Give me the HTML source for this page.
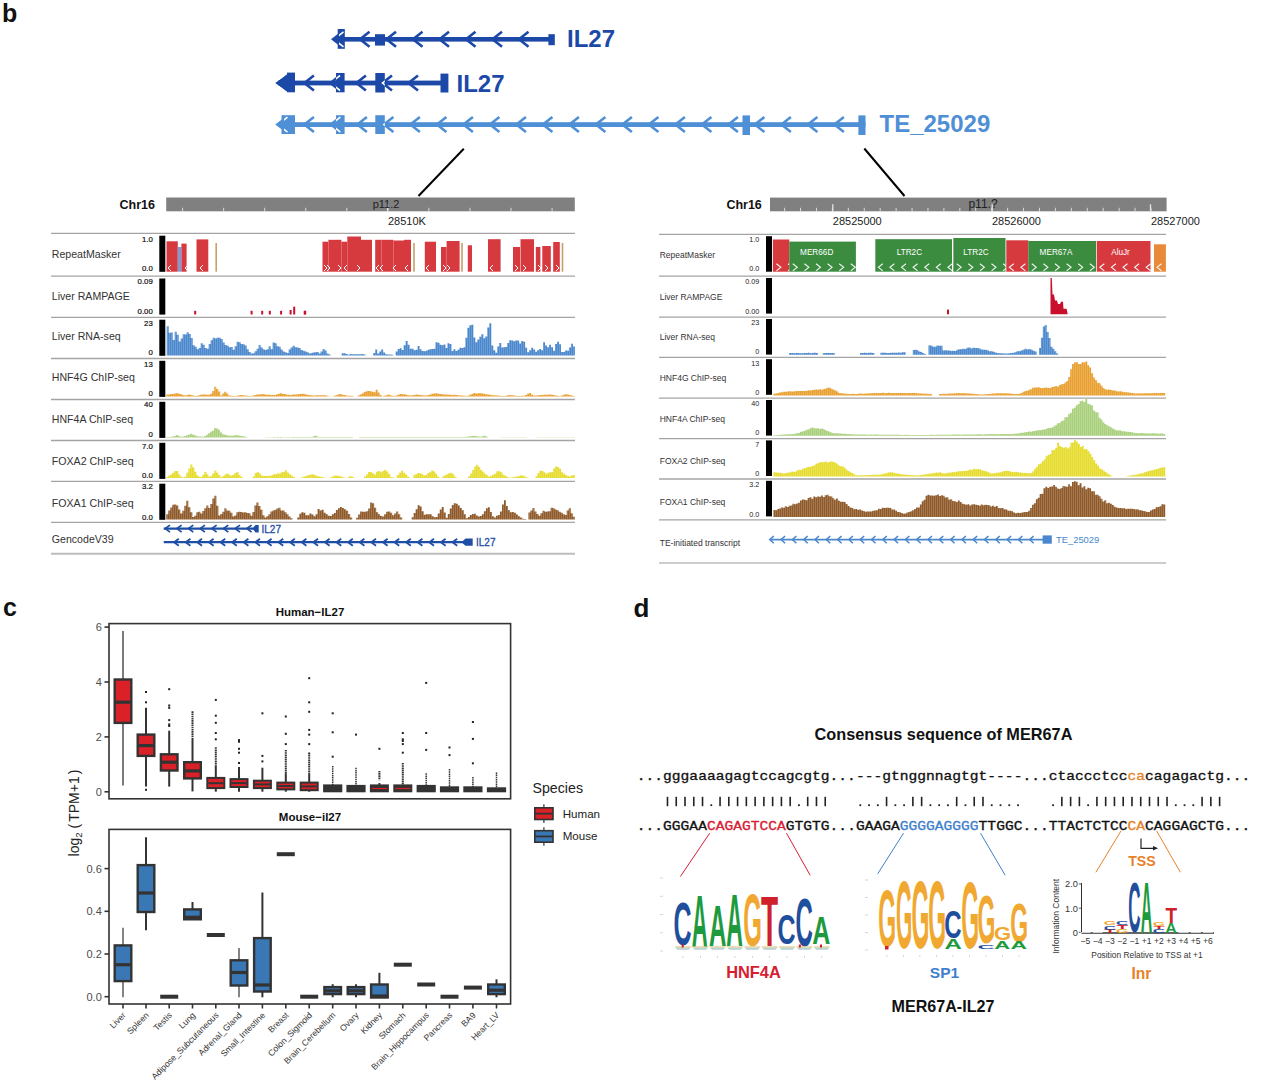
<!DOCTYPE html><html><head><meta charset="utf-8"><style>html,body{margin:0;padding:0;background:#fff;}svg{display:block;}</style></head><body>
<svg width="1269" height="1082" viewBox="0 0 1269 1082">
<defs><pattern id="stripe1" width="2" height="10" patternUnits="userSpaceOnUse"><rect x="1.5" y="0" width="0.5" height="10" fill="#ffffff" fill-opacity="0.35"/></pattern><pattern id="stripe2" width="3.8" height="10" patternUnits="userSpaceOnUse"><rect x="3" y="0" width="0.8" height="10" fill="#ffffff" fill-opacity="0.22"/></pattern></defs>
<rect x="0" y="0" width="1269" height="1082" fill="#ffffff" />
<text x="2" y="21.6" font-size="25" fill="#111" font-weight="bold" text-anchor="start" font-family='"Liberation Sans", sans-serif' >b</text>
<text x="3" y="616" font-size="25" fill="#111" font-weight="bold" text-anchor="start" font-family='"Liberation Sans", sans-serif' >c</text>
<text x="633.5" y="616.5" font-size="26" fill="#111" font-weight="bold" text-anchor="start" font-family='"Liberation Sans", sans-serif' >d</text>
<rect x="334" y="37" width="217" height="4.6" fill="#1c48a8" />
<polyline points="343.5,31.8 334,39.3 343.5,46.8" fill="none" stroke="#1c48a8" stroke-width="2.6" stroke-linecap="butt" stroke-linejoin="miter"/>
<polyline points="369.5,31.8 360,39.3 369.5,46.8" fill="none" stroke="#1c48a8" stroke-width="2.6" stroke-linecap="butt" stroke-linejoin="miter"/>
<polyline points="396,31.8 386.5,39.3 396,46.8" fill="none" stroke="#1c48a8" stroke-width="2.6" stroke-linecap="butt" stroke-linejoin="miter"/>
<polyline points="422.5,31.8 413,39.3 422.5,46.8" fill="none" stroke="#1c48a8" stroke-width="2.6" stroke-linecap="butt" stroke-linejoin="miter"/>
<polyline points="449,31.8 439.5,39.3 449,46.8" fill="none" stroke="#1c48a8" stroke-width="2.6" stroke-linecap="butt" stroke-linejoin="miter"/>
<polyline points="475.5,31.8 466,39.3 475.5,46.8" fill="none" stroke="#1c48a8" stroke-width="2.6" stroke-linecap="butt" stroke-linejoin="miter"/>
<polyline points="502,31.8 492.5,39.3 502,46.8" fill="none" stroke="#1c48a8" stroke-width="2.6" stroke-linecap="butt" stroke-linejoin="miter"/>
<polyline points="528.5,31.8 519,39.3 528.5,46.8" fill="none" stroke="#1c48a8" stroke-width="2.6" stroke-linecap="butt" stroke-linejoin="miter"/>
<rect x="337.7" y="29" width="7.1" height="19.8" fill="#1c48a8" />
<rect x="375" y="34.2" width="10" height="11.4" fill="#1c48a8" />
<rect x="548.4" y="34.2" width="6.4" height="11" fill="#1c48a8" />
<clipPath id="gc1"><rect x="337.7" y="29" width="7.1" height="19.8"/></clipPath>
<g clip-path="url(#gc1)">
<polyline points="343.5,31.8 334,39.3 343.5,46.8" fill="none" stroke="#ffffff" stroke-width="1.6" stroke-linecap="butt" stroke-linejoin="miter"/>
</g>
<clipPath id="gc2"><rect x="375" y="34.2" width="10" height="11.4"/></clipPath>
<g clip-path="url(#gc2)">
</g>
<clipPath id="gc3"><rect x="548.4" y="34.2" width="6.4" height="11"/></clipPath>
<g clip-path="url(#gc3)">
</g>
<polygon points="331,39.3 339,33 339,45.6" fill="#1c48a8" />
<text x="567" y="46.8" font-size="24" fill="#1c48a8" font-weight="bold" text-anchor="start" font-family='"Liberation Sans", sans-serif' >IL27</text>
<rect x="278" y="80.6" width="170" height="4.8" fill="#1c48a8" />
<polyline points="287.5,75.5 278,83 287.5,90.5" fill="none" stroke="#1c48a8" stroke-width="2.6" stroke-linecap="butt" stroke-linejoin="miter"/>
<polyline points="313.9,75.5 304.4,83 313.9,90.5" fill="none" stroke="#1c48a8" stroke-width="2.6" stroke-linecap="butt" stroke-linejoin="miter"/>
<polyline points="340,75.5 330.5,83 340,90.5" fill="none" stroke="#1c48a8" stroke-width="2.6" stroke-linecap="butt" stroke-linejoin="miter"/>
<polyline points="365.9,75.5 356.4,83 365.9,90.5" fill="none" stroke="#1c48a8" stroke-width="2.6" stroke-linecap="butt" stroke-linejoin="miter"/>
<polyline points="392,75.5 382.5,83 392,90.5" fill="none" stroke="#1c48a8" stroke-width="2.6" stroke-linecap="butt" stroke-linejoin="miter"/>
<polyline points="418,75.5 408.5,83 418,90.5" fill="none" stroke="#1c48a8" stroke-width="2.6" stroke-linecap="butt" stroke-linejoin="miter"/>
<rect x="287" y="72.6" width="8" height="19.7" fill="#1c48a8" />
<rect x="336" y="73" width="8.6" height="19.3" fill="#1c48a8" />
<rect x="375.3" y="73" width="9.5" height="19.5" fill="#1c48a8" />
<rect x="440.5" y="73.6" width="7.9" height="18.9" fill="#1c48a8" />
<clipPath id="gc4"><rect x="287" y="72.6" width="8" height="19.7"/></clipPath>
<g clip-path="url(#gc4)">
<polyline points="287.5,75.5 278,83 287.5,90.5" fill="none" stroke="#ffffff" stroke-width="1.6" stroke-linecap="butt" stroke-linejoin="miter"/>
</g>
<clipPath id="gc5"><rect x="336" y="73" width="8.6" height="19.3"/></clipPath>
<g clip-path="url(#gc5)">
<polyline points="340,75.5 330.5,83 340,90.5" fill="none" stroke="#ffffff" stroke-width="1.6" stroke-linecap="butt" stroke-linejoin="miter"/>
</g>
<clipPath id="gc6"><rect x="375.3" y="73" width="9.5" height="19.5"/></clipPath>
<g clip-path="url(#gc6)">
<polyline points="392,75.5 382.5,83 392,90.5" fill="none" stroke="#ffffff" stroke-width="1.6" stroke-linecap="butt" stroke-linejoin="miter"/>
</g>
<clipPath id="gc7"><rect x="440.5" y="73.6" width="7.9" height="18.9"/></clipPath>
<g clip-path="url(#gc7)">
</g>
<polygon points="275.2,83 289,74 289,92" fill="#1c48a8" />
<text x="456.5" y="91.7" font-size="24" fill="#1c48a8" font-weight="bold" text-anchor="start" font-family='"Liberation Sans", sans-serif' >IL27</text>
<rect x="278" y="122.2" width="587.5" height="4.8" fill="#4f8fd5" />
<polyline points="287.5,117.1 278,124.6 287.5,132.1" fill="none" stroke="#4f8fd5" stroke-width="2.6" stroke-linecap="butt" stroke-linejoin="miter"/>
<polyline points="313.9,117.1 304.4,124.6 313.9,132.1" fill="none" stroke="#4f8fd5" stroke-width="2.6" stroke-linecap="butt" stroke-linejoin="miter"/>
<polyline points="340.4,117.1 330.9,124.6 340.4,132.1" fill="none" stroke="#4f8fd5" stroke-width="2.6" stroke-linecap="butt" stroke-linejoin="miter"/>
<polyline points="366.9,117.1 357.4,124.6 366.9,132.1" fill="none" stroke="#4f8fd5" stroke-width="2.6" stroke-linecap="butt" stroke-linejoin="miter"/>
<polyline points="393.4,117.1 383.9,124.6 393.4,132.1" fill="none" stroke="#4f8fd5" stroke-width="2.6" stroke-linecap="butt" stroke-linejoin="miter"/>
<polyline points="419.9,117.1 410.4,124.6 419.9,132.1" fill="none" stroke="#4f8fd5" stroke-width="2.6" stroke-linecap="butt" stroke-linejoin="miter"/>
<polyline points="446.4,117.1 436.9,124.6 446.4,132.1" fill="none" stroke="#4f8fd5" stroke-width="2.6" stroke-linecap="butt" stroke-linejoin="miter"/>
<polyline points="472.9,117.1 463.4,124.6 472.9,132.1" fill="none" stroke="#4f8fd5" stroke-width="2.6" stroke-linecap="butt" stroke-linejoin="miter"/>
<polyline points="499.4,117.1 489.9,124.6 499.4,132.1" fill="none" stroke="#4f8fd5" stroke-width="2.6" stroke-linecap="butt" stroke-linejoin="miter"/>
<polyline points="525.9,117.1 516.4,124.6 525.9,132.1" fill="none" stroke="#4f8fd5" stroke-width="2.6" stroke-linecap="butt" stroke-linejoin="miter"/>
<polyline points="552.4,117.1 542.9,124.6 552.4,132.1" fill="none" stroke="#4f8fd5" stroke-width="2.6" stroke-linecap="butt" stroke-linejoin="miter"/>
<polyline points="578.9,117.1 569.4,124.6 578.9,132.1" fill="none" stroke="#4f8fd5" stroke-width="2.6" stroke-linecap="butt" stroke-linejoin="miter"/>
<polyline points="605.4,117.1 595.9,124.6 605.4,132.1" fill="none" stroke="#4f8fd5" stroke-width="2.6" stroke-linecap="butt" stroke-linejoin="miter"/>
<polyline points="631.9,117.1 622.4,124.6 631.9,132.1" fill="none" stroke="#4f8fd5" stroke-width="2.6" stroke-linecap="butt" stroke-linejoin="miter"/>
<polyline points="658.4,117.1 648.9,124.6 658.4,132.1" fill="none" stroke="#4f8fd5" stroke-width="2.6" stroke-linecap="butt" stroke-linejoin="miter"/>
<polyline points="684.9,117.1 675.4,124.6 684.9,132.1" fill="none" stroke="#4f8fd5" stroke-width="2.6" stroke-linecap="butt" stroke-linejoin="miter"/>
<polyline points="711.4,117.1 701.9,124.6 711.4,132.1" fill="none" stroke="#4f8fd5" stroke-width="2.6" stroke-linecap="butt" stroke-linejoin="miter"/>
<polyline points="737.9,117.1 728.4,124.6 737.9,132.1" fill="none" stroke="#4f8fd5" stroke-width="2.6" stroke-linecap="butt" stroke-linejoin="miter"/>
<polyline points="764.4,117.1 754.9,124.6 764.4,132.1" fill="none" stroke="#4f8fd5" stroke-width="2.6" stroke-linecap="butt" stroke-linejoin="miter"/>
<polyline points="790.9,117.1 781.4,124.6 790.9,132.1" fill="none" stroke="#4f8fd5" stroke-width="2.6" stroke-linecap="butt" stroke-linejoin="miter"/>
<polyline points="817.4,117.1 807.9,124.6 817.4,132.1" fill="none" stroke="#4f8fd5" stroke-width="2.6" stroke-linecap="butt" stroke-linejoin="miter"/>
<polyline points="843.9,117.1 834.4,124.6 843.9,132.1" fill="none" stroke="#4f8fd5" stroke-width="2.6" stroke-linecap="butt" stroke-linejoin="miter"/>
<rect x="281.5" y="115.2" width="13.5" height="18.8" fill="#4f8fd5" />
<rect x="336" y="115.2" width="8.6" height="18.8" fill="#4f8fd5" />
<rect x="375.3" y="115.2" width="9.5" height="18.8" fill="#4f8fd5" />
<rect x="742.5" y="115.4" width="7.5" height="19.6" fill="#4f8fd5" />
<rect x="858.4" y="115.4" width="7.1" height="19.6" fill="#4f8fd5" />
<clipPath id="gc8"><rect x="281.5" y="115.2" width="13.5" height="18.8"/></clipPath>
<g clip-path="url(#gc8)">
<polyline points="287.5,117.1 278,124.6 287.5,132.1" fill="none" stroke="#ffffff" stroke-width="1.6" stroke-linecap="butt" stroke-linejoin="miter"/>
</g>
<clipPath id="gc9"><rect x="336" y="115.2" width="8.6" height="18.8"/></clipPath>
<g clip-path="url(#gc9)">
<polyline points="340.4,117.1 330.9,124.6 340.4,132.1" fill="none" stroke="#ffffff" stroke-width="1.6" stroke-linecap="butt" stroke-linejoin="miter"/>
</g>
<clipPath id="gc10"><rect x="375.3" y="115.2" width="9.5" height="18.8"/></clipPath>
<g clip-path="url(#gc10)">
<polyline points="393.4,117.1 383.9,124.6 393.4,132.1" fill="none" stroke="#ffffff" stroke-width="1.6" stroke-linecap="butt" stroke-linejoin="miter"/>
</g>
<clipPath id="gc11"><rect x="742.5" y="115.4" width="7.5" height="19.6"/></clipPath>
<g clip-path="url(#gc11)">
</g>
<clipPath id="gc12"><rect x="858.4" y="115.4" width="7.1" height="19.6"/></clipPath>
<g clip-path="url(#gc12)">
</g>
<polygon points="275.2,124.6 284,118 284,131" fill="#4f8fd5" />
<text x="879.5" y="132.3" font-size="24" fill="#4f8fd5" font-weight="bold" text-anchor="start" font-family='"Liberation Sans", sans-serif' >TE_25029</text>
<line x1="463.8" y1="148.8" x2="418.5" y2="196" stroke="#000" stroke-width="2" />
<line x1="864.3" y1="148.5" x2="904.5" y2="196" stroke="#000" stroke-width="2" />
<text x="119.5" y="208.7" font-size="12.5" fill="#111" font-weight="bold" text-anchor="start" font-family='"Liberation Sans", sans-serif' >Chr16</text>
<rect x="166.2" y="197.5" width="408.6" height="13.8" fill="#808080" />
<line x1="182.6" y1="207.8" x2="182.6" y2="211.3" stroke="#d8d8d8" stroke-width="1" />
<line x1="223.65" y1="207.8" x2="223.65" y2="211.3" stroke="#d8d8d8" stroke-width="1" />
<line x1="264.7" y1="207.8" x2="264.7" y2="211.3" stroke="#d8d8d8" stroke-width="1" />
<line x1="305.75" y1="207.8" x2="305.75" y2="211.3" stroke="#d8d8d8" stroke-width="1" />
<line x1="346.8" y1="207.8" x2="346.8" y2="211.3" stroke="#d8d8d8" stroke-width="1" />
<line x1="387.85" y1="207.8" x2="387.85" y2="211.3" stroke="#d8d8d8" stroke-width="1" />
<line x1="428.9" y1="207.8" x2="428.9" y2="211.3" stroke="#d8d8d8" stroke-width="1" />
<line x1="469.95" y1="207.8" x2="469.95" y2="211.3" stroke="#d8d8d8" stroke-width="1" />
<line x1="511" y1="207.8" x2="511" y2="211.3" stroke="#d8d8d8" stroke-width="1" />
<line x1="552.05" y1="207.8" x2="552.05" y2="211.3" stroke="#d8d8d8" stroke-width="1" />
<line x1="387.6" y1="204.3" x2="387.6" y2="211.3" stroke="#e6e6e6" stroke-width="1.3" />
<text x="386" y="208.3" font-size="11" fill="#222" font-weight="normal" text-anchor="middle" font-family='"Liberation Sans", sans-serif' >p11.2</text>
<text x="388" y="225" font-size="11" fill="#222" font-weight="normal" text-anchor="start" font-family='"Liberation Sans", sans-serif' >28510K</text>
<line x1="51" y1="233.4" x2="575" y2="233.4" stroke="#a4a4a4" stroke-width="1.3" />
<line x1="51" y1="276.2" x2="575" y2="276.2" stroke="#a4a4a4" stroke-width="1.3" />
<line x1="51" y1="317.4" x2="575" y2="317.4" stroke="#a4a4a4" stroke-width="1.3" />
<line x1="51" y1="358.5" x2="575" y2="358.5" stroke="#a4a4a4" stroke-width="1.3" />
<line x1="51" y1="399.5" x2="575" y2="399.5" stroke="#a4a4a4" stroke-width="1.3" />
<line x1="51" y1="440.5" x2="575" y2="440.5" stroke="#a4a4a4" stroke-width="1.3" />
<line x1="51" y1="481.4" x2="575" y2="481.4" stroke="#a4a4a4" stroke-width="1.3" />
<line x1="51" y1="522.4" x2="575" y2="522.4" stroke="#a4a4a4" stroke-width="1.3" />
<line x1="51" y1="553.8" x2="575" y2="553.8" stroke="#bdbdbd" stroke-width="2" />
<text x="51.8" y="257.8" font-size="10.6" fill="#333" font-weight="normal" text-anchor="start" font-family='"Liberation Sans", sans-serif' >RepeatMasker</text>
<text x="51.8" y="300" font-size="10.6" fill="#333" font-weight="normal" text-anchor="start" font-family='"Liberation Sans", sans-serif' >Liver RAMPAGE</text>
<text x="51.8" y="339.8" font-size="10.6" fill="#333" font-weight="normal" text-anchor="start" font-family='"Liberation Sans", sans-serif' >Liver RNA-seq</text>
<text x="51.8" y="381.3" font-size="10.6" fill="#333" font-weight="normal" text-anchor="start" font-family='"Liberation Sans", sans-serif' >HNF4G ChIP-seq</text>
<text x="51.8" y="422.5" font-size="10.6" fill="#333" font-weight="normal" text-anchor="start" font-family='"Liberation Sans", sans-serif' >HNF4A ChIP-seq</text>
<text x="51.8" y="465.1" font-size="10.6" fill="#333" font-weight="normal" text-anchor="start" font-family='"Liberation Sans", sans-serif' >FOXA2 ChIP-seq</text>
<text x="51.8" y="506.8" font-size="10.6" fill="#333" font-weight="normal" text-anchor="start" font-family='"Liberation Sans", sans-serif' >FOXA1 ChIP-seq</text>
<text x="51.8" y="543.1" font-size="10.6" fill="#333" font-weight="normal" text-anchor="start" font-family='"Liberation Sans", sans-serif' >GencodeV39</text>
<text x="152.8" y="241.7" font-size="7.8" fill="#111" font-weight="normal" text-anchor="end" font-family='"Liberation Sans", sans-serif' stroke="#111" stroke-width="0.2">1.0</text>
<text x="152.8" y="271.1" font-size="7.8" fill="#111" font-weight="normal" text-anchor="end" font-family='"Liberation Sans", sans-serif' stroke="#111" stroke-width="0.2">0.0</text>
<text x="152.8" y="284.2" font-size="7.8" fill="#111" font-weight="normal" text-anchor="end" font-family='"Liberation Sans", sans-serif' stroke="#111" stroke-width="0.2">0.09</text>
<text x="152.8" y="314.2" font-size="7.8" fill="#111" font-weight="normal" text-anchor="end" font-family='"Liberation Sans", sans-serif' stroke="#111" stroke-width="0.2">0.00</text>
<text x="152.8" y="326.2" font-size="7.8" fill="#111" font-weight="normal" text-anchor="end" font-family='"Liberation Sans", sans-serif' stroke="#111" stroke-width="0.2">23</text>
<text x="152.8" y="355" font-size="7.8" fill="#111" font-weight="normal" text-anchor="end" font-family='"Liberation Sans", sans-serif' stroke="#111" stroke-width="0.2">0</text>
<text x="152.8" y="366.7" font-size="7.8" fill="#111" font-weight="normal" text-anchor="end" font-family='"Liberation Sans", sans-serif' stroke="#111" stroke-width="0.2">13</text>
<text x="152.8" y="395.5" font-size="7.8" fill="#111" font-weight="normal" text-anchor="end" font-family='"Liberation Sans", sans-serif' stroke="#111" stroke-width="0.2">0</text>
<text x="152.8" y="407.4" font-size="7.8" fill="#111" font-weight="normal" text-anchor="end" font-family='"Liberation Sans", sans-serif' stroke="#111" stroke-width="0.2">40</text>
<text x="152.8" y="437.3" font-size="7.8" fill="#111" font-weight="normal" text-anchor="end" font-family='"Liberation Sans", sans-serif' stroke="#111" stroke-width="0.2">0</text>
<text x="152.8" y="449.1" font-size="7.8" fill="#111" font-weight="normal" text-anchor="end" font-family='"Liberation Sans", sans-serif' stroke="#111" stroke-width="0.2">7.0</text>
<text x="152.8" y="477.8" font-size="7.8" fill="#111" font-weight="normal" text-anchor="end" font-family='"Liberation Sans", sans-serif' stroke="#111" stroke-width="0.2">0.0</text>
<text x="152.8" y="489.3" font-size="7.8" fill="#111" font-weight="normal" text-anchor="end" font-family='"Liberation Sans", sans-serif' stroke="#111" stroke-width="0.2">3.2</text>
<text x="152.8" y="519.6" font-size="7.8" fill="#111" font-weight="normal" text-anchor="end" font-family='"Liberation Sans", sans-serif' stroke="#111" stroke-width="0.2">0.0</text>
<rect x="159.3" y="235.7" width="6" height="36.1" fill="#000" />
<rect x="159.3" y="278.5" width="6" height="36.1" fill="#000" />
<rect x="159.3" y="319.7" width="6" height="36.1" fill="#000" />
<rect x="159.3" y="360.8" width="6" height="36.1" fill="#000" />
<rect x="159.3" y="401.8" width="6" height="36.1" fill="#000" />
<rect x="159.3" y="442.8" width="6" height="36.1" fill="#000" />
<rect x="159.3" y="483.7" width="6" height="36.1" fill="#000" />
<rect x="166.5" y="241.3" width="11.3" height="30.4" fill="#d63a3f" />
<rect x="177.8" y="247" width="3.6" height="24.7" fill="#7f9ad2" />
<rect x="181.4" y="243.6" width="5.2" height="28.1" fill="#d63a3f" />
<rect x="196.5" y="239.4" width="11.8" height="32.3" fill="#d63a3f" />
<rect x="322.5" y="241.7" width="5.9" height="30" fill="#d63a3f" />
<rect x="328.4" y="239.8" width="13" height="31.9" fill="#d63a3f" />
<rect x="341.4" y="241.7" width="5.9" height="30" fill="#d63a3f" />
<rect x="347.3" y="236.5" width="13.7" height="35.2" fill="#d63a3f" />
<rect x="361" y="239.8" width="11" height="31.9" fill="#d63a3f" />
<rect x="375.2" y="239.8" width="6.4" height="31.9" fill="#d63a3f" />
<rect x="381.6" y="239.8" width="11.8" height="31.9" fill="#d63a3f" />
<rect x="393.4" y="240.5" width="10.6" height="31.2" fill="#d63a3f" />
<rect x="404" y="239.8" width="7" height="31.9" fill="#d63a3f" />
<rect x="424.8" y="241.7" width="11.2" height="30" fill="#d63a3f" />
<rect x="441" y="247" width="5.6" height="24.7" fill="#d63a3f" />
<rect x="446.6" y="241" width="13" height="30.7" fill="#d63a3f" />
<rect x="467.8" y="245.3" width="4.2" height="26.4" fill="#d63a3f" />
<rect x="488" y="239.2" width="12.6" height="32.5" fill="#d63a3f" />
<rect x="513" y="247" width="7" height="24.7" fill="#d63a3f" />
<rect x="520.5" y="239.2" width="13.5" height="32.5" fill="#d63a3f" />
<rect x="535.8" y="247" width="4.6" height="24.7" fill="#d63a3f" />
<rect x="542.3" y="246" width="8.5" height="25.7" fill="#d63a3f" />
<rect x="553.2" y="242" width="6.6" height="29.7" fill="#d63a3f" />
<rect x="215.4" y="243" width="1.6" height="28.7" fill="#c9a06a" />
<rect x="413.2" y="243" width="1.6" height="28.7" fill="#c9a06a" />
<rect x="461.2" y="243" width="1.6" height="28.7" fill="#c9a06a" />
<rect x="561.7" y="243" width="1.6" height="28.7" fill="#c9a06a" />
<polyline points="171,265 168,268 171,271" fill="none" stroke="#ffffff" stroke-width="1" stroke-linecap="butt" stroke-linejoin="miter"/>
<polyline points="188,265 185,268 188,271" fill="none" stroke="#ffffff" stroke-width="1" stroke-linecap="butt" stroke-linejoin="miter"/>
<polyline points="203,265 200,268 203,271" fill="none" stroke="#ffffff" stroke-width="1" stroke-linecap="butt" stroke-linejoin="miter"/>
<polyline points="324,265 327,268 324,271" fill="none" stroke="#ffffff" stroke-width="1" stroke-linecap="butt" stroke-linejoin="miter"/>
<polyline points="327,265 330,268 327,271" fill="none" stroke="#ffffff" stroke-width="1" stroke-linecap="butt" stroke-linejoin="miter"/>
<polyline points="338,265 341,268 338,271" fill="none" stroke="#ffffff" stroke-width="1" stroke-linecap="butt" stroke-linejoin="miter"/>
<polyline points="347,265 344,268 347,271" fill="none" stroke="#ffffff" stroke-width="1" stroke-linecap="butt" stroke-linejoin="miter"/>
<polyline points="357,265 360,268 357,271" fill="none" stroke="#ffffff" stroke-width="1" stroke-linecap="butt" stroke-linejoin="miter"/>
<polyline points="379,265 376,268 379,271" fill="none" stroke="#ffffff" stroke-width="1" stroke-linecap="butt" stroke-linejoin="miter"/>
<polyline points="383,265 380,268 383,271" fill="none" stroke="#ffffff" stroke-width="1" stroke-linecap="butt" stroke-linejoin="miter"/>
<polyline points="396,265 393,268 396,271" fill="none" stroke="#ffffff" stroke-width="1" stroke-linecap="butt" stroke-linejoin="miter"/>
<polyline points="408,265 405,268 408,271" fill="none" stroke="#ffffff" stroke-width="1" stroke-linecap="butt" stroke-linejoin="miter"/>
<polyline points="429,265 426,268 429,271" fill="none" stroke="#ffffff" stroke-width="1" stroke-linecap="butt" stroke-linejoin="miter"/>
<polyline points="443,265 446,268 443,271" fill="none" stroke="#ffffff" stroke-width="1" stroke-linecap="butt" stroke-linejoin="miter"/>
<polyline points="447,265 450,268 447,271" fill="none" stroke="#ffffff" stroke-width="1" stroke-linecap="butt" stroke-linejoin="miter"/>
<polyline points="493,265 490,268 493,271" fill="none" stroke="#ffffff" stroke-width="1" stroke-linecap="butt" stroke-linejoin="miter"/>
<polyline points="515,265 518,268 515,271" fill="none" stroke="#ffffff" stroke-width="1" stroke-linecap="butt" stroke-linejoin="miter"/>
<polyline points="523,265 526,268 523,271" fill="none" stroke="#ffffff" stroke-width="1" stroke-linecap="butt" stroke-linejoin="miter"/>
<polyline points="538,265 541,268 538,271" fill="none" stroke="#ffffff" stroke-width="1" stroke-linecap="butt" stroke-linejoin="miter"/>
<polyline points="545,265 548,268 545,271" fill="none" stroke="#ffffff" stroke-width="1" stroke-linecap="butt" stroke-linejoin="miter"/>
<polyline points="556,265 559,268 556,271" fill="none" stroke="#ffffff" stroke-width="1" stroke-linecap="butt" stroke-linejoin="miter"/>
<rect x="194.2" y="310.8" width="2" height="3.7" fill="#c8102e" />
<rect x="250.6" y="310.8" width="2" height="3.7" fill="#c8102e" />
<rect x="261.2" y="310.8" width="2" height="3.7" fill="#c8102e" />
<rect x="268.8" y="310.8" width="2" height="3.7" fill="#c8102e" />
<rect x="280.1" y="310.8" width="2" height="3.7" fill="#c8102e" />
<rect x="304.2" y="310.8" width="2" height="3.7" fill="#c8102e" />
<rect x="303.7" y="310.8" width="2" height="3.7" fill="#c8102e" />
<rect x="289.6" y="310" width="2" height="4.5" fill="#c8102e" />
<rect x="293.2" y="306.7" width="2" height="7.8" fill="#c8102e" />
<polygon points="166.7,355.5 166.7,326.29 168.7,326.29 168.7,332.86 170.7,332.86 170.7,332.55 172.7,332.55 172.7,339.94 174.7,339.94 174.7,331.64 176.69,331.64 176.69,334.71 178.69,334.71 178.69,341.41 180.69,341.41 180.69,338.48 182.69,338.48 182.69,334.33 184.69,334.33 184.69,334.4 186.69,334.4 186.69,332.22 188.69,332.22 188.69,333.91 190.69,333.91 190.69,337.99 192.68,337.99 192.68,345.31 194.68,345.31 194.68,346.81 196.68,346.81 196.68,349.35 198.68,349.35 198.68,347.9 200.68,347.9 200.68,343.3 202.68,343.3 202.68,344.69 204.68,344.69 204.68,348.1 206.68,348.1 206.68,348.71 208.67,348.71 208.67,343.9 210.67,343.9 210.67,340.3 212.67,340.3 212.67,337.82 214.67,337.82 214.67,338.41 216.67,338.41 216.67,337.66 218.67,337.66 218.67,337.7 220.67,337.7 220.67,339.04 222.67,339.04 222.67,342.54 224.66,342.54 224.66,344.93 226.66,344.93 226.66,345.71 228.66,345.71 228.66,347.24 230.66,347.24 230.66,347.07 232.66,347.07 232.66,349.73 234.66,349.73 234.66,346.2 236.66,346.2 236.66,341.65 238.66,341.65 238.66,342.25 240.65,342.25 240.65,344.04 242.65,344.04 242.65,344.23 244.65,344.23 244.65,345.42 246.65,345.42 246.65,349.2 248.65,349.2 248.65,352 250.65,352 250.65,353.54 252.65,353.54 252.65,353.26 254.65,353.26 254.65,351.21 256.65,351.21 256.65,348.85 258.64,348.85 258.64,345.07 260.64,345.07 260.64,347.55 262.64,347.55 262.64,349.32 264.64,349.32 264.64,350 266.64,350 266.64,349.19 268.64,349.19 268.64,346.16 270.64,346.16 270.64,349.2 272.64,349.2 272.64,342.59 274.63,342.59 274.63,343.28 276.63,343.28 276.63,346.22 278.63,346.22 278.63,346.81 280.63,346.81 280.63,349.62 282.63,349.62 282.63,351.61 284.63,351.61 284.63,352.32 286.63,352.32 286.63,353.08 288.63,353.08 288.63,349.47 290.62,349.47 290.62,347.43 292.62,347.43 292.62,345.69 294.62,345.69 294.62,347.33 296.62,347.33 296.62,347.41 298.62,347.41 298.62,347.9 300.62,347.9 300.62,350.11 302.62,350.11 302.62,350.75 304.62,350.75 304.62,351.48 306.61,351.48 306.61,352.29 308.61,352.29 308.61,353.38 310.61,353.38 310.61,352.98 312.61,352.98 312.61,352.57 314.61,352.57 314.61,352.32 316.61,352.32 316.61,352.05 318.61,352.05 318.61,353.59 320.61,353.59 320.61,351.49 322.6,351.49 322.6,348.88 324.6,348.88 324.6,350.56 326.6,350.56 326.6,353.45 328.6,353.45 328.6,354.49 330.6,354.49 330.6,355.5" fill="#4a87cc" />
<polygon points="166.7,355.5 166.7,326.29 168.7,326.29 168.7,332.86 170.7,332.86 170.7,332.55 172.7,332.55 172.7,339.94 174.7,339.94 174.7,331.64 176.69,331.64 176.69,334.71 178.69,334.71 178.69,341.41 180.69,341.41 180.69,338.48 182.69,338.48 182.69,334.33 184.69,334.33 184.69,334.4 186.69,334.4 186.69,332.22 188.69,332.22 188.69,333.91 190.69,333.91 190.69,337.99 192.68,337.99 192.68,345.31 194.68,345.31 194.68,346.81 196.68,346.81 196.68,349.35 198.68,349.35 198.68,347.9 200.68,347.9 200.68,343.3 202.68,343.3 202.68,344.69 204.68,344.69 204.68,348.1 206.68,348.1 206.68,348.71 208.67,348.71 208.67,343.9 210.67,343.9 210.67,340.3 212.67,340.3 212.67,337.82 214.67,337.82 214.67,338.41 216.67,338.41 216.67,337.66 218.67,337.66 218.67,337.7 220.67,337.7 220.67,339.04 222.67,339.04 222.67,342.54 224.66,342.54 224.66,344.93 226.66,344.93 226.66,345.71 228.66,345.71 228.66,347.24 230.66,347.24 230.66,347.07 232.66,347.07 232.66,349.73 234.66,349.73 234.66,346.2 236.66,346.2 236.66,341.65 238.66,341.65 238.66,342.25 240.65,342.25 240.65,344.04 242.65,344.04 242.65,344.23 244.65,344.23 244.65,345.42 246.65,345.42 246.65,349.2 248.65,349.2 248.65,352 250.65,352 250.65,353.54 252.65,353.54 252.65,353.26 254.65,353.26 254.65,351.21 256.65,351.21 256.65,348.85 258.64,348.85 258.64,345.07 260.64,345.07 260.64,347.55 262.64,347.55 262.64,349.32 264.64,349.32 264.64,350 266.64,350 266.64,349.19 268.64,349.19 268.64,346.16 270.64,346.16 270.64,349.2 272.64,349.2 272.64,342.59 274.63,342.59 274.63,343.28 276.63,343.28 276.63,346.22 278.63,346.22 278.63,346.81 280.63,346.81 280.63,349.62 282.63,349.62 282.63,351.61 284.63,351.61 284.63,352.32 286.63,352.32 286.63,353.08 288.63,353.08 288.63,349.47 290.62,349.47 290.62,347.43 292.62,347.43 292.62,345.69 294.62,345.69 294.62,347.33 296.62,347.33 296.62,347.41 298.62,347.41 298.62,347.9 300.62,347.9 300.62,350.11 302.62,350.11 302.62,350.75 304.62,350.75 304.62,351.48 306.61,351.48 306.61,352.29 308.61,352.29 308.61,353.38 310.61,353.38 310.61,352.98 312.61,352.98 312.61,352.57 314.61,352.57 314.61,352.32 316.61,352.32 316.61,352.05 318.61,352.05 318.61,353.59 320.61,353.59 320.61,351.49 322.6,351.49 322.6,348.88 324.6,348.88 324.6,350.56 326.6,350.56 326.6,353.45 328.6,353.45 328.6,354.49 330.6,354.49 330.6,355.5" fill="url(#stripe1)" />
<polygon points="341.7,355.5 341.7,353.2 343.68,353.2 343.68,353.18 345.65,353.18 345.65,354.09 347.62,354.09 347.62,354.86 349.6,354.86 349.6,354.03 351.57,354.03 351.57,354.22 353.55,354.22 353.55,354.3 355.52,354.3 355.52,354.22 357.5,354.22 357.5,354.29 359.47,354.29 359.47,354.3 361.45,354.3 361.45,354.1 363.42,354.1 363.42,354.6 365.4,354.6 365.4,355.5" fill="#4a87cc" />
<polygon points="341.7,355.5 341.7,353.2 343.68,353.2 343.68,353.18 345.65,353.18 345.65,354.09 347.62,354.09 347.62,354.86 349.6,354.86 349.6,354.03 351.57,354.03 351.57,354.22 353.55,354.22 353.55,354.3 355.52,354.3 355.52,354.22 357.5,354.22 357.5,354.29 359.47,354.29 359.47,354.3 361.45,354.3 361.45,354.1 363.42,354.1 363.42,354.6 365.4,354.6 365.4,355.5" fill="url(#stripe1)" />
<polygon points="373.2,355.5 373.2,352.97 375.19,352.97 375.19,349.45 377.18,349.45 377.18,353.61 379.17,353.61 379.17,351.56 381.16,351.56 381.16,349.38 383.15,349.38 383.15,352.61 385.14,352.61 385.14,354.34 387.13,354.34 387.13,354.51 389.12,354.51 389.12,354.41 391.11,354.41 391.11,354.85 393.1,354.85 393.1,355.5" fill="#4a87cc" />
<polygon points="373.2,355.5 373.2,352.97 375.19,352.97 375.19,349.45 377.18,349.45 377.18,353.61 379.17,353.61 379.17,351.56 381.16,351.56 381.16,349.38 383.15,349.38 383.15,352.61 385.14,352.61 385.14,354.34 387.13,354.34 387.13,354.51 389.12,354.51 389.12,354.41 391.11,354.41 391.11,354.85 393.1,354.85 393.1,355.5" fill="url(#stripe1)" />
<polygon points="395.7,355.5 395.7,351.4 397.69,351.4 397.69,349.01 399.68,349.01 399.68,348.34 401.67,348.34 401.67,349.98 403.66,349.98 403.66,345.26 405.66,345.26 405.66,341.12 407.65,341.12 407.65,344.77 409.64,344.77 409.64,348.74 411.63,348.74 411.63,348.82 413.62,348.82 413.62,350.16 415.61,350.16 415.61,349.84 417.6,349.84 417.6,345.97 419.59,345.97 419.59,349.17 421.58,349.17 421.58,350.89 423.58,350.89 423.58,351.29 425.57,351.29 425.57,350.77 427.56,350.77 427.56,349.87 429.55,349.87 429.55,349.36 431.54,349.36 431.54,348.98 433.53,348.98 433.53,348.87 435.52,348.87 435.52,342.14 437.51,342.14 437.51,342.67 439.5,342.67 439.5,344.76 441.5,344.76 441.5,345.15 443.49,345.15 443.49,344.61 445.48,344.61 445.48,348.09 447.47,348.09 447.47,343.37 449.46,343.37 449.46,344.05 451.45,344.05 451.45,351.05 453.44,351.05 453.44,349.27 455.43,349.27 455.43,351.05 457.42,351.05 457.42,349.81 459.42,349.81 459.42,347.73 461.41,347.73 461.41,348.11 463.4,348.11 463.4,347.15 465.39,347.15 465.39,337.87 467.38,337.87 467.38,327.74 469.37,327.74 469.37,325.2 471.36,325.2 471.36,324.77 473.35,324.77 473.35,337.51 475.34,337.51 475.34,342.35 477.34,342.35 477.34,339.49 479.33,339.49 479.33,336.66 481.32,336.66 481.32,334.2 483.31,334.2 483.31,338.2 485.3,338.2 485.3,336.57 487.29,336.57 487.29,327.44 489.28,327.44 489.28,323.35 491.27,323.35 491.27,345.46 493.26,345.46 493.26,350.15 495.26,350.15 495.26,352.85 497.25,352.85 497.25,346.58 499.24,346.58 499.24,342.99 501.23,342.99 501.23,347.58 503.22,347.58 503.22,347.27 505.21,347.27 505.21,347.07 507.2,347.07 507.2,342.95 509.19,342.95 509.19,340.37 511.18,340.37 511.18,340.59 513.18,340.59 513.18,341.34 515.17,341.34 515.17,340.6 517.16,340.6 517.16,340.57 519.15,340.57 519.15,343.51 521.14,343.51 521.14,341.05 523.13,341.05 523.13,341.7 525.12,341.7 525.12,347.85 527.11,347.85 527.11,352.13 529.1,352.13 529.1,350.17 531.1,350.17 531.1,347.82 533.09,347.82 533.09,349.56 535.08,349.56 535.08,351.87 537.07,351.87 537.07,350.36 539.06,350.36 539.06,349.04 541.05,349.04 541.05,350.23 543.04,350.23 543.04,342.3 545.03,342.3 545.03,345.39 547.02,345.39 547.02,347.27 549.02,347.27 549.02,344.64 551.01,344.64 551.01,347.33 553,347.33 553,350.85 554.99,350.85 554.99,343.89 556.98,343.89 556.98,341.86 558.97,341.86 558.97,344.16 560.96,344.16 560.96,351.91 562.95,351.91 562.95,351.88 564.94,351.88 564.94,350.5 566.94,350.5 566.94,350.75 568.93,350.75 568.93,347.47 570.92,347.47 570.92,343.74 572.91,343.74 572.91,346.4 574.9,346.4 574.9,355.5" fill="#4a87cc" />
<polygon points="395.7,355.5 395.7,351.4 397.69,351.4 397.69,349.01 399.68,349.01 399.68,348.34 401.67,348.34 401.67,349.98 403.66,349.98 403.66,345.26 405.66,345.26 405.66,341.12 407.65,341.12 407.65,344.77 409.64,344.77 409.64,348.74 411.63,348.74 411.63,348.82 413.62,348.82 413.62,350.16 415.61,350.16 415.61,349.84 417.6,349.84 417.6,345.97 419.59,345.97 419.59,349.17 421.58,349.17 421.58,350.89 423.58,350.89 423.58,351.29 425.57,351.29 425.57,350.77 427.56,350.77 427.56,349.87 429.55,349.87 429.55,349.36 431.54,349.36 431.54,348.98 433.53,348.98 433.53,348.87 435.52,348.87 435.52,342.14 437.51,342.14 437.51,342.67 439.5,342.67 439.5,344.76 441.5,344.76 441.5,345.15 443.49,345.15 443.49,344.61 445.48,344.61 445.48,348.09 447.47,348.09 447.47,343.37 449.46,343.37 449.46,344.05 451.45,344.05 451.45,351.05 453.44,351.05 453.44,349.27 455.43,349.27 455.43,351.05 457.42,351.05 457.42,349.81 459.42,349.81 459.42,347.73 461.41,347.73 461.41,348.11 463.4,348.11 463.4,347.15 465.39,347.15 465.39,337.87 467.38,337.87 467.38,327.74 469.37,327.74 469.37,325.2 471.36,325.2 471.36,324.77 473.35,324.77 473.35,337.51 475.34,337.51 475.34,342.35 477.34,342.35 477.34,339.49 479.33,339.49 479.33,336.66 481.32,336.66 481.32,334.2 483.31,334.2 483.31,338.2 485.3,338.2 485.3,336.57 487.29,336.57 487.29,327.44 489.28,327.44 489.28,323.35 491.27,323.35 491.27,345.46 493.26,345.46 493.26,350.15 495.26,350.15 495.26,352.85 497.25,352.85 497.25,346.58 499.24,346.58 499.24,342.99 501.23,342.99 501.23,347.58 503.22,347.58 503.22,347.27 505.21,347.27 505.21,347.07 507.2,347.07 507.2,342.95 509.19,342.95 509.19,340.37 511.18,340.37 511.18,340.59 513.18,340.59 513.18,341.34 515.17,341.34 515.17,340.6 517.16,340.6 517.16,340.57 519.15,340.57 519.15,343.51 521.14,343.51 521.14,341.05 523.13,341.05 523.13,341.7 525.12,341.7 525.12,347.85 527.11,347.85 527.11,352.13 529.1,352.13 529.1,350.17 531.1,350.17 531.1,347.82 533.09,347.82 533.09,349.56 535.08,349.56 535.08,351.87 537.07,351.87 537.07,350.36 539.06,350.36 539.06,349.04 541.05,349.04 541.05,350.23 543.04,350.23 543.04,342.3 545.03,342.3 545.03,345.39 547.02,345.39 547.02,347.27 549.02,347.27 549.02,344.64 551.01,344.64 551.01,347.33 553,347.33 553,350.85 554.99,350.85 554.99,343.89 556.98,343.89 556.98,341.86 558.97,341.86 558.97,344.16 560.96,344.16 560.96,351.91 562.95,351.91 562.95,351.88 564.94,351.88 564.94,350.5 566.94,350.5 566.94,350.75 568.93,350.75 568.93,347.47 570.92,347.47 570.92,343.74 572.91,343.74 572.91,346.4 574.9,346.4 574.9,355.5" fill="url(#stripe1)" />
<polygon points="166.29,396.4 166.29,394.51 168.28,394.51 168.28,394.39 170.28,394.39 170.28,393.98 172.28,393.98 172.28,394.09 174.28,394.09 174.28,393.58 176.28,393.58 176.28,393.35 178.28,393.35 178.28,393.71 180.28,393.71 180.28,394.18 182.28,394.18 182.28,394.97 184.28,394.97 184.28,395.46 186.28,395.46 186.28,394.92 188.28,394.92 188.28,394.47 190.27,394.47 190.27,394.98 192.27,394.98 192.27,395.59 194.27,395.59 194.27,396 196.27,396 196.27,395.66 198.27,395.66 198.27,395.29 200.27,395.29 200.27,394.74 202.27,394.74 202.27,394.47 204.27,394.47 204.27,394.39 206.27,394.39 206.27,394.82 208.27,394.82 208.27,394.81 210.27,394.81 210.27,393.8 212.26,393.8 212.26,391.05 214.26,391.05 214.26,386.87 216.26,386.87 216.26,388.94 218.26,388.94 218.26,391.44 220.26,391.44 220.26,395.5 222.26,395.5 222.26,393.6 224.26,393.6 224.26,391.85 226.26,391.85 226.26,393.46 228.26,393.46 228.26,395.58 230.26,395.58 230.26,395.84 232.26,395.84 232.26,396.08 234.25,396.08 234.25,396.01 236.25,396.01 236.25,395.64 238.25,395.64 238.25,395.33 240.25,395.33 240.25,395.1 242.25,395.1 242.25,395.33 244.25,395.33 244.25,395.43 246.25,395.43 246.25,395.76 248.25,395.76 248.25,395.97 250.25,395.97 250.25,396.12 252.25,396.12 252.25,395.58 254.25,395.58 254.25,395.08 256.24,395.08 256.24,394.61 258.24,394.61 258.24,394.54 260.24,394.54 260.24,394.34 262.24,394.34 262.24,394.12 264.24,394.12 264.24,394.56 266.24,394.56 266.24,394.7 268.24,394.7 268.24,394.87 270.24,394.87 270.24,395 272.24,395 272.24,395.06 274.24,395.06 274.24,394.96 276.24,394.96 276.24,394.27 278.23,394.27 278.23,393.86 280.23,393.86 280.23,393.32 282.23,393.32 282.23,393.98 284.23,393.98 284.23,394.05 286.23,394.05 286.23,394.68 288.23,394.68 288.23,394.8 290.23,394.8 290.23,395.08 292.23,395.08 292.23,394.52 294.23,394.52 294.23,394.45 296.23,394.45 296.23,394.38 298.23,394.38 298.23,393.97 300.22,393.97 300.22,393.9 302.22,393.9 302.22,393.72 304.22,393.72 304.22,394.23 306.22,394.23 306.22,394.63 308.22,394.63 308.22,395.02 310.22,395.02 310.22,395.3 312.22,395.3 312.22,395.58 314.22,395.58 314.22,395.47 316.22,395.47 316.22,395.37 318.22,395.37 318.22,395.21 320.22,395.21 320.22,395.32 322.21,395.32 322.21,395.16 324.21,395.16 324.21,395.26 326.21,395.26 326.21,395.77 328.21,395.77 328.21,396.36 330.21,396.36 330.21,396.4" fill="#e9a030" />
<polygon points="166.29,396.4 166.29,394.51 168.28,394.51 168.28,394.39 170.28,394.39 170.28,393.98 172.28,393.98 172.28,394.09 174.28,394.09 174.28,393.58 176.28,393.58 176.28,393.35 178.28,393.35 178.28,393.71 180.28,393.71 180.28,394.18 182.28,394.18 182.28,394.97 184.28,394.97 184.28,395.46 186.28,395.46 186.28,394.92 188.28,394.92 188.28,394.47 190.27,394.47 190.27,394.98 192.27,394.98 192.27,395.59 194.27,395.59 194.27,396 196.27,396 196.27,395.66 198.27,395.66 198.27,395.29 200.27,395.29 200.27,394.74 202.27,394.74 202.27,394.47 204.27,394.47 204.27,394.39 206.27,394.39 206.27,394.82 208.27,394.82 208.27,394.81 210.27,394.81 210.27,393.8 212.26,393.8 212.26,391.05 214.26,391.05 214.26,386.87 216.26,386.87 216.26,388.94 218.26,388.94 218.26,391.44 220.26,391.44 220.26,395.5 222.26,395.5 222.26,393.6 224.26,393.6 224.26,391.85 226.26,391.85 226.26,393.46 228.26,393.46 228.26,395.58 230.26,395.58 230.26,395.84 232.26,395.84 232.26,396.08 234.25,396.08 234.25,396.01 236.25,396.01 236.25,395.64 238.25,395.64 238.25,395.33 240.25,395.33 240.25,395.1 242.25,395.1 242.25,395.33 244.25,395.33 244.25,395.43 246.25,395.43 246.25,395.76 248.25,395.76 248.25,395.97 250.25,395.97 250.25,396.12 252.25,396.12 252.25,395.58 254.25,395.58 254.25,395.08 256.24,395.08 256.24,394.61 258.24,394.61 258.24,394.54 260.24,394.54 260.24,394.34 262.24,394.34 262.24,394.12 264.24,394.12 264.24,394.56 266.24,394.56 266.24,394.7 268.24,394.7 268.24,394.87 270.24,394.87 270.24,395 272.24,395 272.24,395.06 274.24,395.06 274.24,394.96 276.24,394.96 276.24,394.27 278.23,394.27 278.23,393.86 280.23,393.86 280.23,393.32 282.23,393.32 282.23,393.98 284.23,393.98 284.23,394.05 286.23,394.05 286.23,394.68 288.23,394.68 288.23,394.8 290.23,394.8 290.23,395.08 292.23,395.08 292.23,394.52 294.23,394.52 294.23,394.45 296.23,394.45 296.23,394.38 298.23,394.38 298.23,393.97 300.22,393.97 300.22,393.9 302.22,393.9 302.22,393.72 304.22,393.72 304.22,394.23 306.22,394.23 306.22,394.63 308.22,394.63 308.22,395.02 310.22,395.02 310.22,395.3 312.22,395.3 312.22,395.58 314.22,395.58 314.22,395.47 316.22,395.47 316.22,395.37 318.22,395.37 318.22,395.21 320.22,395.21 320.22,395.32 322.21,395.32 322.21,395.16 324.21,395.16 324.21,395.26 326.21,395.26 326.21,395.77 328.21,395.77 328.21,396.36 330.21,396.36 330.21,396.4" fill="url(#stripe1)" />
<polygon points="333.35,396.4 333.35,395.83 335.4,395.83 335.4,395.2 337.44,395.2 337.44,394.57 339.48,394.57 339.48,393.95 341.52,393.95 341.52,394.69 343.57,394.69 343.57,395.07 345.61,395.07 345.61,395.52 347.65,395.52 347.65,395.72 349.7,395.72 349.7,395.86 351.74,395.86 351.74,396.09 353.78,396.09 353.78,396.4" fill="#e9a030" />
<polygon points="333.35,396.4 333.35,395.83 335.4,395.83 335.4,395.2 337.44,395.2 337.44,394.57 339.48,394.57 339.48,393.95 341.52,393.95 341.52,394.69 343.57,394.69 343.57,395.07 345.61,395.07 345.61,395.52 347.65,395.52 347.65,395.72 349.7,395.72 349.7,395.86 351.74,395.86 351.74,396.09 353.78,396.09 353.78,396.4" fill="url(#stripe1)" />
<polygon points="357.71,396.4 357.71,395.53 359.7,395.53 359.7,394.6 361.69,394.6 361.69,393.48 363.68,393.48 363.68,392 365.67,392 365.67,391.33 367.67,391.33 367.67,390.93 369.66,390.93 369.66,391.16 371.65,391.16 371.65,391.75 373.64,391.75 373.64,392.22 375.63,392.22 375.63,389.81 377.62,389.81 377.62,392.48 379.62,392.48 379.62,395.08 381.61,395.08 381.61,396.15 383.6,396.15 383.6,395.67 385.59,395.67 385.59,395.27 387.58,395.27 387.58,394.56 389.57,394.56 389.57,395.25 391.56,395.25 391.56,395.8 393.56,395.8 393.56,395.94 395.55,395.94 395.55,395.39 397.54,395.39 397.54,394.82 399.53,394.82 399.53,394.08 401.52,394.08 401.52,394.36 403.51,394.36 403.51,394.37 405.5,394.37 405.5,394.68 407.5,394.68 407.5,395.13 409.49,395.13 409.49,395.5 411.48,395.5 411.48,395.22 413.47,395.22 413.47,394.92 415.46,394.92 415.46,394.53 417.45,394.53 417.45,394.79 419.44,394.79 419.44,394.97 421.44,394.97 421.44,395.2 423.43,395.2 423.43,395.42 425.42,395.42 425.42,395.51 427.41,395.51 427.41,395.02 429.4,395.02 429.4,394.49 431.39,394.49 431.39,393.81 433.39,393.81 433.39,393.48 435.38,393.48 435.38,393.29 437.37,393.29 437.37,393.64 439.36,393.64 439.36,393.88 441.35,393.88 441.35,394.37 443.34,394.37 443.34,394.49 445.33,394.49 445.33,394.42 447.33,394.42 447.33,394.68 449.32,394.68 449.32,394.74 451.31,394.74 451.31,394.88 453.3,394.88 453.3,394.86 455.29,394.86 455.29,395.01 457.28,395.01 457.28,395.17 459.27,395.17 459.27,395.4 461.27,395.4 461.27,395.55 463.26,395.55 463.26,395.86 465.25,395.86 465.25,396.01 467.24,396.01 467.24,395.72 469.23,395.72 469.23,394.83 471.22,394.83 471.22,394.03 473.21,394.03 473.21,392.88 475.21,392.88 475.21,393.44 477.2,393.44 477.2,393.2 479.19,393.2 479.19,393.16 481.18,393.16 481.18,393.61 483.17,393.61 483.17,393.79 485.16,393.79 485.16,394.16 487.16,394.16 487.16,394.58 489.15,394.58 489.15,394.8 491.14,394.8 491.14,395.17 493.13,395.17 493.13,395.26 495.12,395.26 495.12,395.38 497.11,395.38 497.11,395.62 499.1,395.62 499.1,395.84 501.1,395.84 501.1,396.05 503.09,396.05 503.09,396.03 505.08,396.03 505.08,395.7 507.07,395.7 507.07,395.33 509.06,395.33 509.06,395.01 511.05,395.01 511.05,395.29 513.04,395.29 513.04,395.61 515.04,395.61 515.04,395.77 517.03,395.77 517.03,396.05 519.02,396.05 519.02,396.06 521.01,396.06 521.01,395.86 523,395.86 523,395.66 524.99,395.66 524.99,395.09 526.98,395.09 526.98,393.63 528.98,393.63 528.98,392.99 530.97,392.99 530.97,394.71 532.96,394.71 532.96,395.44 534.95,395.44 534.95,395.41 536.94,395.41 536.94,395.33 538.93,395.33 538.93,395.08 540.92,395.08 540.92,395.08 542.92,395.08 542.92,394.79 544.91,394.79 544.91,394.75 546.9,394.75 546.9,394.67 548.89,394.67 548.89,394.54 550.88,394.54 550.88,394.7 552.87,394.7 552.87,394.9 554.87,394.9 554.87,395.38 556.86,395.38 556.86,395.78 558.85,395.78 558.85,396.18 560.84,396.18 560.84,395.52 562.83,395.52 562.83,394.72 564.82,394.72 564.82,394.16 566.81,394.16 566.81,394.57 568.81,394.57 568.81,394.98 570.8,394.98 570.8,395.46 572.79,395.46 572.79,395.91 574.78,395.91 574.78,396.4" fill="#e9a030" />
<polygon points="357.71,396.4 357.71,395.53 359.7,395.53 359.7,394.6 361.69,394.6 361.69,393.48 363.68,393.48 363.68,392 365.67,392 365.67,391.33 367.67,391.33 367.67,390.93 369.66,390.93 369.66,391.16 371.65,391.16 371.65,391.75 373.64,391.75 373.64,392.22 375.63,392.22 375.63,389.81 377.62,389.81 377.62,392.48 379.62,392.48 379.62,395.08 381.61,395.08 381.61,396.15 383.6,396.15 383.6,395.67 385.59,395.67 385.59,395.27 387.58,395.27 387.58,394.56 389.57,394.56 389.57,395.25 391.56,395.25 391.56,395.8 393.56,395.8 393.56,395.94 395.55,395.94 395.55,395.39 397.54,395.39 397.54,394.82 399.53,394.82 399.53,394.08 401.52,394.08 401.52,394.36 403.51,394.36 403.51,394.37 405.5,394.37 405.5,394.68 407.5,394.68 407.5,395.13 409.49,395.13 409.49,395.5 411.48,395.5 411.48,395.22 413.47,395.22 413.47,394.92 415.46,394.92 415.46,394.53 417.45,394.53 417.45,394.79 419.44,394.79 419.44,394.97 421.44,394.97 421.44,395.2 423.43,395.2 423.43,395.42 425.42,395.42 425.42,395.51 427.41,395.51 427.41,395.02 429.4,395.02 429.4,394.49 431.39,394.49 431.39,393.81 433.39,393.81 433.39,393.48 435.38,393.48 435.38,393.29 437.37,393.29 437.37,393.64 439.36,393.64 439.36,393.88 441.35,393.88 441.35,394.37 443.34,394.37 443.34,394.49 445.33,394.49 445.33,394.42 447.33,394.42 447.33,394.68 449.32,394.68 449.32,394.74 451.31,394.74 451.31,394.88 453.3,394.88 453.3,394.86 455.29,394.86 455.29,395.01 457.28,395.01 457.28,395.17 459.27,395.17 459.27,395.4 461.27,395.4 461.27,395.55 463.26,395.55 463.26,395.86 465.25,395.86 465.25,396.01 467.24,396.01 467.24,395.72 469.23,395.72 469.23,394.83 471.22,394.83 471.22,394.03 473.21,394.03 473.21,392.88 475.21,392.88 475.21,393.44 477.2,393.44 477.2,393.2 479.19,393.2 479.19,393.16 481.18,393.16 481.18,393.61 483.17,393.61 483.17,393.79 485.16,393.79 485.16,394.16 487.16,394.16 487.16,394.58 489.15,394.58 489.15,394.8 491.14,394.8 491.14,395.17 493.13,395.17 493.13,395.26 495.12,395.26 495.12,395.38 497.11,395.38 497.11,395.62 499.1,395.62 499.1,395.84 501.1,395.84 501.1,396.05 503.09,396.05 503.09,396.03 505.08,396.03 505.08,395.7 507.07,395.7 507.07,395.33 509.06,395.33 509.06,395.01 511.05,395.01 511.05,395.29 513.04,395.29 513.04,395.61 515.04,395.61 515.04,395.77 517.03,395.77 517.03,396.05 519.02,396.05 519.02,396.06 521.01,396.06 521.01,395.86 523,395.86 523,395.66 524.99,395.66 524.99,395.09 526.98,395.09 526.98,393.63 528.98,393.63 528.98,392.99 530.97,392.99 530.97,394.71 532.96,394.71 532.96,395.44 534.95,395.44 534.95,395.41 536.94,395.41 536.94,395.33 538.93,395.33 538.93,395.08 540.92,395.08 540.92,395.08 542.92,395.08 542.92,394.79 544.91,394.79 544.91,394.75 546.9,394.75 546.9,394.67 548.89,394.67 548.89,394.54 550.88,394.54 550.88,394.7 552.87,394.7 552.87,394.9 554.87,394.9 554.87,395.38 556.86,395.38 556.86,395.78 558.85,395.78 558.85,396.18 560.84,396.18 560.84,395.52 562.83,395.52 562.83,394.72 564.82,394.72 564.82,394.16 566.81,394.16 566.81,394.57 568.81,394.57 568.81,394.98 570.8,394.98 570.8,395.46 572.79,395.46 572.79,395.91 574.78,395.91 574.78,396.4" fill="url(#stripe1)" />
<polygon points="166.29,437.6 166.29,436.93 168.28,436.93 168.28,436.88 170.27,436.88 170.27,436.77 172.26,436.77 172.26,436.42 174.26,436.42 174.26,435.69 176.25,435.69 176.25,434.94 178.24,434.94 178.24,435.9 180.24,435.9 180.24,436.63 182.23,436.63 182.23,436.57 184.22,436.57 184.22,435.93 186.21,435.93 186.21,435.24 188.21,435.24 188.21,434.65 190.2,434.65 190.2,433.67 192.19,433.67 192.19,434.83 194.19,434.83 194.19,435.28 196.18,435.28 196.18,436.3 198.17,436.3 198.17,436.52 200.16,436.52 200.16,436.6 202.16,436.6 202.16,436.64 204.15,436.64 204.15,436.03 206.14,436.03 206.14,434.8 208.14,434.8 208.14,433.32 210.13,433.32 210.13,431.71 212.12,431.71 212.12,430.72 214.12,430.72 214.12,427.95 216.11,427.95 216.11,428.4 218.1,428.4 218.1,429.82 220.09,429.82 220.09,432.58 222.09,432.58 222.09,434.25 224.08,434.25 224.08,434.72 226.07,434.72 226.07,435.25 228.07,435.25 228.07,435.82 230.06,435.82 230.06,435.68 232.05,435.68 232.05,435.71 234.04,435.71 234.04,435.22 236.04,435.22 236.04,435.28 238.03,435.28 238.03,435.4 240.02,435.4 240.02,435.92 242.02,435.92 242.02,436.25 244.01,436.25 244.01,436.39 246,436.39 246,437.17 247.99,437.17 247.99,437.6" fill="#a9d07c" />
<polygon points="166.29,437.6 166.29,436.93 168.28,436.93 168.28,436.88 170.27,436.88 170.27,436.77 172.26,436.77 172.26,436.42 174.26,436.42 174.26,435.69 176.25,435.69 176.25,434.94 178.24,434.94 178.24,435.9 180.24,435.9 180.24,436.63 182.23,436.63 182.23,436.57 184.22,436.57 184.22,435.93 186.21,435.93 186.21,435.24 188.21,435.24 188.21,434.65 190.2,434.65 190.2,433.67 192.19,433.67 192.19,434.83 194.19,434.83 194.19,435.28 196.18,435.28 196.18,436.3 198.17,436.3 198.17,436.52 200.16,436.52 200.16,436.6 202.16,436.6 202.16,436.64 204.15,436.64 204.15,436.03 206.14,436.03 206.14,434.8 208.14,434.8 208.14,433.32 210.13,433.32 210.13,431.71 212.12,431.71 212.12,430.72 214.12,430.72 214.12,427.95 216.11,427.95 216.11,428.4 218.1,428.4 218.1,429.82 220.09,429.82 220.09,432.58 222.09,432.58 222.09,434.25 224.08,434.25 224.08,434.72 226.07,434.72 226.07,435.25 228.07,435.25 228.07,435.82 230.06,435.82 230.06,435.68 232.05,435.68 232.05,435.71 234.04,435.71 234.04,435.22 236.04,435.22 236.04,435.28 238.03,435.28 238.03,435.4 240.02,435.4 240.02,435.92 242.02,435.92 242.02,436.25 244.01,436.25 244.01,436.39 246,436.39 246,437.17 247.99,437.17 247.99,437.6" fill="url(#stripe1)" />
<polygon points="265,437.6 265,437.17 267,437.17 267,437.13 269,437.13 269,437.2 271,437.2 271,437.19 273,437.19 273,437.12 275,437.12 275,437.18 277,437.18 277,437.09 279,437.09 279,437.09 281,437.09 281,437.09 283,437.09 283,437.14 285,437.14 285,437.16 287,437.16 287,437.11 289,437.11 289,437.15 291,437.15 291,437.06 293,437.06 293,437.03 295,437.03 295,437.11 297,437.11 297,437.05 299,437.05 299,437.09 301,437.09 301,437.04 303,437.04 303,437.01 305,437.01 305,437.03 307,437.03 307,437.01 309,437.01 309,437.08 311,437.08 311,436.98 313,436.98 313,436.03 315,436.03 315,435.79 317,435.79 317,436.86 319,436.86 319,437.02 321,437.02 321,437.04 323,437.04 323,437.02 325,437.02 325,437.05 327,437.05 327,437.05 329,437.05 329,437.06 331,437.06 331,437.04 333,437.04 333,437.02 335,437.02 335,437.04 337,437.04 337,437.08 339,437.08 339,437.01 341,437.01 341,437.01 343,437.01 343,437.08 345,437.08 345,437.04 347,437.04 347,436.98 349,436.98 349,437.08 351,437.08 351,437.05 352.99,437.05 352.99,437.6" fill="#a9d07c" />
<polygon points="265,437.6 265,437.17 267,437.17 267,437.13 269,437.13 269,437.2 271,437.2 271,437.19 273,437.19 273,437.12 275,437.12 275,437.18 277,437.18 277,437.09 279,437.09 279,437.09 281,437.09 281,437.09 283,437.09 283,437.14 285,437.14 285,437.16 287,437.16 287,437.11 289,437.11 289,437.15 291,437.15 291,437.06 293,437.06 293,437.03 295,437.03 295,437.11 297,437.11 297,437.05 299,437.05 299,437.09 301,437.09 301,437.04 303,437.04 303,437.01 305,437.01 305,437.03 307,437.03 307,437.01 309,437.01 309,437.08 311,437.08 311,436.98 313,436.98 313,436.03 315,436.03 315,435.79 317,435.79 317,436.86 319,436.86 319,437.02 321,437.02 321,437.04 323,437.04 323,437.02 325,437.02 325,437.05 327,437.05 327,437.05 329,437.05 329,437.06 331,437.06 331,437.04 333,437.04 333,437.02 335,437.02 335,437.04 337,437.04 337,437.08 339,437.08 339,437.01 341,437.01 341,437.01 343,437.01 343,437.08 345,437.08 345,437.04 347,437.04 347,436.98 349,436.98 349,437.08 351,437.08 351,437.05 352.99,437.05 352.99,437.6" fill="url(#stripe1)" />
<polygon points="359.28,437.6 359.28,437 361.28,437 361.28,436.97 363.29,436.97 363.29,437.05 365.29,437.05 365.29,437.06 367.3,437.06 367.3,436.97 369.3,436.97 369.3,437.08 371.31,437.08 371.31,437.02 373.31,437.02 373.31,436.98 375.32,436.98 375.32,437 377.32,437 377.32,436.97 379.33,436.97 379.33,437.02 381.33,437.02 381.33,437 383.33,437 383.33,437.08 385.34,437.08 385.34,437.07 387.34,437.07 387.34,437.02 389.35,437.02 389.35,436.99 391.35,436.99 391.35,437.03 393.36,437.03 393.36,437.04 395.36,437.04 395.36,437.02 397.37,437.02 397.37,436.97 399.37,436.97 399.37,437.06 401.38,437.06 401.38,437.04 403.38,437.04 403.38,437.06 405.38,437.06 405.38,436.98 407.39,436.98 407.39,437.06 409.39,437.06 409.39,437.03 411.4,437.03 411.4,437.07 413.4,437.07 413.4,437.02 415.41,437.02 415.41,437.03 417.41,437.03 417.41,436.99 419.42,436.99 419.42,437.05 421.42,437.05 421.42,436.99 423.43,436.99 423.43,437.03 425.43,437.03 425.43,437.04 427.43,437.04 427.43,436.98 429.44,436.98 429.44,437.05 431.44,437.05 431.44,437.05 433.45,437.05 433.45,437.07 435.45,437.07 435.45,436.98 437.46,436.98 437.46,436.98 439.46,436.98 439.46,436.99 441.47,436.99 441.47,437.07 443.47,437.07 443.47,437.03 445.48,437.03 445.48,437 447.48,437 447.48,437.01 449.48,437.01 449.48,436.98 451.49,436.98 451.49,437.07 453.49,437.07 453.49,437.07 455.5,437.07 455.5,436.97 457.5,436.97 457.5,437.01 459.51,437.01 459.51,437.05 461.51,437.05 461.51,436.97 463.52,436.97 463.52,437 465.52,437 465.52,436.75 467.53,436.75 467.53,436.47 469.53,436.47 469.53,436.32 471.53,436.32 471.53,436.01 473.54,436.01 473.54,435.81 475.54,435.81 475.54,436.17 477.55,436.17 477.55,436.56 479.55,436.56 479.55,436.65 481.56,436.65 481.56,436.21 483.56,436.21 483.56,435.85 485.57,435.85 485.57,436.55 487.57,436.55 487.57,437.6" fill="#a9d07c" />
<polygon points="359.28,437.6 359.28,437 361.28,437 361.28,436.97 363.29,436.97 363.29,437.05 365.29,437.05 365.29,437.06 367.3,437.06 367.3,436.97 369.3,436.97 369.3,437.08 371.31,437.08 371.31,437.02 373.31,437.02 373.31,436.98 375.32,436.98 375.32,437 377.32,437 377.32,436.97 379.33,436.97 379.33,437.02 381.33,437.02 381.33,437 383.33,437 383.33,437.08 385.34,437.08 385.34,437.07 387.34,437.07 387.34,437.02 389.35,437.02 389.35,436.99 391.35,436.99 391.35,437.03 393.36,437.03 393.36,437.04 395.36,437.04 395.36,437.02 397.37,437.02 397.37,436.97 399.37,436.97 399.37,437.06 401.38,437.06 401.38,437.04 403.38,437.04 403.38,437.06 405.38,437.06 405.38,436.98 407.39,436.98 407.39,437.06 409.39,437.06 409.39,437.03 411.4,437.03 411.4,437.07 413.4,437.07 413.4,437.02 415.41,437.02 415.41,437.03 417.41,437.03 417.41,436.99 419.42,436.99 419.42,437.05 421.42,437.05 421.42,436.99 423.43,436.99 423.43,437.03 425.43,437.03 425.43,437.04 427.43,437.04 427.43,436.98 429.44,436.98 429.44,437.05 431.44,437.05 431.44,437.05 433.45,437.05 433.45,437.07 435.45,437.07 435.45,436.98 437.46,436.98 437.46,436.98 439.46,436.98 439.46,436.99 441.47,436.99 441.47,437.07 443.47,437.07 443.47,437.03 445.48,437.03 445.48,437 447.48,437 447.48,437.01 449.48,437.01 449.48,436.98 451.49,436.98 451.49,437.07 453.49,437.07 453.49,437.07 455.5,437.07 455.5,436.97 457.5,436.97 457.5,437.01 459.51,437.01 459.51,437.05 461.51,437.05 461.51,436.97 463.52,436.97 463.52,437 465.52,437 465.52,436.75 467.53,436.75 467.53,436.47 469.53,436.47 469.53,436.32 471.53,436.32 471.53,436.01 473.54,436.01 473.54,435.81 475.54,435.81 475.54,436.17 477.55,436.17 477.55,436.56 479.55,436.56 479.55,436.65 481.56,436.65 481.56,436.21 483.56,436.21 483.56,435.85 485.57,435.85 485.57,436.55 487.57,436.55 487.57,437.6" fill="url(#stripe1)" />
<polygon points="500.14,437.6 500.14,437.19 502.2,437.19 502.2,437.14 504.25,437.14 504.25,437.15 506.31,437.15 506.31,437.19 508.36,437.19 508.36,437.22 510.42,437.22 510.42,437.17 512.47,437.17 512.47,437.18 514.53,437.18 514.53,437.2 516.58,437.2 516.58,437.22 518.63,437.22 518.63,437.17 520.69,437.17 520.69,437.19 522.74,437.19 522.74,437.21 524.8,437.21 524.8,437.18 526.85,437.18 526.85,437.6" fill="#a9d07c" />
<polygon points="500.14,437.6 500.14,437.19 502.2,437.19 502.2,437.14 504.25,437.14 504.25,437.15 506.31,437.15 506.31,437.19 508.36,437.19 508.36,437.22 510.42,437.22 510.42,437.17 512.47,437.17 512.47,437.18 514.53,437.18 514.53,437.2 516.58,437.2 516.58,437.22 518.63,437.22 518.63,437.17 520.69,437.17 520.69,437.19 522.74,437.19 522.74,437.21 524.8,437.21 524.8,437.18 526.85,437.18 526.85,437.6" fill="url(#stripe1)" />
<polygon points="536.28,437.6 536.28,437.19 538.31,437.19 538.31,437.18 540.33,437.18 540.33,437.17 542.36,437.17 542.36,437.16 544.39,437.16 544.39,437.22 546.41,437.22 546.41,437.21 548.44,437.21 548.44,437.19 550.47,437.19 550.47,437.15 552.49,437.15 552.49,437.2 554.52,437.2 554.52,437.17 556.54,437.17 556.54,437.22 558.57,437.22 558.57,437.16 560.6,437.16 560.6,437.18 562.62,437.18 562.62,437.16 564.65,437.16 564.65,437.18 566.68,437.18 566.68,437.17 568.7,437.17 568.7,437.14 570.73,437.14 570.73,437.21 572.75,437.21 572.75,437.18 574.78,437.18 574.78,437.6" fill="#a9d07c" />
<polygon points="536.28,437.6 536.28,437.19 538.31,437.19 538.31,437.18 540.33,437.18 540.33,437.17 542.36,437.17 542.36,437.16 544.39,437.16 544.39,437.22 546.41,437.22 546.41,437.21 548.44,437.21 548.44,437.19 550.47,437.19 550.47,437.15 552.49,437.15 552.49,437.2 554.52,437.2 554.52,437.17 556.54,437.17 556.54,437.22 558.57,437.22 558.57,437.16 560.6,437.16 560.6,437.18 562.62,437.18 562.62,437.16 564.65,437.16 564.65,437.18 566.68,437.18 566.68,437.17 568.7,437.17 568.7,437.14 570.73,437.14 570.73,437.21 572.75,437.21 572.75,437.18 574.78,437.18 574.78,437.6" fill="url(#stripe1)" />
<polygon points="166.29,478.1 166.29,476.88 168.29,476.88 168.29,475.6 170.3,475.6 170.3,474.59 172.3,474.59 172.3,472.63 174.31,472.63 174.31,471.04 176.31,471.04 176.31,470.97 178.32,470.97 178.32,474.47 180.32,474.47 180.32,476.77 182.33,476.77 182.33,477.45 184.34,477.45 184.34,476.76 186.34,476.76 186.34,472.77 188.35,472.77 188.35,468.55 190.35,468.55 190.35,464.59 192.36,464.59 192.36,467.51 194.36,467.51 194.36,471.76 196.37,471.76 196.37,475.21 198.37,475.21 198.37,476.8 200.38,476.8 200.38,477.03 202.38,477.03 202.38,474.63 204.39,474.63 204.39,471.89 206.4,471.89 206.4,474.14 208.4,474.14 208.4,476.68 210.41,476.68 210.41,475.74 212.41,475.74 212.41,473.29 214.42,473.29 214.42,470.5 216.42,470.5 216.42,472.68 218.43,472.68 218.43,474.98 220.43,474.98 220.43,477.21 222.44,477.21 222.44,475.97 224.45,475.97 224.45,474.62 226.45,474.62 226.45,473.51 228.46,473.51 228.46,474.68 230.46,474.68 230.46,475.72 232.47,475.72 232.47,474.71 234.47,474.71 234.47,472.88 236.48,472.88 236.48,472.03 238.48,472.03 238.48,475.03 240.49,475.03 240.49,476.74 242.5,476.74 242.5,478.1" fill="#e6dc2e" />
<polygon points="166.29,478.1 166.29,476.88 168.29,476.88 168.29,475.6 170.3,475.6 170.3,474.59 172.3,474.59 172.3,472.63 174.31,472.63 174.31,471.04 176.31,471.04 176.31,470.97 178.32,470.97 178.32,474.47 180.32,474.47 180.32,476.77 182.33,476.77 182.33,477.45 184.34,477.45 184.34,476.76 186.34,476.76 186.34,472.77 188.35,472.77 188.35,468.55 190.35,468.55 190.35,464.59 192.36,464.59 192.36,467.51 194.36,467.51 194.36,471.76 196.37,471.76 196.37,475.21 198.37,475.21 198.37,476.8 200.38,476.8 200.38,477.03 202.38,477.03 202.38,474.63 204.39,474.63 204.39,471.89 206.4,471.89 206.4,474.14 208.4,474.14 208.4,476.68 210.41,476.68 210.41,475.74 212.41,475.74 212.41,473.29 214.42,473.29 214.42,470.5 216.42,470.5 216.42,472.68 218.43,472.68 218.43,474.98 220.43,474.98 220.43,477.21 222.44,477.21 222.44,475.97 224.45,475.97 224.45,474.62 226.45,474.62 226.45,473.51 228.46,473.51 228.46,474.68 230.46,474.68 230.46,475.72 232.47,475.72 232.47,474.71 234.47,474.71 234.47,472.88 236.48,472.88 236.48,472.03 238.48,472.03 238.48,475.03 240.49,475.03 240.49,476.74 242.5,476.74 242.5,478.1" fill="url(#stripe1)" />
<polygon points="252.71,478.1 252.71,476.38 254.72,476.38 254.72,473.1 256.72,473.1 256.72,471.97 258.73,471.97 258.73,473.62 260.74,473.62 260.74,475.46 262.74,475.46 262.74,475.88 264.75,475.88 264.75,476.03 266.76,476.03 266.76,475.95 268.76,475.95 268.76,475.82 270.77,475.82 270.77,475.42 272.78,475.42 272.78,474.34 274.79,474.34 274.79,474.31 276.79,474.31 276.79,473.41 278.8,473.41 278.8,473.53 280.81,473.53 280.81,472.35 282.81,472.35 282.81,472.06 284.82,472.06 284.82,470.31 286.83,470.31 286.83,472.6 288.83,472.6 288.83,474.37 290.84,474.37 290.84,475.69 292.85,475.69 292.85,477.05 294.86,477.05 294.86,478.1" fill="#e6dc2e" />
<polygon points="252.71,478.1 252.71,476.38 254.72,476.38 254.72,473.1 256.72,473.1 256.72,471.97 258.73,471.97 258.73,473.62 260.74,473.62 260.74,475.46 262.74,475.46 262.74,475.88 264.75,475.88 264.75,476.03 266.76,476.03 266.76,475.95 268.76,475.95 268.76,475.82 270.77,475.82 270.77,475.42 272.78,475.42 272.78,474.34 274.79,474.34 274.79,474.31 276.79,474.31 276.79,473.41 278.8,473.41 278.8,473.53 280.81,473.53 280.81,472.35 282.81,472.35 282.81,472.06 284.82,472.06 284.82,470.31 286.83,470.31 286.83,472.6 288.83,472.6 288.83,474.37 290.84,474.37 290.84,475.69 292.85,475.69 292.85,477.05 294.86,477.05 294.86,478.1" fill="url(#stripe1)" />
<polygon points="301.14,478.1 301.14,477.46 303.17,477.46 303.17,476.59 305.2,476.59 305.2,475.89 307.23,475.89 307.23,475.26 309.26,475.26 309.26,474.76 311.29,474.76 311.29,474.19 313.32,474.19 313.32,474.75 315.35,474.75 315.35,475.83 317.38,475.83 317.38,476.22 319.41,476.22 319.41,476.74 321.44,476.74 321.44,477.29 323.47,477.29 323.47,477.61 325.5,477.61 325.5,478.1" fill="#e6dc2e" />
<polygon points="301.14,478.1 301.14,477.46 303.17,477.46 303.17,476.59 305.2,476.59 305.2,475.89 307.23,475.89 307.23,475.26 309.26,475.26 309.26,474.76 311.29,474.76 311.29,474.19 313.32,474.19 313.32,474.75 315.35,474.75 315.35,475.83 317.38,475.83 317.38,476.22 319.41,476.22 319.41,476.74 321.44,476.74 321.44,477.29 323.47,477.29 323.47,477.61 325.5,477.61 325.5,478.1" fill="url(#stripe1)" />
<polygon points="330.21,478.1 330.21,477.33 332.34,477.33 332.34,476.28 334.48,476.28 334.48,475.46 336.61,475.46 336.61,475.87 338.74,475.87 338.74,476.25 340.87,476.25 340.87,476.81 343.01,476.81 343.01,477.44 345.14,477.44 345.14,478.1" fill="#e6dc2e" />
<polygon points="330.21,478.1 330.21,477.33 332.34,477.33 332.34,476.28 334.48,476.28 334.48,475.46 336.61,475.46 336.61,475.87 338.74,475.87 338.74,476.25 340.87,476.25 340.87,476.81 343.01,476.81 343.01,477.44 345.14,477.44 345.14,478.1" fill="url(#stripe1)" />
<polygon points="347.5,478.1 347.5,477.16 349.26,477.16 349.26,476.33 351.03,476.33 351.03,476.52 352.8,476.52 352.8,477.44 354.57,477.44 354.57,478.1" fill="#e6dc2e" />
<polygon points="347.5,478.1 347.5,477.16 349.26,477.16 349.26,476.33 351.03,476.33 351.03,476.52 352.8,476.52 352.8,477.44 354.57,477.44 354.57,478.1" fill="url(#stripe1)" />
<polygon points="363.99,478.1 363.99,476.59 366.02,476.59 366.02,474.45 368.04,474.45 368.04,471.92 370.07,471.92 370.07,472.09 372.09,472.09 372.09,473.28 374.11,473.28 374.11,474.51 376.14,474.51 376.14,471.79 378.16,471.79 378.16,470.99 380.19,470.99 380.19,472.15 382.21,472.15 382.21,470.94 384.24,470.94 384.24,469.83 386.26,469.83 386.26,471.51 388.28,471.51 388.28,473.93 390.31,473.93 390.31,476.88 392.33,476.88 392.33,477.48 394.36,477.48 394.36,478.1" fill="#e6dc2e" />
<polygon points="363.99,478.1 363.99,476.59 366.02,476.59 366.02,474.45 368.04,474.45 368.04,471.92 370.07,471.92 370.07,472.09 372.09,472.09 372.09,473.28 374.11,473.28 374.11,474.51 376.14,474.51 376.14,471.79 378.16,471.79 378.16,470.99 380.19,470.99 380.19,472.15 382.21,472.15 382.21,470.94 384.24,470.94 384.24,469.83 386.26,469.83 386.26,471.51 388.28,471.51 388.28,473.93 390.31,473.93 390.31,476.88 392.33,476.88 392.33,477.48 394.36,477.48 394.36,478.1" fill="url(#stripe1)" />
<polygon points="396.71,478.1 396.71,475.04 398.81,475.04 398.81,472.63 400.9,472.63 400.9,470.78 403,470.78 403,472.82 405.09,472.82 405.09,474.47 407.19,474.47 407.19,476.72 409.28,476.72 409.28,478.1" fill="#e6dc2e" />
<polygon points="396.71,478.1 396.71,475.04 398.81,475.04 398.81,472.63 400.9,472.63 400.9,470.78 403,470.78 403,472.82 405.09,472.82 405.09,474.47 407.19,474.47 407.19,476.72 409.28,476.72 409.28,478.1" fill="url(#stripe1)" />
<polygon points="413.21,478.1 413.21,475.34 415.21,475.34 415.21,474.31 417.2,474.31 417.2,473.05 419.19,473.05 419.19,473.17 421.19,473.17 421.19,474.05 423.18,474.05 423.18,475.53 425.18,475.53 425.18,475.07 427.17,475.07 427.17,473.11 429.17,473.11 429.17,472.19 431.16,472.19 431.16,470.43 433.16,470.43 433.16,471.38 435.15,471.38 435.15,473.69 437.14,473.69 437.14,476.52 439.14,476.52 439.14,478.1" fill="#e6dc2e" />
<polygon points="413.21,478.1 413.21,475.34 415.21,475.34 415.21,474.31 417.2,474.31 417.2,473.05 419.19,473.05 419.19,473.17 421.19,473.17 421.19,474.05 423.18,474.05 423.18,475.53 425.18,475.53 425.18,475.07 427.17,475.07 427.17,473.11 429.17,473.11 429.17,472.19 431.16,472.19 431.16,470.43 433.16,470.43 433.16,471.38 435.15,471.38 435.15,473.69 437.14,473.69 437.14,476.52 439.14,476.52 439.14,478.1" fill="url(#stripe1)" />
<polygon points="442.28,478.1 442.28,476.41 444.3,476.41 444.3,475.29 446.32,475.29 446.32,474.22 448.34,474.22 448.34,473.33 450.36,473.33 450.36,472.67 452.38,472.67 452.38,474.31 454.4,474.31 454.4,476.77 456.42,476.77 456.42,478.1" fill="#e6dc2e" />
<polygon points="442.28,478.1 442.28,476.41 444.3,476.41 444.3,475.29 446.32,475.29 446.32,474.22 448.34,474.22 448.34,473.33 450.36,473.33 450.36,472.67 452.38,472.67 452.38,474.31 454.4,474.31 454.4,476.77 456.42,476.77 456.42,478.1" fill="url(#stripe1)" />
<polygon points="468.21,478.1 468.21,476.3 470.22,476.3 470.22,473.53 472.22,473.53 472.22,470.08 474.23,470.08 474.23,466.38 476.24,466.38 476.24,464.69 478.24,464.69 478.24,466.98 480.25,466.98 480.25,470.08 482.26,470.08 482.26,471.71 484.27,471.71 484.27,473.72 486.27,473.72 486.27,475.25 488.28,475.25 488.28,476.83 490.29,476.83 490.29,475.67 492.3,475.67 492.3,474.63 494.3,474.63 494.3,473.85 496.31,473.85 496.31,471.27 498.32,471.27 498.32,471.17 500.32,471.17 500.32,472.29 502.33,472.29 502.33,474.68 504.34,474.68 504.34,475.78 506.35,475.78 506.35,476.77 508.35,476.77 508.35,477.76 510.36,477.76 510.36,477.57 512.37,477.57 512.37,477.28 514.37,477.28 514.37,476.84 516.38,476.84 516.38,476.53 518.39,476.53 518.39,476.02 520.4,476.02 520.4,475.37 522.4,475.37 522.4,475.87 524.41,475.87 524.41,476.65 526.42,476.65 526.42,477.51 528.43,477.51 528.43,478.1" fill="#e6dc2e" />
<polygon points="468.21,478.1 468.21,476.3 470.22,476.3 470.22,473.53 472.22,473.53 472.22,470.08 474.23,470.08 474.23,466.38 476.24,466.38 476.24,464.69 478.24,464.69 478.24,466.98 480.25,466.98 480.25,470.08 482.26,470.08 482.26,471.71 484.27,471.71 484.27,473.72 486.27,473.72 486.27,475.25 488.28,475.25 488.28,476.83 490.29,476.83 490.29,475.67 492.3,475.67 492.3,474.63 494.3,474.63 494.3,473.85 496.31,473.85 496.31,471.27 498.32,471.27 498.32,471.17 500.32,471.17 500.32,472.29 502.33,472.29 502.33,474.68 504.34,474.68 504.34,475.78 506.35,475.78 506.35,476.77 508.35,476.77 508.35,477.76 510.36,477.76 510.36,477.57 512.37,477.57 512.37,477.28 514.37,477.28 514.37,476.84 516.38,476.84 516.38,476.53 518.39,476.53 518.39,476.02 520.4,476.02 520.4,475.37 522.4,475.37 522.4,475.87 524.41,475.87 524.41,476.65 526.42,476.65 526.42,477.51 528.43,477.51 528.43,478.1" fill="url(#stripe1)" />
<polygon points="535.5,478.1 535.5,476.37 537.46,476.37 537.46,473.25 539.42,473.25 539.42,470.66 541.39,470.66 541.39,471.04 543.35,471.04 543.35,472.23 545.32,472.23 545.32,473.63 547.28,473.63 547.28,472.86 549.25,472.86 549.25,472.29 551.21,472.29 551.21,472.26 553.17,472.26 553.17,468.56 555.14,468.56 555.14,466.56 557.1,466.56 557.1,467.1 559.07,467.1 559.07,468.68 561.03,468.68 561.03,472.36 562.99,472.36 562.99,473.77 564.96,473.77 564.96,475.01 566.92,475.01 566.92,476.04 568.89,476.04 568.89,476.56 570.85,476.56 570.85,475.47 572.82,475.47 572.82,475 574.78,475 574.78,478.1" fill="#e6dc2e" />
<polygon points="535.5,478.1 535.5,476.37 537.46,476.37 537.46,473.25 539.42,473.25 539.42,470.66 541.39,470.66 541.39,471.04 543.35,471.04 543.35,472.23 545.32,472.23 545.32,473.63 547.28,473.63 547.28,472.86 549.25,472.86 549.25,472.29 551.21,472.29 551.21,472.26 553.17,472.26 553.17,468.56 555.14,468.56 555.14,466.56 557.1,466.56 557.1,467.1 559.07,467.1 559.07,468.68 561.03,468.68 561.03,472.36 562.99,472.36 562.99,473.77 564.96,473.77 564.96,475.01 566.92,475.01 566.92,476.04 568.89,476.04 568.89,476.56 570.85,476.56 570.85,475.47 572.82,475.47 572.82,475 574.78,475 574.78,478.1" fill="url(#stripe1)" />
<polygon points="166.29,519.4 166.29,514.33 168.29,514.33 168.29,510.52 170.29,510.52 170.29,507.44 172.3,507.44 172.3,504.77 174.3,504.77 174.3,504.46 176.3,504.46 176.3,505.48 178.31,505.48 178.31,509.39 180.31,509.39 180.31,513.47 182.31,513.47 182.31,510.79 184.32,510.79 184.32,505.74 186.32,505.74 186.32,500.86 188.32,500.86 188.32,507.37 190.33,507.37 190.33,512.29 192.33,512.29 192.33,517.11 194.33,517.11 194.33,515.74 196.34,515.74 196.34,512.18 198.34,512.18 198.34,511.63 200.34,511.63 200.34,513.54 202.35,513.54 202.35,510.98 204.35,510.98 204.35,508.37 206.35,508.37 206.35,505.57 208.36,505.57 208.36,507.89 210.36,507.89 210.36,503.91 212.36,503.91 212.36,498.56 214.37,498.56 214.37,495.79 216.37,495.79 216.37,505.87 218.37,505.87 218.37,515.39 220.38,515.39 220.38,514.03 222.38,514.03 222.38,511.82 224.38,511.82 224.38,508.35 226.39,508.35 226.39,510.44 228.39,510.44 228.39,510.69 230.39,510.69 230.39,512.63 232.4,512.63 232.4,516.46 234.4,516.46 234.4,515.44 236.4,515.44 236.4,512.14 238.41,512.14 238.41,511.86 240.41,511.86 240.41,511.88 242.41,511.88 242.41,512.42 244.42,512.42 244.42,512.24 246.42,512.24 246.42,512.94 248.42,512.94 248.42,513.15 250.43,513.15 250.43,515.74 252.43,515.74 252.43,512.1 254.43,512.1 254.43,505.6 256.44,505.6 256.44,502.58 258.44,502.58 258.44,506.12 260.44,506.12 260.44,509.76 262.45,509.76 262.45,515.36 264.45,515.36 264.45,517.57 266.45,517.57 266.45,516.17 268.46,516.17 268.46,514.2 270.46,514.2 270.46,511.55 272.46,511.55 272.46,510.43 274.47,510.43 274.47,509.83 276.47,509.83 276.47,508.41 278.47,508.41 278.47,507.83 280.48,507.83 280.48,510.44 282.48,510.44 282.48,510.58 284.48,510.58 284.48,512.29 286.49,512.29 286.49,514.35 288.49,514.35 288.49,516.44 290.5,516.44 290.5,518.22 292.5,518.22 292.5,519.4" fill="#8f5a2a" />
<polygon points="166.29,519.4 166.29,514.33 168.29,514.33 168.29,510.52 170.29,510.52 170.29,507.44 172.3,507.44 172.3,504.77 174.3,504.77 174.3,504.46 176.3,504.46 176.3,505.48 178.31,505.48 178.31,509.39 180.31,509.39 180.31,513.47 182.31,513.47 182.31,510.79 184.32,510.79 184.32,505.74 186.32,505.74 186.32,500.86 188.32,500.86 188.32,507.37 190.33,507.37 190.33,512.29 192.33,512.29 192.33,517.11 194.33,517.11 194.33,515.74 196.34,515.74 196.34,512.18 198.34,512.18 198.34,511.63 200.34,511.63 200.34,513.54 202.35,513.54 202.35,510.98 204.35,510.98 204.35,508.37 206.35,508.37 206.35,505.57 208.36,505.57 208.36,507.89 210.36,507.89 210.36,503.91 212.36,503.91 212.36,498.56 214.37,498.56 214.37,495.79 216.37,495.79 216.37,505.87 218.37,505.87 218.37,515.39 220.38,515.39 220.38,514.03 222.38,514.03 222.38,511.82 224.38,511.82 224.38,508.35 226.39,508.35 226.39,510.44 228.39,510.44 228.39,510.69 230.39,510.69 230.39,512.63 232.4,512.63 232.4,516.46 234.4,516.46 234.4,515.44 236.4,515.44 236.4,512.14 238.41,512.14 238.41,511.86 240.41,511.86 240.41,511.88 242.41,511.88 242.41,512.42 244.42,512.42 244.42,512.24 246.42,512.24 246.42,512.94 248.42,512.94 248.42,513.15 250.43,513.15 250.43,515.74 252.43,515.74 252.43,512.1 254.43,512.1 254.43,505.6 256.44,505.6 256.44,502.58 258.44,502.58 258.44,506.12 260.44,506.12 260.44,509.76 262.45,509.76 262.45,515.36 264.45,515.36 264.45,517.57 266.45,517.57 266.45,516.17 268.46,516.17 268.46,514.2 270.46,514.2 270.46,511.55 272.46,511.55 272.46,510.43 274.47,510.43 274.47,509.83 276.47,509.83 276.47,508.41 278.47,508.41 278.47,507.83 280.48,507.83 280.48,510.44 282.48,510.44 282.48,510.58 284.48,510.58 284.48,512.29 286.49,512.29 286.49,514.35 288.49,514.35 288.49,516.44 290.5,516.44 290.5,518.22 292.5,518.22 292.5,519.4" fill="url(#stripe1)" />
<polygon points="297.21,519.4 297.21,517.56 299.25,517.56 299.25,513.71 301.29,513.71 301.29,512.23 303.32,512.23 303.32,512.87 305.36,512.87 305.36,515.29 307.4,515.29 307.4,515.28 309.43,515.28 309.43,513.46 311.47,513.46 311.47,514.57 313.51,514.57 313.51,516.22 315.54,516.22 315.54,514.19 317.58,514.19 317.58,509.08 319.62,509.08 319.62,510.41 321.66,510.41 321.66,509.75 323.69,509.75 323.69,512.71 325.73,512.71 325.73,514.19 327.77,514.19 327.77,515.63 329.8,515.63 329.8,515.97 331.84,515.97 331.84,514.15 333.88,514.15 333.88,512.95 335.91,512.95 335.91,509.94 337.95,509.94 337.95,508.28 339.99,508.28 339.99,506.94 342.02,506.94 342.02,508.06 344.06,508.06 344.06,509.35 346.1,509.35 346.1,510.77 348.14,510.77 348.14,513.88 350.17,513.88 350.17,517.5 352.21,517.5 352.21,519.4" fill="#8f5a2a" />
<polygon points="297.21,519.4 297.21,517.56 299.25,517.56 299.25,513.71 301.29,513.71 301.29,512.23 303.32,512.23 303.32,512.87 305.36,512.87 305.36,515.29 307.4,515.29 307.4,515.28 309.43,515.28 309.43,513.46 311.47,513.46 311.47,514.57 313.51,514.57 313.51,516.22 315.54,516.22 315.54,514.19 317.58,514.19 317.58,509.08 319.62,509.08 319.62,510.41 321.66,510.41 321.66,509.75 323.69,509.75 323.69,512.71 325.73,512.71 325.73,514.19 327.77,514.19 327.77,515.63 329.8,515.63 329.8,515.97 331.84,515.97 331.84,514.15 333.88,514.15 333.88,512.95 335.91,512.95 335.91,509.94 337.95,509.94 337.95,508.28 339.99,508.28 339.99,506.94 342.02,506.94 342.02,508.06 344.06,508.06 344.06,509.35 346.1,509.35 346.1,510.77 348.14,510.77 348.14,513.88 350.17,513.88 350.17,517.5 352.21,517.5 352.21,519.4" fill="url(#stripe1)" />
<polygon points="356.14,519.4 356.14,517.77 358.14,517.77 358.14,514.5 360.14,514.5 360.14,511.46 362.15,511.46 362.15,511.63 364.15,511.63 364.15,511.68 366.15,511.68 366.15,511.17 368.16,511.17 368.16,508.4 370.16,508.4 370.16,502.55 372.16,502.55 372.16,503.16 374.17,503.16 374.17,507.69 376.17,507.69 376.17,512.13 378.17,512.13 378.17,514.25 380.18,514.25 380.18,515.96 382.18,515.96 382.18,516.39 384.18,516.39 384.18,514.15 386.19,514.15 386.19,511.68 388.19,511.68 388.19,511.5 390.19,511.5 390.19,512.74 392.2,512.74 392.2,515.15 394.2,515.15 394.2,513.39 396.2,513.39 396.2,511.57 398.21,511.57 398.21,514.33 400.21,514.33 400.21,517.47 402.21,517.47 402.21,519.4" fill="#8f5a2a" />
<polygon points="356.14,519.4 356.14,517.77 358.14,517.77 358.14,514.5 360.14,514.5 360.14,511.46 362.15,511.46 362.15,511.63 364.15,511.63 364.15,511.68 366.15,511.68 366.15,511.17 368.16,511.17 368.16,508.4 370.16,508.4 370.16,502.55 372.16,502.55 372.16,503.16 374.17,503.16 374.17,507.69 376.17,507.69 376.17,512.13 378.17,512.13 378.17,514.25 380.18,514.25 380.18,515.96 382.18,515.96 382.18,516.39 384.18,516.39 384.18,514.15 386.19,514.15 386.19,511.68 388.19,511.68 388.19,511.5 390.19,511.5 390.19,512.74 392.2,512.74 392.2,515.15 394.2,515.15 394.2,513.39 396.2,513.39 396.2,511.57 398.21,511.57 398.21,514.33 400.21,514.33 400.21,517.47 402.21,517.47 402.21,519.4" fill="url(#stripe1)" />
<polygon points="411.64,519.4 411.64,517.21 413.65,517.21 413.65,512.95 415.66,512.95 415.66,509.17 417.66,509.17 417.66,505.33 419.67,505.33 419.67,506.59 421.68,506.59 421.68,511.17 423.69,511.17 423.69,514.78 425.69,514.78 425.69,514.24 427.7,514.24 427.7,514.3 429.71,514.3 429.71,514.13 431.72,514.13 431.72,516.28 433.72,516.28 433.72,517.31 435.73,517.31 435.73,517.07 437.74,517.07 437.74,513.54 439.75,513.54 439.75,509.5 441.75,509.5 441.75,506.96 443.76,506.96 443.76,512.49 445.77,512.49 445.77,517.7 447.78,517.7 447.78,513.97 449.78,513.97 449.78,508.43 451.79,508.43 451.79,505.07 453.8,505.07 453.8,503.35 455.81,503.35 455.81,503.74 457.81,503.74 457.81,505.46 459.82,505.46 459.82,507.9 461.83,507.9 461.83,510.25 463.84,510.25 463.84,514.15 465.84,514.15 465.84,518.32 467.85,518.32 467.85,516.91 469.86,516.91 469.86,515.12 471.87,515.12 471.87,514.03 473.87,514.03 473.87,513.66 475.88,513.66 475.88,515.4 477.89,515.4 477.89,516.62 479.9,516.62 479.9,516.04 481.9,516.04 481.9,514.32 483.91,514.32 483.91,511.31 485.92,511.31 485.92,508.18 487.93,508.18 487.93,507.13 489.93,507.13 489.93,512.12 491.94,512.12 491.94,516.21 493.95,516.21 493.95,517.5 495.96,517.5 495.96,515.82 497.96,515.82 497.96,514.92 499.97,514.92 499.97,511.4 501.98,511.4 501.98,504.59 503.99,504.59 503.99,500.14 505.99,500.14 505.99,505.9 508,505.9 508,510.21 510.01,510.21 510.01,512.3 512.02,512.3 512.02,512.12 514.02,512.12 514.02,512.83 516.03,512.83 516.03,514.46 518.04,514.46 518.04,516.26 520.05,516.26 520.05,517.58 522.05,517.58 522.05,518.63 524.06,518.63 524.06,519.02 526.07,519.02 526.07,519.4" fill="#8f5a2a" />
<polygon points="411.64,519.4 411.64,517.21 413.65,517.21 413.65,512.95 415.66,512.95 415.66,509.17 417.66,509.17 417.66,505.33 419.67,505.33 419.67,506.59 421.68,506.59 421.68,511.17 423.69,511.17 423.69,514.78 425.69,514.78 425.69,514.24 427.7,514.24 427.7,514.3 429.71,514.3 429.71,514.13 431.72,514.13 431.72,516.28 433.72,516.28 433.72,517.31 435.73,517.31 435.73,517.07 437.74,517.07 437.74,513.54 439.75,513.54 439.75,509.5 441.75,509.5 441.75,506.96 443.76,506.96 443.76,512.49 445.77,512.49 445.77,517.7 447.78,517.7 447.78,513.97 449.78,513.97 449.78,508.43 451.79,508.43 451.79,505.07 453.8,505.07 453.8,503.35 455.81,503.35 455.81,503.74 457.81,503.74 457.81,505.46 459.82,505.46 459.82,507.9 461.83,507.9 461.83,510.25 463.84,510.25 463.84,514.15 465.84,514.15 465.84,518.32 467.85,518.32 467.85,516.91 469.86,516.91 469.86,515.12 471.87,515.12 471.87,514.03 473.87,514.03 473.87,513.66 475.88,513.66 475.88,515.4 477.89,515.4 477.89,516.62 479.9,516.62 479.9,516.04 481.9,516.04 481.9,514.32 483.91,514.32 483.91,511.31 485.92,511.31 485.92,508.18 487.93,508.18 487.93,507.13 489.93,507.13 489.93,512.12 491.94,512.12 491.94,516.21 493.95,516.21 493.95,517.5 495.96,517.5 495.96,515.82 497.96,515.82 497.96,514.92 499.97,514.92 499.97,511.4 501.98,511.4 501.98,504.59 503.99,504.59 503.99,500.14 505.99,500.14 505.99,505.9 508,505.9 508,510.21 510.01,510.21 510.01,512.3 512.02,512.3 512.02,512.12 514.02,512.12 514.02,512.83 516.03,512.83 516.03,514.46 518.04,514.46 518.04,516.26 520.05,516.26 520.05,517.58 522.05,517.58 522.05,518.63 524.06,518.63 524.06,519.02 526.07,519.02 526.07,519.4" fill="url(#stripe1)" />
<polygon points="528.43,519.4 528.43,512.43 530.44,512.43 530.44,510.58 532.46,510.58 532.46,507.97 534.47,507.97 534.47,511.62 536.49,511.62 536.49,513.93 538.5,513.93 538.5,515.85 540.52,515.85 540.52,513.37 542.53,513.37 542.53,510.82 544.55,510.82 544.55,511.85 546.56,511.85 546.56,511.56 548.58,511.56 548.58,511.2 550.6,511.2 550.6,507.85 552.61,507.85 552.61,508.26 554.63,508.26 554.63,509.53 556.64,509.53 556.64,510.32 558.66,510.32 558.66,511.8 560.67,511.8 560.67,512.76 562.69,512.76 562.69,514.34 564.7,514.34 564.7,514.88 566.72,514.88 566.72,510.61 568.73,510.61 568.73,508.16 570.75,508.16 570.75,513.28 572.76,513.28 572.76,516.76 574.78,516.76 574.78,519.4" fill="#8f5a2a" />
<polygon points="528.43,519.4 528.43,512.43 530.44,512.43 530.44,510.58 532.46,510.58 532.46,507.97 534.47,507.97 534.47,511.62 536.49,511.62 536.49,513.93 538.5,513.93 538.5,515.85 540.52,515.85 540.52,513.37 542.53,513.37 542.53,510.82 544.55,510.82 544.55,511.85 546.56,511.85 546.56,511.56 548.58,511.56 548.58,511.2 550.6,511.2 550.6,507.85 552.61,507.85 552.61,508.26 554.63,508.26 554.63,509.53 556.64,509.53 556.64,510.32 558.66,510.32 558.66,511.8 560.67,511.8 560.67,512.76 562.69,512.76 562.69,514.34 564.7,514.34 564.7,514.88 566.72,514.88 566.72,510.61 568.73,510.61 568.73,508.16 570.75,508.16 570.75,513.28 572.76,513.28 572.76,516.76 574.78,516.76 574.78,519.4" fill="url(#stripe1)" />
<line x1="163.7" y1="528.6" x2="257" y2="528.6" stroke="#1f4ea6" stroke-width="2.2" />
<polygon points="252.5,528.6 255.5,525 258.7,525 258.7,532.4 255.5,532.4" fill="#1f4ea6" />
<polyline points="251.6,525.1 246.9,528.6 251.6,532.1" fill="none" stroke="#1f4ea6" stroke-width="1.8" stroke-linecap="butt" stroke-linejoin="miter"/>
<polyline points="239.94,525.1 235.24,528.6 239.94,532.1" fill="none" stroke="#1f4ea6" stroke-width="1.8" stroke-linecap="butt" stroke-linejoin="miter"/>
<polyline points="228.28,525.1 223.58,528.6 228.28,532.1" fill="none" stroke="#1f4ea6" stroke-width="1.8" stroke-linecap="butt" stroke-linejoin="miter"/>
<polyline points="216.62,525.1 211.92,528.6 216.62,532.1" fill="none" stroke="#1f4ea6" stroke-width="1.8" stroke-linecap="butt" stroke-linejoin="miter"/>
<polyline points="204.96,525.1 200.26,528.6 204.96,532.1" fill="none" stroke="#1f4ea6" stroke-width="1.8" stroke-linecap="butt" stroke-linejoin="miter"/>
<polyline points="193.3,525.1 188.6,528.6 193.3,532.1" fill="none" stroke="#1f4ea6" stroke-width="1.8" stroke-linecap="butt" stroke-linejoin="miter"/>
<polyline points="181.64,525.1 176.94,528.6 181.64,532.1" fill="none" stroke="#1f4ea6" stroke-width="1.8" stroke-linecap="butt" stroke-linejoin="miter"/>
<polyline points="169.98,525.1 165.28,528.6 169.98,532.1" fill="none" stroke="#1f4ea6" stroke-width="1.8" stroke-linecap="butt" stroke-linejoin="miter"/>
<text x="261.5" y="532.8" font-size="10" fill="#1f4ea6" font-weight="normal" text-anchor="start" font-family='"Liberation Sans", sans-serif' stroke="#1f4ea6" stroke-width="0.3">IL27</text>
<line x1="163.7" y1="542.2" x2="468" y2="542.2" stroke="#1f4ea6" stroke-width="2.2" />
<polygon points="461.5,542.2 465.5,538.6 472.7,538.6 472.7,545.8 465.5,545.8" fill="#1f4ea6" />
<polyline points="457.2,538.7 452.5,542.2 457.2,545.7" fill="none" stroke="#1f4ea6" stroke-width="1.8" stroke-linecap="butt" stroke-linejoin="miter"/>
<polyline points="445.6,538.7 440.9,542.2 445.6,545.7" fill="none" stroke="#1f4ea6" stroke-width="1.8" stroke-linecap="butt" stroke-linejoin="miter"/>
<polyline points="434,538.7 429.3,542.2 434,545.7" fill="none" stroke="#1f4ea6" stroke-width="1.8" stroke-linecap="butt" stroke-linejoin="miter"/>
<polyline points="422.4,538.7 417.7,542.2 422.4,545.7" fill="none" stroke="#1f4ea6" stroke-width="1.8" stroke-linecap="butt" stroke-linejoin="miter"/>
<polyline points="410.8,538.7 406.1,542.2 410.8,545.7" fill="none" stroke="#1f4ea6" stroke-width="1.8" stroke-linecap="butt" stroke-linejoin="miter"/>
<polyline points="399.2,538.7 394.5,542.2 399.2,545.7" fill="none" stroke="#1f4ea6" stroke-width="1.8" stroke-linecap="butt" stroke-linejoin="miter"/>
<polyline points="387.6,538.7 382.9,542.2 387.6,545.7" fill="none" stroke="#1f4ea6" stroke-width="1.8" stroke-linecap="butt" stroke-linejoin="miter"/>
<polyline points="376,538.7 371.3,542.2 376,545.7" fill="none" stroke="#1f4ea6" stroke-width="1.8" stroke-linecap="butt" stroke-linejoin="miter"/>
<polyline points="364.4,538.7 359.7,542.2 364.4,545.7" fill="none" stroke="#1f4ea6" stroke-width="1.8" stroke-linecap="butt" stroke-linejoin="miter"/>
<polyline points="352.8,538.7 348.1,542.2 352.8,545.7" fill="none" stroke="#1f4ea6" stroke-width="1.8" stroke-linecap="butt" stroke-linejoin="miter"/>
<polyline points="341.2,538.7 336.5,542.2 341.2,545.7" fill="none" stroke="#1f4ea6" stroke-width="1.8" stroke-linecap="butt" stroke-linejoin="miter"/>
<polyline points="329.6,538.7 324.9,542.2 329.6,545.7" fill="none" stroke="#1f4ea6" stroke-width="1.8" stroke-linecap="butt" stroke-linejoin="miter"/>
<polyline points="318,538.7 313.3,542.2 318,545.7" fill="none" stroke="#1f4ea6" stroke-width="1.8" stroke-linecap="butt" stroke-linejoin="miter"/>
<polyline points="306.4,538.7 301.7,542.2 306.4,545.7" fill="none" stroke="#1f4ea6" stroke-width="1.8" stroke-linecap="butt" stroke-linejoin="miter"/>
<polyline points="294.8,538.7 290.1,542.2 294.8,545.7" fill="none" stroke="#1f4ea6" stroke-width="1.8" stroke-linecap="butt" stroke-linejoin="miter"/>
<polyline points="283.2,538.7 278.5,542.2 283.2,545.7" fill="none" stroke="#1f4ea6" stroke-width="1.8" stroke-linecap="butt" stroke-linejoin="miter"/>
<polyline points="271.6,538.7 266.9,542.2 271.6,545.7" fill="none" stroke="#1f4ea6" stroke-width="1.8" stroke-linecap="butt" stroke-linejoin="miter"/>
<polyline points="260,538.7 255.3,542.2 260,545.7" fill="none" stroke="#1f4ea6" stroke-width="1.8" stroke-linecap="butt" stroke-linejoin="miter"/>
<polyline points="248.4,538.7 243.7,542.2 248.4,545.7" fill="none" stroke="#1f4ea6" stroke-width="1.8" stroke-linecap="butt" stroke-linejoin="miter"/>
<polyline points="236.8,538.7 232.1,542.2 236.8,545.7" fill="none" stroke="#1f4ea6" stroke-width="1.8" stroke-linecap="butt" stroke-linejoin="miter"/>
<polyline points="225.2,538.7 220.5,542.2 225.2,545.7" fill="none" stroke="#1f4ea6" stroke-width="1.8" stroke-linecap="butt" stroke-linejoin="miter"/>
<polyline points="213.6,538.7 208.9,542.2 213.6,545.7" fill="none" stroke="#1f4ea6" stroke-width="1.8" stroke-linecap="butt" stroke-linejoin="miter"/>
<polyline points="202,538.7 197.3,542.2 202,545.7" fill="none" stroke="#1f4ea6" stroke-width="1.8" stroke-linecap="butt" stroke-linejoin="miter"/>
<polyline points="190.4,538.7 185.7,542.2 190.4,545.7" fill="none" stroke="#1f4ea6" stroke-width="1.8" stroke-linecap="butt" stroke-linejoin="miter"/>
<polyline points="178.8,538.7 174.1,542.2 178.8,545.7" fill="none" stroke="#1f4ea6" stroke-width="1.8" stroke-linecap="butt" stroke-linejoin="miter"/>
<text x="476" y="546.2" font-size="10" fill="#1f4ea6" font-weight="normal" text-anchor="start" font-family='"Liberation Sans", sans-serif' stroke="#1f4ea6" stroke-width="0.3">IL27</text>
<text x="726.4" y="209.2" font-size="12.5" fill="#111" font-weight="bold" text-anchor="start" font-family='"Liberation Sans", sans-serif' >Chr16</text>
<rect x="770" y="197.6" width="396.6" height="13.7" fill="#808080" />
<line x1="784.6" y1="207.8" x2="784.6" y2="211.3" stroke="#d8d8d8" stroke-width="1" />
<line x1="800.53" y1="207.8" x2="800.53" y2="211.3" stroke="#d8d8d8" stroke-width="1" />
<line x1="816.46" y1="207.8" x2="816.46" y2="211.3" stroke="#d8d8d8" stroke-width="1" />
<line x1="832.39" y1="207.8" x2="832.39" y2="211.3" stroke="#d8d8d8" stroke-width="1" />
<line x1="848.32" y1="207.8" x2="848.32" y2="211.3" stroke="#d8d8d8" stroke-width="1" />
<line x1="864.25" y1="207.8" x2="864.25" y2="211.3" stroke="#d8d8d8" stroke-width="1" />
<line x1="880.18" y1="207.8" x2="880.18" y2="211.3" stroke="#d8d8d8" stroke-width="1" />
<line x1="896.11" y1="207.8" x2="896.11" y2="211.3" stroke="#d8d8d8" stroke-width="1" />
<line x1="912.04" y1="207.8" x2="912.04" y2="211.3" stroke="#d8d8d8" stroke-width="1" />
<line x1="927.97" y1="207.8" x2="927.97" y2="211.3" stroke="#d8d8d8" stroke-width="1" />
<line x1="943.9" y1="207.8" x2="943.9" y2="211.3" stroke="#d8d8d8" stroke-width="1" />
<line x1="959.83" y1="207.8" x2="959.83" y2="211.3" stroke="#d8d8d8" stroke-width="1" />
<line x1="975.76" y1="207.8" x2="975.76" y2="211.3" stroke="#d8d8d8" stroke-width="1" />
<line x1="991.69" y1="207.8" x2="991.69" y2="211.3" stroke="#d8d8d8" stroke-width="1" />
<line x1="1007.62" y1="207.8" x2="1007.62" y2="211.3" stroke="#d8d8d8" stroke-width="1" />
<line x1="1023.55" y1="207.8" x2="1023.55" y2="211.3" stroke="#d8d8d8" stroke-width="1" />
<line x1="1039.48" y1="207.8" x2="1039.48" y2="211.3" stroke="#d8d8d8" stroke-width="1" />
<line x1="1055.41" y1="207.8" x2="1055.41" y2="211.3" stroke="#d8d8d8" stroke-width="1" />
<line x1="1071.34" y1="207.8" x2="1071.34" y2="211.3" stroke="#d8d8d8" stroke-width="1" />
<line x1="1087.27" y1="207.8" x2="1087.27" y2="211.3" stroke="#d8d8d8" stroke-width="1" />
<line x1="1103.2" y1="207.8" x2="1103.2" y2="211.3" stroke="#d8d8d8" stroke-width="1" />
<line x1="1119.13" y1="207.8" x2="1119.13" y2="211.3" stroke="#d8d8d8" stroke-width="1" />
<line x1="1135.06" y1="207.8" x2="1135.06" y2="211.3" stroke="#d8d8d8" stroke-width="1" />
<line x1="1150.99" y1="207.8" x2="1150.99" y2="211.3" stroke="#d8d8d8" stroke-width="1" />
<line x1="832.8" y1="204.3" x2="832.8" y2="211.3" stroke="#e6e6e6" stroke-width="1.3" />
<line x1="992.2" y1="204.3" x2="992.2" y2="211.3" stroke="#e6e6e6" stroke-width="1.3" />
<line x1="1150.5" y1="204.3" x2="1150.5" y2="211.3" stroke="#e6e6e6" stroke-width="1.3" />
<text x="983" y="208.2" font-size="12" fill="#222" font-weight="normal" text-anchor="middle" font-family='"Liberation Sans", sans-serif' >p11.?</text>
<text x="832.8" y="225" font-size="11" fill="#222" font-weight="normal" text-anchor="start" font-family='"Liberation Sans", sans-serif' >28525000</text>
<text x="992" y="225" font-size="11" fill="#222" font-weight="normal" text-anchor="start" font-family='"Liberation Sans", sans-serif' >28526000</text>
<text x="1151" y="225" font-size="11" fill="#222" font-weight="normal" text-anchor="start" font-family='"Liberation Sans", sans-serif' >28527000</text>
<line x1="659" y1="234.4" x2="1166" y2="234.4" stroke="#a4a4a4" stroke-width="1.3" />
<line x1="659" y1="276.2" x2="1166" y2="276.2" stroke="#a4a4a4" stroke-width="1.3" />
<line x1="659" y1="317.2" x2="1166" y2="317.2" stroke="#a4a4a4" stroke-width="1.3" />
<line x1="659" y1="357.4" x2="1166" y2="357.4" stroke="#a4a4a4" stroke-width="1.3" />
<line x1="659" y1="398.2" x2="1166" y2="398.2" stroke="#a4a4a4" stroke-width="1.3" />
<line x1="659" y1="438.6" x2="1166" y2="438.6" stroke="#a4a4a4" stroke-width="1.3" />
<line x1="659" y1="479" x2="1166" y2="479" stroke="#a4a4a4" stroke-width="1.3" />
<line x1="659" y1="519.9" x2="1166" y2="519.9" stroke="#a4a4a4" stroke-width="1.3" />
<line x1="659" y1="562.9" x2="1166" y2="562.9" stroke="#bdbdbd" stroke-width="1.5" />
<text x="659.7" y="258" font-size="8.5" fill="#333" font-weight="normal" text-anchor="start" font-family='"Liberation Sans", sans-serif' >RepeatMasker</text>
<text x="659.7" y="300" font-size="8.5" fill="#333" font-weight="normal" text-anchor="start" font-family='"Liberation Sans", sans-serif' >Liver RAMPAGE</text>
<text x="659.7" y="340" font-size="8.5" fill="#333" font-weight="normal" text-anchor="start" font-family='"Liberation Sans", sans-serif' >Liver RNA-seq</text>
<text x="659.7" y="381" font-size="8.5" fill="#333" font-weight="normal" text-anchor="start" font-family='"Liberation Sans", sans-serif' >HNF4G ChIP-seq</text>
<text x="659.7" y="422" font-size="8.5" fill="#333" font-weight="normal" text-anchor="start" font-family='"Liberation Sans", sans-serif' >HNF4A ChIP-seq</text>
<text x="659.7" y="464" font-size="8.5" fill="#333" font-weight="normal" text-anchor="start" font-family='"Liberation Sans", sans-serif' >FOXA2 ChIP-seq</text>
<text x="659.7" y="505" font-size="8.5" fill="#333" font-weight="normal" text-anchor="start" font-family='"Liberation Sans", sans-serif' >FOXA1 ChIP-seq</text>
<text x="659.7" y="546.2" font-size="8.5" fill="#333" font-weight="normal" text-anchor="start" font-family='"Liberation Sans", sans-serif' >TE-initiated transcript</text>
<text x="759.2" y="241.8" font-size="7.2" fill="#222" font-weight="normal" text-anchor="end" font-family='"Liberation Sans", sans-serif' >1.0</text>
<text x="759.2" y="270.9" font-size="7.2" fill="#222" font-weight="normal" text-anchor="end" font-family='"Liberation Sans", sans-serif' >0.0</text>
<text x="759.2" y="284.1" font-size="7.2" fill="#222" font-weight="normal" text-anchor="end" font-family='"Liberation Sans", sans-serif' >0.09</text>
<text x="759.2" y="314.1" font-size="7.2" fill="#222" font-weight="normal" text-anchor="end" font-family='"Liberation Sans", sans-serif' >0.00</text>
<text x="759.2" y="325.1" font-size="7.2" fill="#222" font-weight="normal" text-anchor="end" font-family='"Liberation Sans", sans-serif' >23</text>
<text x="759.2" y="354.4" font-size="7.2" fill="#222" font-weight="normal" text-anchor="end" font-family='"Liberation Sans", sans-serif' >0</text>
<text x="759.2" y="365.6" font-size="7.2" fill="#222" font-weight="normal" text-anchor="end" font-family='"Liberation Sans", sans-serif' >13</text>
<text x="759.2" y="394.9" font-size="7.2" fill="#222" font-weight="normal" text-anchor="end" font-family='"Liberation Sans", sans-serif' >0</text>
<text x="759.2" y="406.1" font-size="7.2" fill="#222" font-weight="normal" text-anchor="end" font-family='"Liberation Sans", sans-serif' >40</text>
<text x="759.2" y="435.4" font-size="7.2" fill="#222" font-weight="normal" text-anchor="end" font-family='"Liberation Sans", sans-serif' >0</text>
<text x="759.2" y="446.6" font-size="7.2" fill="#222" font-weight="normal" text-anchor="end" font-family='"Liberation Sans", sans-serif' >7</text>
<text x="759.2" y="475.9" font-size="7.2" fill="#222" font-weight="normal" text-anchor="end" font-family='"Liberation Sans", sans-serif' >0</text>
<text x="759.2" y="487.1" font-size="7.2" fill="#222" font-weight="normal" text-anchor="end" font-family='"Liberation Sans", sans-serif' >3.2</text>
<text x="759.2" y="516.6" font-size="7.2" fill="#222" font-weight="normal" text-anchor="end" font-family='"Liberation Sans", sans-serif' >0.0</text>
<rect x="766" y="236.2" width="6" height="35.5" fill="#000" />
<rect x="766" y="278" width="6" height="35.6" fill="#000" />
<rect x="766" y="319" width="6" height="35.6" fill="#000" />
<rect x="766" y="359.2" width="6" height="35.6" fill="#000" />
<rect x="766" y="400" width="6" height="35.6" fill="#000" />
<rect x="766" y="440.4" width="6" height="35.6" fill="#000" />
<rect x="766" y="480.8" width="6" height="35.6" fill="#000" />
<rect x="772.9" y="239.5" width="16.4" height="32.2" fill="#d63a3f" />
<polyline points="776.4,263.7 780.9,267.3 776.4,270.9" fill="none" stroke="#f2f2f2" stroke-width="1.1" stroke-linecap="butt" stroke-linejoin="miter"/>
<polyline points="788,263.7 792.5,267.3 788,270.9" fill="none" stroke="#f2f2f2" stroke-width="1.1" stroke-linecap="butt" stroke-linejoin="miter"/>
<rect x="789.3" y="241.6" width="66.6" height="30.1" fill="#3b8c3f" />
<text x="816.7" y="255" font-size="8.2" fill="#ffffff" font-weight="normal" text-anchor="middle" font-family='"Liberation Sans", sans-serif' >MER66D</text>
<polyline points="792.8,263.7 797.3,267.3 792.8,270.9" fill="none" stroke="#f2f2f2" stroke-width="1.1" stroke-linecap="butt" stroke-linejoin="miter"/>
<polyline points="804.4,263.7 808.9,267.3 804.4,270.9" fill="none" stroke="#f2f2f2" stroke-width="1.1" stroke-linecap="butt" stroke-linejoin="miter"/>
<polyline points="816,263.7 820.5,267.3 816,270.9" fill="none" stroke="#f2f2f2" stroke-width="1.1" stroke-linecap="butt" stroke-linejoin="miter"/>
<polyline points="827.6,263.7 832.1,267.3 827.6,270.9" fill="none" stroke="#f2f2f2" stroke-width="1.1" stroke-linecap="butt" stroke-linejoin="miter"/>
<polyline points="839.2,263.7 843.7,267.3 839.2,270.9" fill="none" stroke="#f2f2f2" stroke-width="1.1" stroke-linecap="butt" stroke-linejoin="miter"/>
<polyline points="850.8,263.7 855.3,267.3 850.8,270.9" fill="none" stroke="#f2f2f2" stroke-width="1.1" stroke-linecap="butt" stroke-linejoin="miter"/>
<rect x="875.3" y="239.2" width="76.7" height="32.5" fill="#3b8c3f" />
<text x="909.4" y="255" font-size="8.2" fill="#ffffff" font-weight="normal" text-anchor="middle" font-family='"Liberation Sans", sans-serif' >LTR2C</text>
<polyline points="882.8,263.7 878.3,267.3 882.8,270.9" fill="none" stroke="#f2f2f2" stroke-width="1.1" stroke-linecap="butt" stroke-linejoin="miter"/>
<polyline points="894.4,263.7 889.9,267.3 894.4,270.9" fill="none" stroke="#f2f2f2" stroke-width="1.1" stroke-linecap="butt" stroke-linejoin="miter"/>
<polyline points="906,263.7 901.5,267.3 906,270.9" fill="none" stroke="#f2f2f2" stroke-width="1.1" stroke-linecap="butt" stroke-linejoin="miter"/>
<polyline points="917.6,263.7 913.1,267.3 917.6,270.9" fill="none" stroke="#f2f2f2" stroke-width="1.1" stroke-linecap="butt" stroke-linejoin="miter"/>
<polyline points="929.2,263.7 924.7,267.3 929.2,270.9" fill="none" stroke="#f2f2f2" stroke-width="1.1" stroke-linecap="butt" stroke-linejoin="miter"/>
<polyline points="940.8,263.7 936.3,267.3 940.8,270.9" fill="none" stroke="#f2f2f2" stroke-width="1.1" stroke-linecap="butt" stroke-linejoin="miter"/>
<polyline points="952.4,263.7 947.9,267.3 952.4,270.9" fill="none" stroke="#f2f2f2" stroke-width="1.1" stroke-linecap="butt" stroke-linejoin="miter"/>
<rect x="953.2" y="238" width="52.3" height="33.7" fill="#3b8c3f" />
<text x="976" y="255" font-size="8.2" fill="#ffffff" font-weight="normal" text-anchor="middle" font-family='"Liberation Sans", sans-serif' >LTR2C</text>
<polyline points="956.7,263.7 961.2,267.3 956.7,270.9" fill="none" stroke="#f2f2f2" stroke-width="1.1" stroke-linecap="butt" stroke-linejoin="miter"/>
<polyline points="968.3,263.7 972.8,267.3 968.3,270.9" fill="none" stroke="#f2f2f2" stroke-width="1.1" stroke-linecap="butt" stroke-linejoin="miter"/>
<polyline points="979.9,263.7 984.4,267.3 979.9,270.9" fill="none" stroke="#f2f2f2" stroke-width="1.1" stroke-linecap="butt" stroke-linejoin="miter"/>
<polyline points="991.5,263.7 996,267.3 991.5,270.9" fill="none" stroke="#f2f2f2" stroke-width="1.1" stroke-linecap="butt" stroke-linejoin="miter"/>
<polyline points="1003.1,263.7 1007.6,267.3 1003.1,270.9" fill="none" stroke="#f2f2f2" stroke-width="1.1" stroke-linecap="butt" stroke-linejoin="miter"/>
<rect x="1006.3" y="240.3" width="22" height="31.4" fill="#d63a3f" />
<polyline points="1013.8,263.7 1009.3,267.3 1013.8,270.9" fill="none" stroke="#f2f2f2" stroke-width="1.1" stroke-linecap="butt" stroke-linejoin="miter"/>
<polyline points="1025.4,263.7 1020.9,267.3 1025.4,270.9" fill="none" stroke="#f2f2f2" stroke-width="1.1" stroke-linecap="butt" stroke-linejoin="miter"/>
<rect x="1028.3" y="241" width="67.8" height="30.7" fill="#3b8c3f" />
<text x="1056" y="255" font-size="8.2" fill="#ffffff" font-weight="normal" text-anchor="middle" font-family='"Liberation Sans", sans-serif' >MER67A</text>
<polyline points="1031.8,263.7 1036.3,267.3 1031.8,270.9" fill="none" stroke="#f2f2f2" stroke-width="1.1" stroke-linecap="butt" stroke-linejoin="miter"/>
<polyline points="1043.4,263.7 1047.9,267.3 1043.4,270.9" fill="none" stroke="#f2f2f2" stroke-width="1.1" stroke-linecap="butt" stroke-linejoin="miter"/>
<polyline points="1055,263.7 1059.5,267.3 1055,270.9" fill="none" stroke="#f2f2f2" stroke-width="1.1" stroke-linecap="butt" stroke-linejoin="miter"/>
<polyline points="1066.6,263.7 1071.1,267.3 1066.6,270.9" fill="none" stroke="#f2f2f2" stroke-width="1.1" stroke-linecap="butt" stroke-linejoin="miter"/>
<polyline points="1078.2,263.7 1082.7,267.3 1078.2,270.9" fill="none" stroke="#f2f2f2" stroke-width="1.1" stroke-linecap="butt" stroke-linejoin="miter"/>
<polyline points="1089.8,263.7 1094.3,267.3 1089.8,270.9" fill="none" stroke="#f2f2f2" stroke-width="1.1" stroke-linecap="butt" stroke-linejoin="miter"/>
<rect x="1096.8" y="241" width="53.7" height="30.7" fill="#d63a3f" />
<text x="1120.5" y="255" font-size="8.2" fill="#ffffff" font-weight="normal" text-anchor="middle" font-family='"Liberation Sans", sans-serif' >AluJr</text>
<polyline points="1104.3,263.7 1099.8,267.3 1104.3,270.9" fill="none" stroke="#f2f2f2" stroke-width="1.1" stroke-linecap="butt" stroke-linejoin="miter"/>
<polyline points="1115.9,263.7 1111.4,267.3 1115.9,270.9" fill="none" stroke="#f2f2f2" stroke-width="1.1" stroke-linecap="butt" stroke-linejoin="miter"/>
<polyline points="1127.5,263.7 1123,267.3 1127.5,270.9" fill="none" stroke="#f2f2f2" stroke-width="1.1" stroke-linecap="butt" stroke-linejoin="miter"/>
<polyline points="1139.1,263.7 1134.6,267.3 1139.1,270.9" fill="none" stroke="#f2f2f2" stroke-width="1.1" stroke-linecap="butt" stroke-linejoin="miter"/>
<polyline points="1150.7,263.7 1146.2,267.3 1150.7,270.9" fill="none" stroke="#f2f2f2" stroke-width="1.1" stroke-linecap="butt" stroke-linejoin="miter"/>
<rect x="1154" y="244.3" width="11.9" height="27.4" fill="#e98a3a" />
<polyline points="1161.5,263.7 1157,267.3 1161.5,270.9" fill="none" stroke="#f2f2f2" stroke-width="1.1" stroke-linecap="butt" stroke-linejoin="miter"/>
<rect x="952.2" y="238" width="1" height="33.7" fill="#ffffff" />
<rect x="947" y="309.6" width="2" height="4.7" fill="#c8102e" />
<polygon points="1050.5,314.3 1050.5,278 1051.8,278 1052.5,294.6 1054,294.6 1055,300.6 1057,300.6 1058,304 1060,304 1061,301.7 1063,301.7 1063.5,308.8 1065,308.8 1066.6,308.8 1067.7,314.3" fill="#c8102e" />
<polygon points="789,354.8 789,353 791.07,353 791.07,352.96 793.14,352.96 793.14,353.13 795.21,353.13 795.21,353.07 797.29,353.07 797.29,353.05 799.36,353.05 799.36,353.17 801.43,353.17 801.43,353.13 803.5,353.13 803.5,353 805.57,353 805.57,352.93 807.64,352.93 807.64,352.82 809.71,352.82 809.71,353.18 811.79,353.18 811.79,353.04 813.86,353.04 813.86,352.83 815.93,352.83 815.93,353.09 818,353.09 818,354.8" fill="#4a87cc" />
<polygon points="789,354.8 789,353 791.07,353 791.07,352.96 793.14,352.96 793.14,353.13 795.21,353.13 795.21,353.07 797.29,353.07 797.29,353.05 799.36,353.05 799.36,353.17 801.43,353.17 801.43,353.13 803.5,353.13 803.5,353 805.57,353 805.57,352.93 807.64,352.93 807.64,352.82 809.71,352.82 809.71,353.18 811.79,353.18 811.79,353.04 813.86,353.04 813.86,352.83 815.93,352.83 815.93,353.09 818,353.09 818,354.8" fill="url(#stripe1)" />
<polygon points="822.7,354.8 822.7,353.17 824.7,353.17 824.7,353.07 826.7,353.07 826.7,353.06 828.7,353.06 828.7,352.96 830.7,352.96 830.7,353.06 832.7,353.06 832.7,352.97 834.7,352.97 834.7,354.8" fill="#4a87cc" />
<polygon points="822.7,354.8 822.7,353.17 824.7,353.17 824.7,353.07 826.7,353.07 826.7,353.06 828.7,353.06 828.7,352.96 830.7,352.96 830.7,353.06 832.7,353.06 832.7,352.97 834.7,352.97 834.7,354.8" fill="url(#stripe1)" />
<polygon points="860,354.8 860,352.95 862.06,352.95 862.06,353.09 864.11,353.09 864.11,352.87 866.17,352.87 866.17,352.99 868.23,352.99 868.23,352.83 870.29,352.83 870.29,352.86 872.34,352.86 872.34,352.91 874.4,352.91 874.4,354.8" fill="#4a87cc" />
<polygon points="860,354.8 860,352.95 862.06,352.95 862.06,353.09 864.11,353.09 864.11,352.87 866.17,352.87 866.17,352.99 868.23,352.99 868.23,352.83 870.29,352.83 870.29,352.86 872.34,352.86 872.34,352.91 874.4,352.91 874.4,354.8" fill="url(#stripe1)" />
<polygon points="880.4,354.8 880.4,352.82 882.34,352.82 882.34,352.79 884.28,352.79 884.28,352.74 886.22,352.74 886.22,352.88 888.15,352.88 888.15,352.99 890.09,352.99 890.09,352.81 892.03,352.81 892.03,352.64 893.97,352.64 893.97,352.69 895.91,352.69 895.91,352.83 897.85,352.83 897.85,352.52 899.78,352.52 899.78,352.65 901.72,352.65 901.72,352.28 903.66,352.28 903.66,352.22 905.6,352.22 905.6,354.8" fill="#4a87cc" />
<polygon points="880.4,354.8 880.4,352.82 882.34,352.82 882.34,352.79 884.28,352.79 884.28,352.74 886.22,352.74 886.22,352.88 888.15,352.88 888.15,352.99 890.09,352.99 890.09,352.81 892.03,352.81 892.03,352.64 893.97,352.64 893.97,352.69 895.91,352.69 895.91,352.83 897.85,352.83 897.85,352.52 899.78,352.52 899.78,352.65 901.72,352.65 901.72,352.28 903.66,352.28 903.66,352.22 905.6,352.22 905.6,354.8" fill="url(#stripe1)" />
<polygon points="912.8,354.8 912.8,349.98 914.69,349.98 914.69,349.66 916.57,349.66 916.57,350.26 918.46,350.26 918.46,351.45 920.34,351.45 920.34,352.06 922.23,352.06 922.23,353.12 924.11,353.12 924.11,354.06 926,354.06 926,354.8" fill="#4a87cc" />
<polygon points="912.8,354.8 912.8,349.98 914.69,349.98 914.69,349.66 916.57,349.66 916.57,350.26 918.46,350.26 918.46,351.45 920.34,351.45 920.34,352.06 922.23,352.06 922.23,353.12 924.11,353.12 924.11,354.06 926,354.06 926,354.8" fill="url(#stripe1)" />
<polygon points="928.5,354.8 928.5,345.18 930.5,345.18 930.5,345.75 932.5,345.75 932.5,346.65 934.51,346.65 934.51,346.76 936.51,346.76 936.51,345.39 938.51,345.39 938.51,345.76 940.51,345.76 940.51,345.74 942.51,345.74 942.51,350.38 944.51,350.38 944.51,350.36 946.52,350.36 946.52,350.54 948.52,350.54 948.52,350.51 950.52,350.51 950.52,350.99 952.52,350.99 952.52,350.68 954.52,350.68 954.52,350.89 956.53,350.89 956.53,349.76 958.53,349.76 958.53,349.26 960.53,349.26 960.53,349.35 962.53,349.35 962.53,348.63 964.53,348.63 964.53,349.06 966.54,349.06 966.54,347.69 968.54,347.69 968.54,347.59 970.54,347.59 970.54,348.47 972.54,348.47 972.54,347.68 974.54,347.68 974.54,348 976.54,348 976.54,348.03 978.55,348.03 978.55,348.59 980.55,348.59 980.55,349.41 982.55,349.41 982.55,349.74 984.55,349.74 984.55,349.82 986.55,349.82 986.55,350.22 988.56,350.22 988.56,351.19 990.56,351.19 990.56,351.19 992.56,351.19 992.56,351.71 994.56,351.71 994.56,352.51 996.56,352.51 996.56,353.02 998.56,353.02 998.56,353.17 1000.57,353.17 1000.57,353.18 1002.57,353.18 1002.57,353.44 1004.57,353.44 1004.57,353.39 1006.57,353.39 1006.57,353.41 1008.57,353.41 1008.57,353.29 1010.58,353.29 1010.58,353.08 1012.58,353.08 1012.58,352.8 1014.58,352.8 1014.58,352.28 1016.58,352.28 1016.58,351.28 1018.58,351.28 1018.58,351.18 1020.59,351.18 1020.59,350.49 1022.59,350.49 1022.59,349.81 1024.59,349.81 1024.59,348.64 1026.59,348.64 1026.59,349.5 1028.59,349.5 1028.59,349.12 1030.59,349.12 1030.59,349.79 1032.6,349.79 1032.6,350.64 1034.6,350.64 1034.6,351.43 1036.6,351.43 1036.6,354.8" fill="#4a87cc" />
<polygon points="928.5,354.8 928.5,345.18 930.5,345.18 930.5,345.75 932.5,345.75 932.5,346.65 934.51,346.65 934.51,346.76 936.51,346.76 936.51,345.39 938.51,345.39 938.51,345.76 940.51,345.76 940.51,345.74 942.51,345.74 942.51,350.38 944.51,350.38 944.51,350.36 946.52,350.36 946.52,350.54 948.52,350.54 948.52,350.51 950.52,350.51 950.52,350.99 952.52,350.99 952.52,350.68 954.52,350.68 954.52,350.89 956.53,350.89 956.53,349.76 958.53,349.76 958.53,349.26 960.53,349.26 960.53,349.35 962.53,349.35 962.53,348.63 964.53,348.63 964.53,349.06 966.54,349.06 966.54,347.69 968.54,347.69 968.54,347.59 970.54,347.59 970.54,348.47 972.54,348.47 972.54,347.68 974.54,347.68 974.54,348 976.54,348 976.54,348.03 978.55,348.03 978.55,348.59 980.55,348.59 980.55,349.41 982.55,349.41 982.55,349.74 984.55,349.74 984.55,349.82 986.55,349.82 986.55,350.22 988.56,350.22 988.56,351.19 990.56,351.19 990.56,351.19 992.56,351.19 992.56,351.71 994.56,351.71 994.56,352.51 996.56,352.51 996.56,353.02 998.56,353.02 998.56,353.17 1000.57,353.17 1000.57,353.18 1002.57,353.18 1002.57,353.44 1004.57,353.44 1004.57,353.39 1006.57,353.39 1006.57,353.41 1008.57,353.41 1008.57,353.29 1010.58,353.29 1010.58,353.08 1012.58,353.08 1012.58,352.8 1014.58,352.8 1014.58,352.28 1016.58,352.28 1016.58,351.28 1018.58,351.28 1018.58,351.18 1020.59,351.18 1020.59,350.49 1022.59,350.49 1022.59,349.81 1024.59,349.81 1024.59,348.64 1026.59,348.64 1026.59,349.5 1028.59,349.5 1028.59,349.12 1030.59,349.12 1030.59,349.79 1032.6,349.79 1032.6,350.64 1034.6,350.64 1034.6,351.43 1036.6,351.43 1036.6,354.8" fill="url(#stripe1)" />
<polygon points="1039,354.8 1039,348.1 1040.92,348.1 1040.92,337.83 1042.84,337.83 1042.84,326.39 1044.76,326.39 1044.76,324.9 1046.68,324.9 1046.68,331.93 1048.6,331.93 1048.6,337.95 1050.52,337.95 1050.52,346.85 1052.44,346.85 1052.44,348.64 1054.36,348.64 1054.36,351.25 1056.28,351.25 1056.28,353.47 1058.2,353.47 1058.2,354.8" fill="#4a87cc" />
<polygon points="1039,354.8 1039,348.1 1040.92,348.1 1040.92,337.83 1042.84,337.83 1042.84,326.39 1044.76,326.39 1044.76,324.9 1046.68,324.9 1046.68,331.93 1048.6,331.93 1048.6,337.95 1050.52,337.95 1050.52,346.85 1052.44,346.85 1052.44,348.64 1054.36,348.64 1054.36,351.25 1056.28,351.25 1056.28,353.47 1058.2,353.47 1058.2,354.8" fill="url(#stripe1)" />
<polygon points="773.4,395.5 773.4,393.77 775.31,393.77 775.31,393.38 777.22,393.38 777.22,392.99 779.13,392.99 779.13,392.52 781.04,392.52 781.04,392.36 782.95,392.36 782.95,391.77 784.87,391.77 784.87,391.74 786.78,391.74 786.78,391.56 788.69,391.56 788.69,391.25 790.6,391.25 790.6,391.42 792.51,391.42 792.51,391.52 794.42,391.52 794.42,391.24 796.33,391.24 796.33,391.08 798.24,391.08 798.24,391.12 800.15,391.12 800.15,391.1 802.06,391.1 802.06,391.09 803.97,391.09 803.97,391 805.88,391 805.88,390.71 807.8,390.71 807.8,390.29 809.71,390.29 809.71,390.6 811.62,390.6 811.62,390.03 813.53,390.03 813.53,389.79 815.44,389.79 815.44,389.55 817.35,389.55 817.35,389.86 819.26,389.86 819.26,389.26 821.17,389.26 821.17,389.78 823.08,389.78 823.08,389.03 824.99,389.03 824.99,388.62 826.9,388.62 826.9,387.78 828.81,387.78 828.81,387.73 830.73,387.73 830.73,388.69 832.64,388.69 832.64,389.67 834.55,389.67 834.55,390.6 836.46,390.6 836.46,391.54 838.37,391.54 838.37,392.95 840.28,392.95 840.28,393.13 842.19,393.13 842.19,393.36 844.1,393.36 844.1,393.77 846.01,393.77 846.01,393.81 847.92,393.81 847.92,394.08 849.83,394.08 849.83,394.08 851.74,394.08 851.74,393.86 853.66,393.86 853.66,394.02 855.57,394.02 855.57,393.95 857.48,393.95 857.48,393.66 859.39,393.66 859.39,393.61 861.3,393.61 861.3,393.76 863.21,393.76 863.21,393.64 865.12,393.64 865.12,393.47 867.03,393.47 867.03,393.4 868.94,393.4 868.94,393.31 870.85,393.31 870.85,393.32 872.76,393.32 872.76,393.11 874.67,393.11 874.67,393.31 876.59,393.31 876.59,393.01 878.5,393.01 878.5,393.11 880.41,393.11 880.41,393.08 882.32,393.08 882.32,392.84 884.23,392.84 884.23,393.17 886.14,393.17 886.14,392.97 888.05,392.97 888.05,392.85 889.96,392.85 889.96,393.06 891.87,393.06 891.87,392.88 893.78,392.88 893.78,392.92 895.69,392.92 895.69,392.89 897.6,392.89 897.6,393.04 899.52,393.04 899.52,392.97 901.43,392.97 901.43,392.88 903.34,392.88 903.34,393.06 905.25,393.06 905.25,393.18 907.16,393.18 907.16,392.88 909.07,392.88 909.07,393.02 910.98,393.02 910.98,393.09 912.89,393.09 912.89,393.01 914.8,393.01 914.8,393.12 916.71,393.12 916.71,393.41 918.62,393.41 918.62,393.36 920.53,393.36 920.53,393.47 922.45,393.47 922.45,393.66 924.36,393.66 924.36,393.82 926.27,393.82 926.27,393.8 928.18,393.8 928.18,393.89 930.09,393.89 930.09,394.04 932,394.04 932,395.5" fill="#e9a030" />
<polygon points="773.4,395.5 773.4,393.77 775.31,393.77 775.31,393.38 777.22,393.38 777.22,392.99 779.13,392.99 779.13,392.52 781.04,392.52 781.04,392.36 782.95,392.36 782.95,391.77 784.87,391.77 784.87,391.74 786.78,391.74 786.78,391.56 788.69,391.56 788.69,391.25 790.6,391.25 790.6,391.42 792.51,391.42 792.51,391.52 794.42,391.52 794.42,391.24 796.33,391.24 796.33,391.08 798.24,391.08 798.24,391.12 800.15,391.12 800.15,391.1 802.06,391.1 802.06,391.09 803.97,391.09 803.97,391 805.88,391 805.88,390.71 807.8,390.71 807.8,390.29 809.71,390.29 809.71,390.6 811.62,390.6 811.62,390.03 813.53,390.03 813.53,389.79 815.44,389.79 815.44,389.55 817.35,389.55 817.35,389.86 819.26,389.86 819.26,389.26 821.17,389.26 821.17,389.78 823.08,389.78 823.08,389.03 824.99,389.03 824.99,388.62 826.9,388.62 826.9,387.78 828.81,387.78 828.81,387.73 830.73,387.73 830.73,388.69 832.64,388.69 832.64,389.67 834.55,389.67 834.55,390.6 836.46,390.6 836.46,391.54 838.37,391.54 838.37,392.95 840.28,392.95 840.28,393.13 842.19,393.13 842.19,393.36 844.1,393.36 844.1,393.77 846.01,393.77 846.01,393.81 847.92,393.81 847.92,394.08 849.83,394.08 849.83,394.08 851.74,394.08 851.74,393.86 853.66,393.86 853.66,394.02 855.57,394.02 855.57,393.95 857.48,393.95 857.48,393.66 859.39,393.66 859.39,393.61 861.3,393.61 861.3,393.76 863.21,393.76 863.21,393.64 865.12,393.64 865.12,393.47 867.03,393.47 867.03,393.4 868.94,393.4 868.94,393.31 870.85,393.31 870.85,393.32 872.76,393.32 872.76,393.11 874.67,393.11 874.67,393.31 876.59,393.31 876.59,393.01 878.5,393.01 878.5,393.11 880.41,393.11 880.41,393.08 882.32,393.08 882.32,392.84 884.23,392.84 884.23,393.17 886.14,393.17 886.14,392.97 888.05,392.97 888.05,392.85 889.96,392.85 889.96,393.06 891.87,393.06 891.87,392.88 893.78,392.88 893.78,392.92 895.69,392.92 895.69,392.89 897.6,392.89 897.6,393.04 899.52,393.04 899.52,392.97 901.43,392.97 901.43,392.88 903.34,392.88 903.34,393.06 905.25,393.06 905.25,393.18 907.16,393.18 907.16,392.88 909.07,392.88 909.07,393.02 910.98,393.02 910.98,393.09 912.89,393.09 912.89,393.01 914.8,393.01 914.8,393.12 916.71,393.12 916.71,393.41 918.62,393.41 918.62,393.36 920.53,393.36 920.53,393.47 922.45,393.47 922.45,393.66 924.36,393.66 924.36,393.82 926.27,393.82 926.27,393.8 928.18,393.8 928.18,393.89 930.09,393.89 930.09,394.04 932,394.04 932,395.5" fill="url(#stripe1)" />
<polygon points="939,395.5 939,394.09 940.9,394.09 940.9,393.93 942.8,393.93 942.8,393.83 944.7,393.83 944.7,393.92 946.6,393.92 946.6,393.64 948.5,393.64 948.5,393.59 950.41,393.59 950.41,393.62 952.31,393.62 952.31,393.39 954.21,393.39 954.21,393.23 956.11,393.23 956.11,393.17 958.01,393.17 958.01,393.06 959.91,393.06 959.91,393.19 961.81,393.19 961.81,392.94 963.71,392.94 963.71,393.19 965.61,393.19 965.61,393.13 967.51,393.13 967.51,393.42 969.41,393.42 969.41,393.55 971.31,393.55 971.31,393.7 973.22,393.7 973.22,393.98 975.12,393.98 975.12,394.09 977.02,394.09 977.02,394.24 978.92,394.24 978.92,394.45 980.82,394.45 980.82,394.51 982.72,394.51 982.72,394.55 984.62,394.55 984.62,394.31 986.52,394.31 986.52,394.03 988.42,394.03 988.42,394.04 990.32,394.04 990.32,393.84 992.22,393.84 992.22,393.6 994.12,393.6 994.12,393.53 996.03,393.53 996.03,393.25 997.93,393.25 997.93,393.22 999.83,393.22 999.83,393.22 1001.73,393.22 1001.73,393.22 1003.63,393.22 1003.63,393.14 1005.53,393.14 1005.53,393.35 1007.43,393.35 1007.43,393.55 1009.33,393.55 1009.33,393.55 1011.23,393.55 1011.23,393.82 1013.13,393.82 1013.13,393.95 1015.03,393.95 1015.03,394.02 1016.93,394.02 1016.93,393.97 1018.84,393.97 1018.84,393.69 1020.74,393.69 1020.74,392.93 1022.64,392.93 1022.64,391.86 1024.54,391.86 1024.54,391.07 1026.44,391.07 1026.44,390.85 1028.34,390.85 1028.34,389.79 1030.24,389.79 1030.24,389.34 1032.14,389.34 1032.14,387.85 1034.04,387.85 1034.04,387.51 1035.94,387.51 1035.94,387.4 1037.84,387.4 1037.84,387.28 1039.74,387.28 1039.74,388.02 1041.65,388.02 1041.65,387.93 1043.55,387.93 1043.55,387.84 1045.45,387.84 1045.45,387.43 1047.35,387.43 1047.35,388.03 1049.25,388.03 1049.25,388.03 1051.15,388.03 1051.15,386.99 1053.05,386.99 1053.05,386.75 1054.95,386.75 1054.95,386.12 1056.85,386.12 1056.85,386.64 1058.75,386.64 1058.75,384.93 1060.65,384.93 1060.65,384.18 1062.55,384.18 1062.55,384.09 1064.46,384.09 1064.46,382.5 1066.36,382.5 1066.36,381.09 1068.26,381.09 1068.26,376.92 1070.16,376.92 1070.16,369.27 1072.06,369.27 1072.06,364.05 1073.96,364.05 1073.96,362.6 1075.86,362.6 1075.86,361.97 1077.76,361.97 1077.76,363.89 1079.66,363.89 1079.66,364 1081.56,364 1081.56,362.28 1083.46,362.28 1083.46,362.51 1085.36,362.51 1085.36,361.45 1087.27,361.45 1087.27,365.19 1089.17,365.19 1089.17,367.57 1091.07,367.57 1091.07,373.35 1092.97,373.35 1092.97,377.61 1094.87,377.61 1094.87,379.99 1096.77,379.99 1096.77,382.67 1098.67,382.67 1098.67,383.36 1100.57,383.36 1100.57,385.74 1102.47,385.74 1102.47,387.91 1104.37,387.91 1104.37,389.19 1106.27,389.19 1106.27,389.77 1108.17,389.77 1108.17,389.6 1110.08,389.6 1110.08,389.99 1111.98,389.99 1111.98,390.38 1113.88,390.38 1113.88,390.47 1115.78,390.47 1115.78,391.21 1117.68,391.21 1117.68,391.4 1119.58,391.4 1119.58,391.23 1121.48,391.23 1121.48,391.65 1123.38,391.65 1123.38,392.26 1125.28,392.26 1125.28,392.16 1127.18,392.16 1127.18,392.51 1129.08,392.51 1129.08,392.67 1130.98,392.67 1130.98,392.99 1132.89,392.99 1132.89,393.22 1134.79,393.22 1134.79,393.48 1136.69,393.48 1136.69,393.38 1138.59,393.38 1138.59,393.3 1140.49,393.3 1140.49,393.38 1142.39,393.38 1142.39,393.3 1144.29,393.3 1144.29,393.37 1146.19,393.37 1146.19,393.33 1148.09,393.33 1148.09,393.36 1149.99,393.36 1149.99,393.2 1151.89,393.2 1151.89,393.31 1153.79,393.31 1153.79,393.03 1155.7,393.03 1155.7,393.03 1157.6,393.03 1157.6,393.2 1159.5,393.2 1159.5,392.91 1161.4,392.91 1161.4,392.89 1163.3,392.89 1163.3,392.9 1165.2,392.9 1165.2,395.5" fill="#e9a030" />
<polygon points="939,395.5 939,394.09 940.9,394.09 940.9,393.93 942.8,393.93 942.8,393.83 944.7,393.83 944.7,393.92 946.6,393.92 946.6,393.64 948.5,393.64 948.5,393.59 950.41,393.59 950.41,393.62 952.31,393.62 952.31,393.39 954.21,393.39 954.21,393.23 956.11,393.23 956.11,393.17 958.01,393.17 958.01,393.06 959.91,393.06 959.91,393.19 961.81,393.19 961.81,392.94 963.71,392.94 963.71,393.19 965.61,393.19 965.61,393.13 967.51,393.13 967.51,393.42 969.41,393.42 969.41,393.55 971.31,393.55 971.31,393.7 973.22,393.7 973.22,393.98 975.12,393.98 975.12,394.09 977.02,394.09 977.02,394.24 978.92,394.24 978.92,394.45 980.82,394.45 980.82,394.51 982.72,394.51 982.72,394.55 984.62,394.55 984.62,394.31 986.52,394.31 986.52,394.03 988.42,394.03 988.42,394.04 990.32,394.04 990.32,393.84 992.22,393.84 992.22,393.6 994.12,393.6 994.12,393.53 996.03,393.53 996.03,393.25 997.93,393.25 997.93,393.22 999.83,393.22 999.83,393.22 1001.73,393.22 1001.73,393.22 1003.63,393.22 1003.63,393.14 1005.53,393.14 1005.53,393.35 1007.43,393.35 1007.43,393.55 1009.33,393.55 1009.33,393.55 1011.23,393.55 1011.23,393.82 1013.13,393.82 1013.13,393.95 1015.03,393.95 1015.03,394.02 1016.93,394.02 1016.93,393.97 1018.84,393.97 1018.84,393.69 1020.74,393.69 1020.74,392.93 1022.64,392.93 1022.64,391.86 1024.54,391.86 1024.54,391.07 1026.44,391.07 1026.44,390.85 1028.34,390.85 1028.34,389.79 1030.24,389.79 1030.24,389.34 1032.14,389.34 1032.14,387.85 1034.04,387.85 1034.04,387.51 1035.94,387.51 1035.94,387.4 1037.84,387.4 1037.84,387.28 1039.74,387.28 1039.74,388.02 1041.65,388.02 1041.65,387.93 1043.55,387.93 1043.55,387.84 1045.45,387.84 1045.45,387.43 1047.35,387.43 1047.35,388.03 1049.25,388.03 1049.25,388.03 1051.15,388.03 1051.15,386.99 1053.05,386.99 1053.05,386.75 1054.95,386.75 1054.95,386.12 1056.85,386.12 1056.85,386.64 1058.75,386.64 1058.75,384.93 1060.65,384.93 1060.65,384.18 1062.55,384.18 1062.55,384.09 1064.46,384.09 1064.46,382.5 1066.36,382.5 1066.36,381.09 1068.26,381.09 1068.26,376.92 1070.16,376.92 1070.16,369.27 1072.06,369.27 1072.06,364.05 1073.96,364.05 1073.96,362.6 1075.86,362.6 1075.86,361.97 1077.76,361.97 1077.76,363.89 1079.66,363.89 1079.66,364 1081.56,364 1081.56,362.28 1083.46,362.28 1083.46,362.51 1085.36,362.51 1085.36,361.45 1087.27,361.45 1087.27,365.19 1089.17,365.19 1089.17,367.57 1091.07,367.57 1091.07,373.35 1092.97,373.35 1092.97,377.61 1094.87,377.61 1094.87,379.99 1096.77,379.99 1096.77,382.67 1098.67,382.67 1098.67,383.36 1100.57,383.36 1100.57,385.74 1102.47,385.74 1102.47,387.91 1104.37,387.91 1104.37,389.19 1106.27,389.19 1106.27,389.77 1108.17,389.77 1108.17,389.6 1110.08,389.6 1110.08,389.99 1111.98,389.99 1111.98,390.38 1113.88,390.38 1113.88,390.47 1115.78,390.47 1115.78,391.21 1117.68,391.21 1117.68,391.4 1119.58,391.4 1119.58,391.23 1121.48,391.23 1121.48,391.65 1123.38,391.65 1123.38,392.26 1125.28,392.26 1125.28,392.16 1127.18,392.16 1127.18,392.51 1129.08,392.51 1129.08,392.67 1130.98,392.67 1130.98,392.99 1132.89,392.99 1132.89,393.22 1134.79,393.22 1134.79,393.48 1136.69,393.48 1136.69,393.38 1138.59,393.38 1138.59,393.3 1140.49,393.3 1140.49,393.38 1142.39,393.38 1142.39,393.3 1144.29,393.3 1144.29,393.37 1146.19,393.37 1146.19,393.33 1148.09,393.33 1148.09,393.36 1149.99,393.36 1149.99,393.2 1151.89,393.2 1151.89,393.31 1153.79,393.31 1153.79,393.03 1155.7,393.03 1155.7,393.03 1157.6,393.03 1157.6,393.2 1159.5,393.2 1159.5,392.91 1161.4,392.91 1161.4,392.89 1163.3,392.89 1163.3,392.9 1165.2,392.9 1165.2,395.5" fill="url(#stripe1)" />
<polygon points="773.4,435.8 773.4,435.27 775.3,435.27 775.3,435.07 777.2,435.07 777.2,435.02 779.11,435.02 779.11,434.8 781.01,434.8 781.01,434.75 782.91,434.75 782.91,434.61 784.81,434.61 784.81,434.51 786.71,434.51 786.71,434.26 788.62,434.26 788.62,434.16 790.52,434.16 790.52,434.23 792.42,434.23 792.42,434.05 794.32,434.05 794.32,433.85 796.22,433.85 796.22,433.35 798.13,433.35 798.13,432.96 800.03,432.96 800.03,431.87 801.93,431.87 801.93,431.48 803.83,431.48 803.83,430.82 805.73,430.82 805.73,429.79 807.63,429.79 807.63,429.44 809.54,429.44 809.54,428.25 811.44,428.25 811.44,427.59 813.34,427.59 813.34,428.21 815.24,428.21 815.24,428.58 817.14,428.58 817.14,428.33 819.05,428.33 819.05,429.1 820.95,429.1 820.95,428.6 822.85,428.6 822.85,429.21 824.75,429.21 824.75,430.23 826.65,430.23 826.65,431.02 828.56,431.02 828.56,431.67 830.46,431.67 830.46,432.58 832.36,432.58 832.36,433.26 834.26,433.26 834.26,433.27 836.16,433.27 836.16,433.31 838.07,433.31 838.07,433.43 839.97,433.43 839.97,433.49 841.87,433.49 841.87,433.7 843.77,433.7 843.77,433.71 845.67,433.71 845.67,433.98 847.58,433.98 847.58,434.06 849.48,434.06 849.48,434.22 851.38,434.22 851.38,434.26 853.28,434.26 853.28,434.42 855.18,434.42 855.18,434.58 857.09,434.58 857.09,434.52 858.99,434.52 858.99,434.48 860.89,434.48 860.89,434.58 862.79,434.58 862.79,434.54 864.69,434.54 864.69,434.57 866.6,434.57 866.6,434.67 868.5,434.67 868.5,434.68 870.4,434.68 870.4,434.55 872.3,434.55 872.3,434.67 874.2,434.67 874.2,434.57 876.1,434.57 876.1,434.61 878.01,434.61 878.01,434.69 879.91,434.69 879.91,434.71 881.81,434.71 881.81,434.7 883.71,434.7 883.71,434.67 885.61,434.67 885.61,434.79 887.52,434.79 887.52,434.79 889.42,434.79 889.42,434.8 891.32,434.8 891.32,434.78 893.22,434.78 893.22,434.78 895.12,434.78 895.12,434.85 897.03,434.85 897.03,434.87 898.93,434.87 898.93,434.79 900.83,434.79 900.83,434.9 902.73,434.9 902.73,434.92 904.63,434.92 904.63,434.83 906.54,434.83 906.54,434.86 908.44,434.86 908.44,434.92 910.34,434.92 910.34,434.9 912.24,434.9 912.24,434.95 914.14,434.95 914.14,435.01 916.05,435.01 916.05,435.01 917.95,435.01 917.95,435 919.85,435 919.85,434.98 921.75,434.98 921.75,434.96 923.65,434.96 923.65,434.96 925.56,434.96 925.56,434.98 927.46,434.98 927.46,434.93 929.36,434.93 929.36,434.83 931.26,434.83 931.26,434.87 933.16,434.87 933.16,434.9 935.07,434.9 935.07,434.84 936.97,434.84 936.97,434.83 938.87,434.83 938.87,434.77 940.77,434.77 940.77,434.75 942.67,434.75 942.67,434.74 944.57,434.74 944.57,434.67 946.48,434.67 946.48,434.73 948.38,434.73 948.38,434.64 950.28,434.64 950.28,434.63 952.18,434.63 952.18,434.61 954.08,434.61 954.08,434.58 955.99,434.58 955.99,434.55 957.89,434.55 957.89,434.61 959.79,434.61 959.79,434.64 961.69,434.64 961.69,434.6 963.59,434.6 963.59,434.6 965.5,434.6 965.5,434.47 967.4,434.47 967.4,434.43 969.3,434.43 969.3,434.41 971.2,434.41 971.2,434.53 973.1,434.53 973.1,434.38 975.01,434.38 975.01,434.4 976.91,434.4 976.91,434.34 978.81,434.34 978.81,434.3 980.71,434.3 980.71,434.4 982.61,434.4 982.61,434.38 984.52,434.38 984.52,434.29 986.42,434.29 986.42,434.17 988.32,434.17 988.32,434.29 990.22,434.29 990.22,434.08 992.12,434.08 992.12,434.21 994.03,434.21 994.03,433.99 995.93,433.99 995.93,434.2 997.83,434.2 997.83,434.15 999.73,434.15 999.73,433.93 1001.63,433.93 1001.63,433.89 1003.53,433.89 1003.53,433.94 1005.44,433.94 1005.44,433.92 1007.34,433.92 1007.34,433.96 1009.24,433.96 1009.24,433.94 1011.14,433.94 1011.14,433.92 1013.04,433.92 1013.04,433.87 1014.95,433.87 1014.95,433.76 1016.85,433.76 1016.85,433.42 1018.75,433.42 1018.75,433.36 1020.65,433.36 1020.65,432.85 1022.55,432.85 1022.55,432.63 1024.46,432.63 1024.46,432.22 1026.36,432.22 1026.36,432.02 1028.26,432.02 1028.26,431.62 1030.16,431.62 1030.16,431.84 1032.06,431.84 1032.06,431.17 1033.97,431.17 1033.97,430.93 1035.87,430.93 1035.87,430.6 1037.77,430.6 1037.77,430.15 1039.67,430.15 1039.67,430.21 1041.57,430.21 1041.57,429.68 1043.48,429.68 1043.48,429.45 1045.38,429.45 1045.38,428.9 1047.28,428.9 1047.28,427.98 1049.18,427.98 1049.18,428 1051.08,428 1051.08,427.62 1052.99,427.62 1052.99,426.42 1054.89,426.42 1054.89,425.3 1056.79,425.3 1056.79,423.48 1058.69,423.48 1058.69,423.07 1060.59,423.07 1060.59,421.26 1062.5,421.26 1062.5,420.51 1064.4,420.51 1064.4,417.24 1066.3,417.24 1066.3,417.01 1068.2,417.01 1068.2,414.06 1070.1,414.06 1070.1,412.68 1072,412.68 1072,408.86 1073.91,408.86 1073.91,407.74 1075.81,407.74 1075.81,405.21 1077.71,405.21 1077.71,403.98 1079.61,403.98 1079.61,401.35 1081.51,401.35 1081.51,400.82 1083.42,400.82 1083.42,401.99 1085.32,401.99 1085.32,398.45 1087.22,398.45 1087.22,403.73 1089.12,403.73 1089.12,404.41 1091.02,404.41 1091.02,405.57 1092.93,405.57 1092.93,410.41 1094.83,410.41 1094.83,411.89 1096.73,411.89 1096.73,412.52 1098.63,412.52 1098.63,417.63 1100.53,417.63 1100.53,419.48 1102.44,419.48 1102.44,422.3 1104.34,422.3 1104.34,423.91 1106.24,423.91 1106.24,425.33 1108.14,425.33 1108.14,426.18 1110.04,426.18 1110.04,427.21 1111.95,427.21 1111.95,428.38 1113.85,428.38 1113.85,429.38 1115.75,429.38 1115.75,430.46 1117.65,430.46 1117.65,430.35 1119.55,430.35 1119.55,430.47 1121.46,430.47 1121.46,431.25 1123.36,431.25 1123.36,431.13 1125.26,431.13 1125.26,431.8 1127.16,431.8 1127.16,431.74 1129.06,431.74 1129.06,432.09 1130.97,432.09 1130.97,432.32 1132.87,432.32 1132.87,432.87 1134.77,432.87 1134.77,433.02 1136.67,433.02 1136.67,433.23 1138.57,433.23 1138.57,433.21 1140.47,433.21 1140.47,433.04 1142.38,433.04 1142.38,433.09 1144.28,433.09 1144.28,433.42 1146.18,433.42 1146.18,433.29 1148.08,433.29 1148.08,433.51 1149.98,433.51 1149.98,433.61 1151.89,433.61 1151.89,433.37 1153.79,433.37 1153.79,433.4 1155.69,433.4 1155.69,433.55 1157.59,433.55 1157.59,433.73 1159.49,433.73 1159.49,433.53 1161.4,433.53 1161.4,433.6 1163.3,433.6 1163.3,433.88 1165.2,433.88 1165.2,435.8" fill="#a9d07c" />
<polygon points="773.4,435.8 773.4,435.27 775.3,435.27 775.3,435.07 777.2,435.07 777.2,435.02 779.11,435.02 779.11,434.8 781.01,434.8 781.01,434.75 782.91,434.75 782.91,434.61 784.81,434.61 784.81,434.51 786.71,434.51 786.71,434.26 788.62,434.26 788.62,434.16 790.52,434.16 790.52,434.23 792.42,434.23 792.42,434.05 794.32,434.05 794.32,433.85 796.22,433.85 796.22,433.35 798.13,433.35 798.13,432.96 800.03,432.96 800.03,431.87 801.93,431.87 801.93,431.48 803.83,431.48 803.83,430.82 805.73,430.82 805.73,429.79 807.63,429.79 807.63,429.44 809.54,429.44 809.54,428.25 811.44,428.25 811.44,427.59 813.34,427.59 813.34,428.21 815.24,428.21 815.24,428.58 817.14,428.58 817.14,428.33 819.05,428.33 819.05,429.1 820.95,429.1 820.95,428.6 822.85,428.6 822.85,429.21 824.75,429.21 824.75,430.23 826.65,430.23 826.65,431.02 828.56,431.02 828.56,431.67 830.46,431.67 830.46,432.58 832.36,432.58 832.36,433.26 834.26,433.26 834.26,433.27 836.16,433.27 836.16,433.31 838.07,433.31 838.07,433.43 839.97,433.43 839.97,433.49 841.87,433.49 841.87,433.7 843.77,433.7 843.77,433.71 845.67,433.71 845.67,433.98 847.58,433.98 847.58,434.06 849.48,434.06 849.48,434.22 851.38,434.22 851.38,434.26 853.28,434.26 853.28,434.42 855.18,434.42 855.18,434.58 857.09,434.58 857.09,434.52 858.99,434.52 858.99,434.48 860.89,434.48 860.89,434.58 862.79,434.58 862.79,434.54 864.69,434.54 864.69,434.57 866.6,434.57 866.6,434.67 868.5,434.67 868.5,434.68 870.4,434.68 870.4,434.55 872.3,434.55 872.3,434.67 874.2,434.67 874.2,434.57 876.1,434.57 876.1,434.61 878.01,434.61 878.01,434.69 879.91,434.69 879.91,434.71 881.81,434.71 881.81,434.7 883.71,434.7 883.71,434.67 885.61,434.67 885.61,434.79 887.52,434.79 887.52,434.79 889.42,434.79 889.42,434.8 891.32,434.8 891.32,434.78 893.22,434.78 893.22,434.78 895.12,434.78 895.12,434.85 897.03,434.85 897.03,434.87 898.93,434.87 898.93,434.79 900.83,434.79 900.83,434.9 902.73,434.9 902.73,434.92 904.63,434.92 904.63,434.83 906.54,434.83 906.54,434.86 908.44,434.86 908.44,434.92 910.34,434.92 910.34,434.9 912.24,434.9 912.24,434.95 914.14,434.95 914.14,435.01 916.05,435.01 916.05,435.01 917.95,435.01 917.95,435 919.85,435 919.85,434.98 921.75,434.98 921.75,434.96 923.65,434.96 923.65,434.96 925.56,434.96 925.56,434.98 927.46,434.98 927.46,434.93 929.36,434.93 929.36,434.83 931.26,434.83 931.26,434.87 933.16,434.87 933.16,434.9 935.07,434.9 935.07,434.84 936.97,434.84 936.97,434.83 938.87,434.83 938.87,434.77 940.77,434.77 940.77,434.75 942.67,434.75 942.67,434.74 944.57,434.74 944.57,434.67 946.48,434.67 946.48,434.73 948.38,434.73 948.38,434.64 950.28,434.64 950.28,434.63 952.18,434.63 952.18,434.61 954.08,434.61 954.08,434.58 955.99,434.58 955.99,434.55 957.89,434.55 957.89,434.61 959.79,434.61 959.79,434.64 961.69,434.64 961.69,434.6 963.59,434.6 963.59,434.6 965.5,434.6 965.5,434.47 967.4,434.47 967.4,434.43 969.3,434.43 969.3,434.41 971.2,434.41 971.2,434.53 973.1,434.53 973.1,434.38 975.01,434.38 975.01,434.4 976.91,434.4 976.91,434.34 978.81,434.34 978.81,434.3 980.71,434.3 980.71,434.4 982.61,434.4 982.61,434.38 984.52,434.38 984.52,434.29 986.42,434.29 986.42,434.17 988.32,434.17 988.32,434.29 990.22,434.29 990.22,434.08 992.12,434.08 992.12,434.21 994.03,434.21 994.03,433.99 995.93,433.99 995.93,434.2 997.83,434.2 997.83,434.15 999.73,434.15 999.73,433.93 1001.63,433.93 1001.63,433.89 1003.53,433.89 1003.53,433.94 1005.44,433.94 1005.44,433.92 1007.34,433.92 1007.34,433.96 1009.24,433.96 1009.24,433.94 1011.14,433.94 1011.14,433.92 1013.04,433.92 1013.04,433.87 1014.95,433.87 1014.95,433.76 1016.85,433.76 1016.85,433.42 1018.75,433.42 1018.75,433.36 1020.65,433.36 1020.65,432.85 1022.55,432.85 1022.55,432.63 1024.46,432.63 1024.46,432.22 1026.36,432.22 1026.36,432.02 1028.26,432.02 1028.26,431.62 1030.16,431.62 1030.16,431.84 1032.06,431.84 1032.06,431.17 1033.97,431.17 1033.97,430.93 1035.87,430.93 1035.87,430.6 1037.77,430.6 1037.77,430.15 1039.67,430.15 1039.67,430.21 1041.57,430.21 1041.57,429.68 1043.48,429.68 1043.48,429.45 1045.38,429.45 1045.38,428.9 1047.28,428.9 1047.28,427.98 1049.18,427.98 1049.18,428 1051.08,428 1051.08,427.62 1052.99,427.62 1052.99,426.42 1054.89,426.42 1054.89,425.3 1056.79,425.3 1056.79,423.48 1058.69,423.48 1058.69,423.07 1060.59,423.07 1060.59,421.26 1062.5,421.26 1062.5,420.51 1064.4,420.51 1064.4,417.24 1066.3,417.24 1066.3,417.01 1068.2,417.01 1068.2,414.06 1070.1,414.06 1070.1,412.68 1072,412.68 1072,408.86 1073.91,408.86 1073.91,407.74 1075.81,407.74 1075.81,405.21 1077.71,405.21 1077.71,403.98 1079.61,403.98 1079.61,401.35 1081.51,401.35 1081.51,400.82 1083.42,400.82 1083.42,401.99 1085.32,401.99 1085.32,398.45 1087.22,398.45 1087.22,403.73 1089.12,403.73 1089.12,404.41 1091.02,404.41 1091.02,405.57 1092.93,405.57 1092.93,410.41 1094.83,410.41 1094.83,411.89 1096.73,411.89 1096.73,412.52 1098.63,412.52 1098.63,417.63 1100.53,417.63 1100.53,419.48 1102.44,419.48 1102.44,422.3 1104.34,422.3 1104.34,423.91 1106.24,423.91 1106.24,425.33 1108.14,425.33 1108.14,426.18 1110.04,426.18 1110.04,427.21 1111.95,427.21 1111.95,428.38 1113.85,428.38 1113.85,429.38 1115.75,429.38 1115.75,430.46 1117.65,430.46 1117.65,430.35 1119.55,430.35 1119.55,430.47 1121.46,430.47 1121.46,431.25 1123.36,431.25 1123.36,431.13 1125.26,431.13 1125.26,431.8 1127.16,431.8 1127.16,431.74 1129.06,431.74 1129.06,432.09 1130.97,432.09 1130.97,432.32 1132.87,432.32 1132.87,432.87 1134.77,432.87 1134.77,433.02 1136.67,433.02 1136.67,433.23 1138.57,433.23 1138.57,433.21 1140.47,433.21 1140.47,433.04 1142.38,433.04 1142.38,433.09 1144.28,433.09 1144.28,433.42 1146.18,433.42 1146.18,433.29 1148.08,433.29 1148.08,433.51 1149.98,433.51 1149.98,433.61 1151.89,433.61 1151.89,433.37 1153.79,433.37 1153.79,433.4 1155.69,433.4 1155.69,433.55 1157.59,433.55 1157.59,433.73 1159.49,433.73 1159.49,433.53 1161.4,433.53 1161.4,433.6 1163.3,433.6 1163.3,433.88 1165.2,433.88 1165.2,435.8" fill="url(#stripe1)" />
<polygon points="773.4,476.6 773.4,472.36 775.3,472.36 775.3,472.53 777.21,472.53 777.21,472.79 779.11,472.79 779.11,472.82 781.02,472.82 781.02,473 782.92,473 782.92,473.68 784.82,473.68 784.82,473.06 786.73,473.06 786.73,472.81 788.63,472.81 788.63,472.52 790.54,472.52 790.54,471.82 792.44,471.82 792.44,471.79 794.34,471.79 794.34,471.68 796.25,471.68 796.25,470.45 798.15,470.45 798.15,469.86 800.06,469.86 800.06,470.1 801.96,470.1 801.96,468.85 803.86,468.85 803.86,468.15 805.77,468.15 805.77,467.62 807.67,467.62 807.67,466.98 809.57,466.98 809.57,466.83 811.48,466.83 811.48,466.03 813.38,466.03 813.38,465.47 815.29,465.47 815.29,463.85 817.19,463.85 817.19,463.23 819.09,463.23 819.09,462.33 821,462.33 821,462.2 822.9,462.2 822.9,462.23 824.81,462.23 824.81,461.62 826.71,461.62 826.71,462.57 828.61,462.57 828.61,461.88 830.52,461.88 830.52,461.22 832.42,461.22 832.42,461.92 834.33,461.92 834.33,462.39 836.23,462.39 836.23,463.84 838.13,463.84 838.13,465.42 840.04,465.42 840.04,466.2 841.94,466.2 841.94,466.47 843.85,466.47 843.85,467.77 845.75,467.77 845.75,469.72 847.65,469.72 847.65,471.05 849.56,471.05 849.56,472.27 851.46,472.27 851.46,473.01 853.37,473.01 853.37,474.39 855.27,474.39 855.27,475.36 857.17,475.36 857.17,475.39 859.08,475.39 859.08,475.22 860.98,475.22 860.98,475.27 862.88,475.27 862.88,475.16 864.79,475.16 864.79,475.17 866.69,475.17 866.69,475.11 868.6,475.11 868.6,474.9 870.5,474.9 870.5,475.08 872.4,475.08 872.4,474.81 874.31,474.81 874.31,474.86 876.21,474.86 876.21,474.8 878.12,474.8 878.12,474.79 880.02,474.79 880.02,474.62 881.92,474.62 881.92,474.09 883.83,474.09 883.83,473.58 885.73,473.58 885.73,473.24 887.64,473.24 887.64,472.51 889.54,472.51 889.54,472.16 891.44,472.16 891.44,472.53 893.35,472.53 893.35,472.86 895.25,472.86 895.25,473.53 897.16,473.53 897.16,473.51 899.06,473.51 899.06,473.92 900.96,473.92 900.96,474.41 902.87,474.41 902.87,474.56 904.77,474.56 904.77,474.85 906.68,474.85 906.68,474.79 908.58,474.79 908.58,474.99 910.48,474.99 910.48,475.13 912.39,475.13 912.39,475.17 914.29,475.17 914.29,475.2 916.19,475.2 916.19,475.39 918.1,475.39 918.1,475.25 920,475.25 920,475.11 921.91,475.11 921.91,474.69 923.81,474.69 923.81,474.62 925.71,474.62 925.71,474.08 927.62,474.08 927.62,473.79 929.52,473.79 929.52,473.74 931.43,473.74 931.43,473.37 933.33,473.37 933.33,473.36 935.23,473.36 935.23,472.61 937.14,472.61 937.14,472.7 939.04,472.7 939.04,472.26 940.95,472.26 940.95,472.92 942.85,472.92 942.85,473.38 944.75,473.38 944.75,473.4 946.66,473.4 946.66,472.73 948.56,472.73 948.56,472.82 950.47,472.82 950.47,472.42 952.37,472.42 952.37,471.91 954.27,471.91 954.27,472.13 956.18,472.13 956.18,471.46 958.08,471.46 958.08,471.18 959.99,471.18 959.99,471.3 961.89,471.3 961.89,470.98 963.79,470.98 963.79,470.99 965.7,470.99 965.7,470.64 967.6,470.64 967.6,470.16 969.51,470.16 969.51,469.52 971.41,469.52 971.41,469.75 973.31,469.75 973.31,468.75 975.22,468.75 975.22,469.21 977.12,469.21 977.12,468.93 979.02,468.93 979.02,469.26 980.93,469.26 980.93,470.33 982.83,470.33 982.83,470.85 984.74,470.85 984.74,471.22 986.64,471.22 986.64,471.77 988.54,471.77 988.54,472.77 990.45,472.77 990.45,473.46 992.35,473.46 992.35,473.41 994.26,473.41 994.26,473.04 996.16,473.04 996.16,472.76 998.06,472.76 998.06,472.42 999.97,472.42 999.97,472.15 1001.87,472.15 1001.87,471.38 1003.78,471.38 1003.78,471.07 1005.68,471.07 1005.68,470.72 1007.58,470.72 1007.58,471.12 1009.49,471.12 1009.49,471.45 1011.39,471.45 1011.39,471.98 1013.3,471.98 1013.3,472.16 1015.2,472.16 1015.2,471.82 1017.1,471.82 1017.1,472.19 1019.01,472.19 1019.01,472.41 1020.91,472.41 1020.91,472.77 1022.82,472.77 1022.82,472.89 1024.72,472.89 1024.72,472.78 1026.62,472.78 1026.62,473.16 1028.53,473.16 1028.53,473.19 1030.43,473.19 1030.43,472.91 1032.33,472.91 1032.33,471.21 1034.24,471.21 1034.24,468.66 1036.14,468.66 1036.14,466.83 1038.05,466.83 1038.05,464.28 1039.95,464.28 1039.95,463.57 1041.85,463.57 1041.85,461.35 1043.76,461.35 1043.76,459.58 1045.66,459.58 1045.66,456.21 1047.57,456.21 1047.57,454.93 1049.47,454.93 1049.47,453.96 1051.37,453.96 1051.37,450.32 1053.28,450.32 1053.28,450.12 1055.18,450.12 1055.18,447.82 1057.09,447.82 1057.09,442.68 1058.99,442.68 1058.99,445.93 1060.89,445.93 1060.89,447.04 1062.8,447.04 1062.8,447.77 1064.7,447.77 1064.7,446.9 1066.61,446.9 1066.61,448.6 1068.51,448.6 1068.51,447.25 1070.41,447.25 1070.41,442.7 1072.32,442.7 1072.32,442.38 1074.22,442.38 1074.22,440.01 1076.13,440.01 1076.13,441.84 1078.03,441.84 1078.03,443.9 1079.93,443.9 1079.93,447.04 1081.84,447.04 1081.84,446.06 1083.74,446.06 1083.74,449.22 1085.64,449.22 1085.64,448.99 1087.55,448.99 1087.55,451.3 1089.45,451.3 1089.45,453.75 1091.36,453.75 1091.36,457.09 1093.26,457.09 1093.26,460.22 1095.16,460.22 1095.16,463.47 1097.07,463.47 1097.07,465.41 1098.97,465.41 1098.97,468.52 1100.88,468.52 1100.88,469.16 1102.78,469.16 1102.78,470.74 1104.68,470.74 1104.68,471.97 1106.59,471.97 1106.59,473.5 1108.49,473.5 1108.49,474.49 1110.4,474.49 1110.4,475.64 1112.3,475.64 1112.3,476.6" fill="#e6dc2e" />
<polygon points="773.4,476.6 773.4,472.36 775.3,472.36 775.3,472.53 777.21,472.53 777.21,472.79 779.11,472.79 779.11,472.82 781.02,472.82 781.02,473 782.92,473 782.92,473.68 784.82,473.68 784.82,473.06 786.73,473.06 786.73,472.81 788.63,472.81 788.63,472.52 790.54,472.52 790.54,471.82 792.44,471.82 792.44,471.79 794.34,471.79 794.34,471.68 796.25,471.68 796.25,470.45 798.15,470.45 798.15,469.86 800.06,469.86 800.06,470.1 801.96,470.1 801.96,468.85 803.86,468.85 803.86,468.15 805.77,468.15 805.77,467.62 807.67,467.62 807.67,466.98 809.57,466.98 809.57,466.83 811.48,466.83 811.48,466.03 813.38,466.03 813.38,465.47 815.29,465.47 815.29,463.85 817.19,463.85 817.19,463.23 819.09,463.23 819.09,462.33 821,462.33 821,462.2 822.9,462.2 822.9,462.23 824.81,462.23 824.81,461.62 826.71,461.62 826.71,462.57 828.61,462.57 828.61,461.88 830.52,461.88 830.52,461.22 832.42,461.22 832.42,461.92 834.33,461.92 834.33,462.39 836.23,462.39 836.23,463.84 838.13,463.84 838.13,465.42 840.04,465.42 840.04,466.2 841.94,466.2 841.94,466.47 843.85,466.47 843.85,467.77 845.75,467.77 845.75,469.72 847.65,469.72 847.65,471.05 849.56,471.05 849.56,472.27 851.46,472.27 851.46,473.01 853.37,473.01 853.37,474.39 855.27,474.39 855.27,475.36 857.17,475.36 857.17,475.39 859.08,475.39 859.08,475.22 860.98,475.22 860.98,475.27 862.88,475.27 862.88,475.16 864.79,475.16 864.79,475.17 866.69,475.17 866.69,475.11 868.6,475.11 868.6,474.9 870.5,474.9 870.5,475.08 872.4,475.08 872.4,474.81 874.31,474.81 874.31,474.86 876.21,474.86 876.21,474.8 878.12,474.8 878.12,474.79 880.02,474.79 880.02,474.62 881.92,474.62 881.92,474.09 883.83,474.09 883.83,473.58 885.73,473.58 885.73,473.24 887.64,473.24 887.64,472.51 889.54,472.51 889.54,472.16 891.44,472.16 891.44,472.53 893.35,472.53 893.35,472.86 895.25,472.86 895.25,473.53 897.16,473.53 897.16,473.51 899.06,473.51 899.06,473.92 900.96,473.92 900.96,474.41 902.87,474.41 902.87,474.56 904.77,474.56 904.77,474.85 906.68,474.85 906.68,474.79 908.58,474.79 908.58,474.99 910.48,474.99 910.48,475.13 912.39,475.13 912.39,475.17 914.29,475.17 914.29,475.2 916.19,475.2 916.19,475.39 918.1,475.39 918.1,475.25 920,475.25 920,475.11 921.91,475.11 921.91,474.69 923.81,474.69 923.81,474.62 925.71,474.62 925.71,474.08 927.62,474.08 927.62,473.79 929.52,473.79 929.52,473.74 931.43,473.74 931.43,473.37 933.33,473.37 933.33,473.36 935.23,473.36 935.23,472.61 937.14,472.61 937.14,472.7 939.04,472.7 939.04,472.26 940.95,472.26 940.95,472.92 942.85,472.92 942.85,473.38 944.75,473.38 944.75,473.4 946.66,473.4 946.66,472.73 948.56,472.73 948.56,472.82 950.47,472.82 950.47,472.42 952.37,472.42 952.37,471.91 954.27,471.91 954.27,472.13 956.18,472.13 956.18,471.46 958.08,471.46 958.08,471.18 959.99,471.18 959.99,471.3 961.89,471.3 961.89,470.98 963.79,470.98 963.79,470.99 965.7,470.99 965.7,470.64 967.6,470.64 967.6,470.16 969.51,470.16 969.51,469.52 971.41,469.52 971.41,469.75 973.31,469.75 973.31,468.75 975.22,468.75 975.22,469.21 977.12,469.21 977.12,468.93 979.02,468.93 979.02,469.26 980.93,469.26 980.93,470.33 982.83,470.33 982.83,470.85 984.74,470.85 984.74,471.22 986.64,471.22 986.64,471.77 988.54,471.77 988.54,472.77 990.45,472.77 990.45,473.46 992.35,473.46 992.35,473.41 994.26,473.41 994.26,473.04 996.16,473.04 996.16,472.76 998.06,472.76 998.06,472.42 999.97,472.42 999.97,472.15 1001.87,472.15 1001.87,471.38 1003.78,471.38 1003.78,471.07 1005.68,471.07 1005.68,470.72 1007.58,470.72 1007.58,471.12 1009.49,471.12 1009.49,471.45 1011.39,471.45 1011.39,471.98 1013.3,471.98 1013.3,472.16 1015.2,472.16 1015.2,471.82 1017.1,471.82 1017.1,472.19 1019.01,472.19 1019.01,472.41 1020.91,472.41 1020.91,472.77 1022.82,472.77 1022.82,472.89 1024.72,472.89 1024.72,472.78 1026.62,472.78 1026.62,473.16 1028.53,473.16 1028.53,473.19 1030.43,473.19 1030.43,472.91 1032.33,472.91 1032.33,471.21 1034.24,471.21 1034.24,468.66 1036.14,468.66 1036.14,466.83 1038.05,466.83 1038.05,464.28 1039.95,464.28 1039.95,463.57 1041.85,463.57 1041.85,461.35 1043.76,461.35 1043.76,459.58 1045.66,459.58 1045.66,456.21 1047.57,456.21 1047.57,454.93 1049.47,454.93 1049.47,453.96 1051.37,453.96 1051.37,450.32 1053.28,450.32 1053.28,450.12 1055.18,450.12 1055.18,447.82 1057.09,447.82 1057.09,442.68 1058.99,442.68 1058.99,445.93 1060.89,445.93 1060.89,447.04 1062.8,447.04 1062.8,447.77 1064.7,447.77 1064.7,446.9 1066.61,446.9 1066.61,448.6 1068.51,448.6 1068.51,447.25 1070.41,447.25 1070.41,442.7 1072.32,442.7 1072.32,442.38 1074.22,442.38 1074.22,440.01 1076.13,440.01 1076.13,441.84 1078.03,441.84 1078.03,443.9 1079.93,443.9 1079.93,447.04 1081.84,447.04 1081.84,446.06 1083.74,446.06 1083.74,449.22 1085.64,449.22 1085.64,448.99 1087.55,448.99 1087.55,451.3 1089.45,451.3 1089.45,453.75 1091.36,453.75 1091.36,457.09 1093.26,457.09 1093.26,460.22 1095.16,460.22 1095.16,463.47 1097.07,463.47 1097.07,465.41 1098.97,465.41 1098.97,468.52 1100.88,468.52 1100.88,469.16 1102.78,469.16 1102.78,470.74 1104.68,470.74 1104.68,471.97 1106.59,471.97 1106.59,473.5 1108.49,473.5 1108.49,474.49 1110.4,474.49 1110.4,475.64 1112.3,475.64 1112.3,476.6" fill="url(#stripe1)" />
<polygon points="1126.7,476.6 1126.7,476.1 1128.62,476.1 1128.62,475.77 1130.55,475.77 1130.55,475.28 1132.48,475.28 1132.48,475.05 1134.4,475.05 1134.4,474.72 1136.33,474.72 1136.33,474.4 1138.25,474.4 1138.25,473.7 1140.17,473.7 1140.17,473.38 1142.1,473.38 1142.1,473.14 1144.03,473.14 1144.03,472.29 1145.95,472.29 1145.95,471.75 1147.88,471.75 1147.88,470.9 1149.8,470.9 1149.8,470.62 1151.73,470.62 1151.73,470.17 1153.65,470.17 1153.65,469.57 1155.58,469.57 1155.58,469.36 1157.5,469.36 1157.5,468.49 1159.42,468.49 1159.42,467.84 1161.35,467.84 1161.35,467.61 1163.28,467.61 1163.28,467.29 1165.2,467.29 1165.2,476.6" fill="#e6dc2e" />
<polygon points="1126.7,476.6 1126.7,476.1 1128.62,476.1 1128.62,475.77 1130.55,475.77 1130.55,475.28 1132.48,475.28 1132.48,475.05 1134.4,475.05 1134.4,474.72 1136.33,474.72 1136.33,474.4 1138.25,474.4 1138.25,473.7 1140.17,473.7 1140.17,473.38 1142.1,473.38 1142.1,473.14 1144.03,473.14 1144.03,472.29 1145.95,472.29 1145.95,471.75 1147.88,471.75 1147.88,470.9 1149.8,470.9 1149.8,470.62 1151.73,470.62 1151.73,470.17 1153.65,470.17 1153.65,469.57 1155.58,469.57 1155.58,469.36 1157.5,469.36 1157.5,468.49 1159.42,468.49 1159.42,467.84 1161.35,467.84 1161.35,467.61 1163.28,467.61 1163.28,467.29 1165.2,467.29 1165.2,476.6" fill="url(#stripe1)" />
<polygon points="773.4,517 773.4,510.11 775.3,510.11 775.3,510.19 777.2,510.19 777.2,508.96 779.11,508.96 779.11,508.47 781.01,508.47 781.01,507.51 782.91,507.51 782.91,507.78 784.81,507.78 784.81,506.34 786.71,506.34 786.71,506.95 788.62,506.95 788.62,505.75 790.52,505.75 790.52,505.48 792.42,505.48 792.42,503.66 794.32,503.66 794.32,504.2 796.22,504.2 796.22,503.62 798.13,503.62 798.13,502.86 800.03,502.86 800.03,500.56 801.93,500.56 801.93,499.38 803.83,499.38 803.83,499.87 805.73,499.87 805.73,500.13 807.63,500.13 807.63,498.1 809.54,498.1 809.54,497.28 811.44,497.28 811.44,498.81 813.34,498.81 813.34,496.55 815.24,496.55 815.24,497.25 817.14,497.25 817.14,496.41 819.05,496.41 819.05,496.82 820.95,496.82 820.95,495.5 822.85,495.5 822.85,496.9 824.75,496.9 824.75,495.16 826.65,495.16 826.65,494.7 828.56,494.7 828.56,496.36 830.46,496.36 830.46,496.43 832.36,496.43 832.36,498.27 834.26,498.27 834.26,499.69 836.16,499.69 836.16,498.39 838.07,498.39 838.07,500.83 839.97,500.83 839.97,501.74 841.87,501.74 841.87,501.75 843.77,501.75 843.77,502.12 845.67,502.12 845.67,503.9 847.58,503.9 847.58,506.11 849.48,506.11 849.48,507.4 851.38,507.4 851.38,507.95 853.28,507.95 853.28,509.15 855.18,509.15 855.18,509.02 857.09,509.02 857.09,509.76 858.99,509.76 858.99,509.6 860.89,509.6 860.89,510.45 862.79,510.45 862.79,511.06 864.69,511.06 864.69,511.67 866.6,511.67 866.6,511.38 868.5,511.38 868.5,511.49 870.4,511.49 870.4,511.47 872.3,511.47 872.3,510.66 874.2,510.66 874.2,510.57 876.1,510.57 876.1,510.17 878.01,510.17 878.01,508.82 879.91,508.82 879.91,509.12 881.81,509.12 881.81,507.82 883.71,507.82 883.71,507.98 885.61,507.98 885.61,507.77 887.52,507.77 887.52,507.75 889.42,507.75 889.42,508.05 891.32,508.05 891.32,509.41 893.22,509.41 893.22,509.47 895.12,509.47 895.12,510.71 897.03,510.71 897.03,511.91 898.93,511.91 898.93,512.3 900.83,512.3 900.83,513.06 902.73,513.06 902.73,513.77 904.63,513.77 904.63,513.56 906.54,513.56 906.54,512.5 908.44,512.5 908.44,512.01 910.34,512.01 910.34,511.29 912.24,511.29 912.24,510.28 914.14,510.28 914.14,509.05 916.05,509.05 916.05,507.44 917.95,507.44 917.95,507.5 919.85,507.5 919.85,504.58 921.75,504.58 921.75,501.3 923.65,501.3 923.65,499.82 925.56,499.82 925.56,495.86 927.46,495.86 927.46,494.72 929.36,494.72 929.36,495.42 931.26,495.42 931.26,495.56 933.16,495.56 933.16,495.85 935.07,495.85 935.07,495.16 936.97,495.16 936.97,494.4 938.87,494.4 938.87,496.08 940.77,496.08 940.77,495.19 942.67,495.19 942.67,495.87 944.57,495.87 944.57,497.54 946.48,497.54 946.48,497.14 948.38,497.14 948.38,499.68 950.28,499.68 950.28,499.15 952.18,499.15 952.18,500.88 954.08,500.88 954.08,501.2 955.99,501.2 955.99,501.89 957.89,501.89 957.89,500.59 959.79,500.59 959.79,502.05 961.69,502.05 961.69,503.87 963.59,503.87 963.59,504.3 965.5,504.3 965.5,504.63 967.4,504.63 967.4,504.28 969.3,504.28 969.3,505.6 971.2,505.6 971.2,504.54 973.1,504.54 973.1,504.33 975.01,504.33 975.01,504.78 976.91,504.78 976.91,505.12 978.81,505.12 978.81,505.77 980.71,505.77 980.71,504.62 982.61,504.62 982.61,505.27 984.52,505.27 984.52,504.76 986.42,504.76 986.42,505.02 988.32,505.02 988.32,505.35 990.22,505.35 990.22,506.5 992.12,506.5 992.12,505.74 994.03,505.74 994.03,506.79 995.93,506.79 995.93,505.93 997.83,505.93 997.83,507.95 999.73,507.95 999.73,508.3 1001.63,508.3 1001.63,508.06 1003.53,508.06 1003.53,509.36 1005.44,509.36 1005.44,509.45 1007.34,509.45 1007.34,510.81 1009.24,510.81 1009.24,510.67 1011.14,510.67 1011.14,511.34 1013.04,511.34 1013.04,512.46 1014.95,512.46 1014.95,513.25 1016.85,513.25 1016.85,512.83 1018.75,512.83 1018.75,513.03 1020.65,513.03 1020.65,512.65 1022.55,512.65 1022.55,512.13 1024.46,512.13 1024.46,512.1 1026.36,512.1 1026.36,511.96 1028.26,511.96 1028.26,510.85 1030.16,510.85 1030.16,507.95 1032.06,507.95 1032.06,504.85 1033.97,504.85 1033.97,503.3 1035.87,503.3 1035.87,499.16 1037.77,499.16 1037.77,497.84 1039.67,497.84 1039.67,494 1041.57,494 1041.57,493.71 1043.48,493.71 1043.48,488.24 1045.38,488.24 1045.38,486.8 1047.28,486.8 1047.28,487.96 1049.18,487.96 1049.18,486.85 1051.08,486.85 1051.08,486.6 1052.99,486.6 1052.99,485.08 1054.89,485.08 1054.89,486.84 1056.79,486.84 1056.79,488.44 1058.69,488.44 1058.69,488.94 1060.59,488.94 1060.59,488.03 1062.5,488.03 1062.5,485.95 1064.4,485.95 1064.4,486.42 1066.3,486.42 1066.3,486.76 1068.2,486.76 1068.2,484.35 1070.1,484.35 1070.1,486.32 1072,486.32 1072,481.97 1073.91,481.97 1073.91,481.23 1075.81,481.23 1075.81,481.79 1077.71,481.79 1077.71,485.29 1079.61,485.29 1079.61,483.24 1081.51,483.24 1081.51,487.54 1083.42,487.54 1083.42,486.34 1085.32,486.34 1085.32,489.26 1087.22,489.26 1087.22,487.76 1089.12,487.76 1089.12,488.31 1091.02,488.31 1091.02,491.28 1092.93,491.28 1092.93,491.13 1094.83,491.13 1094.83,494.68 1096.73,494.68 1096.73,494.69 1098.63,494.69 1098.63,496.35 1100.53,496.35 1100.53,498.71 1102.44,498.71 1102.44,501.55 1104.34,501.55 1104.34,500.18 1106.24,500.18 1106.24,503.26 1108.14,503.26 1108.14,502.84 1110.04,502.84 1110.04,503.74 1111.95,503.74 1111.95,505.09 1113.85,505.09 1113.85,506.65 1115.75,506.65 1115.75,507.38 1117.65,507.38 1117.65,508.1 1119.55,508.1 1119.55,507.94 1121.46,507.94 1121.46,508.34 1123.36,508.34 1123.36,508.36 1125.26,508.36 1125.26,508.91 1127.16,508.91 1127.16,508.69 1129.06,508.69 1129.06,508.84 1130.97,508.84 1130.97,508.84 1132.87,508.84 1132.87,509.04 1134.77,509.04 1134.77,509.56 1136.67,509.56 1136.67,509.37 1138.57,509.37 1138.57,510.23 1140.47,510.23 1140.47,510.14 1142.38,510.14 1142.38,511.05 1144.28,511.05 1144.28,511.29 1146.18,511.29 1146.18,511.94 1148.08,511.94 1148.08,511.96 1149.98,511.96 1149.98,510.38 1151.89,510.38 1151.89,509.57 1153.79,509.57 1153.79,508.89 1155.69,508.89 1155.69,507.16 1157.59,507.16 1157.59,506.99 1159.49,506.99 1159.49,506.36 1161.4,506.36 1161.4,504.37 1163.3,504.37 1163.3,504.59 1165.2,504.59 1165.2,517" fill="#8f5a2a" />
<polygon points="773.4,517 773.4,510.11 775.3,510.11 775.3,510.19 777.2,510.19 777.2,508.96 779.11,508.96 779.11,508.47 781.01,508.47 781.01,507.51 782.91,507.51 782.91,507.78 784.81,507.78 784.81,506.34 786.71,506.34 786.71,506.95 788.62,506.95 788.62,505.75 790.52,505.75 790.52,505.48 792.42,505.48 792.42,503.66 794.32,503.66 794.32,504.2 796.22,504.2 796.22,503.62 798.13,503.62 798.13,502.86 800.03,502.86 800.03,500.56 801.93,500.56 801.93,499.38 803.83,499.38 803.83,499.87 805.73,499.87 805.73,500.13 807.63,500.13 807.63,498.1 809.54,498.1 809.54,497.28 811.44,497.28 811.44,498.81 813.34,498.81 813.34,496.55 815.24,496.55 815.24,497.25 817.14,497.25 817.14,496.41 819.05,496.41 819.05,496.82 820.95,496.82 820.95,495.5 822.85,495.5 822.85,496.9 824.75,496.9 824.75,495.16 826.65,495.16 826.65,494.7 828.56,494.7 828.56,496.36 830.46,496.36 830.46,496.43 832.36,496.43 832.36,498.27 834.26,498.27 834.26,499.69 836.16,499.69 836.16,498.39 838.07,498.39 838.07,500.83 839.97,500.83 839.97,501.74 841.87,501.74 841.87,501.75 843.77,501.75 843.77,502.12 845.67,502.12 845.67,503.9 847.58,503.9 847.58,506.11 849.48,506.11 849.48,507.4 851.38,507.4 851.38,507.95 853.28,507.95 853.28,509.15 855.18,509.15 855.18,509.02 857.09,509.02 857.09,509.76 858.99,509.76 858.99,509.6 860.89,509.6 860.89,510.45 862.79,510.45 862.79,511.06 864.69,511.06 864.69,511.67 866.6,511.67 866.6,511.38 868.5,511.38 868.5,511.49 870.4,511.49 870.4,511.47 872.3,511.47 872.3,510.66 874.2,510.66 874.2,510.57 876.1,510.57 876.1,510.17 878.01,510.17 878.01,508.82 879.91,508.82 879.91,509.12 881.81,509.12 881.81,507.82 883.71,507.82 883.71,507.98 885.61,507.98 885.61,507.77 887.52,507.77 887.52,507.75 889.42,507.75 889.42,508.05 891.32,508.05 891.32,509.41 893.22,509.41 893.22,509.47 895.12,509.47 895.12,510.71 897.03,510.71 897.03,511.91 898.93,511.91 898.93,512.3 900.83,512.3 900.83,513.06 902.73,513.06 902.73,513.77 904.63,513.77 904.63,513.56 906.54,513.56 906.54,512.5 908.44,512.5 908.44,512.01 910.34,512.01 910.34,511.29 912.24,511.29 912.24,510.28 914.14,510.28 914.14,509.05 916.05,509.05 916.05,507.44 917.95,507.44 917.95,507.5 919.85,507.5 919.85,504.58 921.75,504.58 921.75,501.3 923.65,501.3 923.65,499.82 925.56,499.82 925.56,495.86 927.46,495.86 927.46,494.72 929.36,494.72 929.36,495.42 931.26,495.42 931.26,495.56 933.16,495.56 933.16,495.85 935.07,495.85 935.07,495.16 936.97,495.16 936.97,494.4 938.87,494.4 938.87,496.08 940.77,496.08 940.77,495.19 942.67,495.19 942.67,495.87 944.57,495.87 944.57,497.54 946.48,497.54 946.48,497.14 948.38,497.14 948.38,499.68 950.28,499.68 950.28,499.15 952.18,499.15 952.18,500.88 954.08,500.88 954.08,501.2 955.99,501.2 955.99,501.89 957.89,501.89 957.89,500.59 959.79,500.59 959.79,502.05 961.69,502.05 961.69,503.87 963.59,503.87 963.59,504.3 965.5,504.3 965.5,504.63 967.4,504.63 967.4,504.28 969.3,504.28 969.3,505.6 971.2,505.6 971.2,504.54 973.1,504.54 973.1,504.33 975.01,504.33 975.01,504.78 976.91,504.78 976.91,505.12 978.81,505.12 978.81,505.77 980.71,505.77 980.71,504.62 982.61,504.62 982.61,505.27 984.52,505.27 984.52,504.76 986.42,504.76 986.42,505.02 988.32,505.02 988.32,505.35 990.22,505.35 990.22,506.5 992.12,506.5 992.12,505.74 994.03,505.74 994.03,506.79 995.93,506.79 995.93,505.93 997.83,505.93 997.83,507.95 999.73,507.95 999.73,508.3 1001.63,508.3 1001.63,508.06 1003.53,508.06 1003.53,509.36 1005.44,509.36 1005.44,509.45 1007.34,509.45 1007.34,510.81 1009.24,510.81 1009.24,510.67 1011.14,510.67 1011.14,511.34 1013.04,511.34 1013.04,512.46 1014.95,512.46 1014.95,513.25 1016.85,513.25 1016.85,512.83 1018.75,512.83 1018.75,513.03 1020.65,513.03 1020.65,512.65 1022.55,512.65 1022.55,512.13 1024.46,512.13 1024.46,512.1 1026.36,512.1 1026.36,511.96 1028.26,511.96 1028.26,510.85 1030.16,510.85 1030.16,507.95 1032.06,507.95 1032.06,504.85 1033.97,504.85 1033.97,503.3 1035.87,503.3 1035.87,499.16 1037.77,499.16 1037.77,497.84 1039.67,497.84 1039.67,494 1041.57,494 1041.57,493.71 1043.48,493.71 1043.48,488.24 1045.38,488.24 1045.38,486.8 1047.28,486.8 1047.28,487.96 1049.18,487.96 1049.18,486.85 1051.08,486.85 1051.08,486.6 1052.99,486.6 1052.99,485.08 1054.89,485.08 1054.89,486.84 1056.79,486.84 1056.79,488.44 1058.69,488.44 1058.69,488.94 1060.59,488.94 1060.59,488.03 1062.5,488.03 1062.5,485.95 1064.4,485.95 1064.4,486.42 1066.3,486.42 1066.3,486.76 1068.2,486.76 1068.2,484.35 1070.1,484.35 1070.1,486.32 1072,486.32 1072,481.97 1073.91,481.97 1073.91,481.23 1075.81,481.23 1075.81,481.79 1077.71,481.79 1077.71,485.29 1079.61,485.29 1079.61,483.24 1081.51,483.24 1081.51,487.54 1083.42,487.54 1083.42,486.34 1085.32,486.34 1085.32,489.26 1087.22,489.26 1087.22,487.76 1089.12,487.76 1089.12,488.31 1091.02,488.31 1091.02,491.28 1092.93,491.28 1092.93,491.13 1094.83,491.13 1094.83,494.68 1096.73,494.68 1096.73,494.69 1098.63,494.69 1098.63,496.35 1100.53,496.35 1100.53,498.71 1102.44,498.71 1102.44,501.55 1104.34,501.55 1104.34,500.18 1106.24,500.18 1106.24,503.26 1108.14,503.26 1108.14,502.84 1110.04,502.84 1110.04,503.74 1111.95,503.74 1111.95,505.09 1113.85,505.09 1113.85,506.65 1115.75,506.65 1115.75,507.38 1117.65,507.38 1117.65,508.1 1119.55,508.1 1119.55,507.94 1121.46,507.94 1121.46,508.34 1123.36,508.34 1123.36,508.36 1125.26,508.36 1125.26,508.91 1127.16,508.91 1127.16,508.69 1129.06,508.69 1129.06,508.84 1130.97,508.84 1130.97,508.84 1132.87,508.84 1132.87,509.04 1134.77,509.04 1134.77,509.56 1136.67,509.56 1136.67,509.37 1138.57,509.37 1138.57,510.23 1140.47,510.23 1140.47,510.14 1142.38,510.14 1142.38,511.05 1144.28,511.05 1144.28,511.29 1146.18,511.29 1146.18,511.94 1148.08,511.94 1148.08,511.96 1149.98,511.96 1149.98,510.38 1151.89,510.38 1151.89,509.57 1153.79,509.57 1153.79,508.89 1155.69,508.89 1155.69,507.16 1157.59,507.16 1157.59,506.99 1159.49,506.99 1159.49,506.36 1161.4,506.36 1161.4,504.37 1163.3,504.37 1163.3,504.59 1165.2,504.59 1165.2,517" fill="url(#stripe1)" />
<line x1="769.8" y1="539.6" x2="1045" y2="539.6" stroke="#4a87cc" stroke-width="1.8" />
<rect x="1042.6" y="535.4" width="9.2" height="8.3" fill="#4a87cc" />
<polyline points="773.8,536 769.8,539.6 773.8,543.2" fill="none" stroke="#4a87cc" stroke-width="1.5" stroke-linecap="butt" stroke-linejoin="miter"/>
<polyline points="785.1,536 781.1,539.6 785.1,543.2" fill="none" stroke="#4a87cc" stroke-width="1.5" stroke-linecap="butt" stroke-linejoin="miter"/>
<polyline points="796.4,536 792.4,539.6 796.4,543.2" fill="none" stroke="#4a87cc" stroke-width="1.5" stroke-linecap="butt" stroke-linejoin="miter"/>
<polyline points="807.7,536 803.7,539.6 807.7,543.2" fill="none" stroke="#4a87cc" stroke-width="1.5" stroke-linecap="butt" stroke-linejoin="miter"/>
<polyline points="819,536 815,539.6 819,543.2" fill="none" stroke="#4a87cc" stroke-width="1.5" stroke-linecap="butt" stroke-linejoin="miter"/>
<polyline points="830.3,536 826.3,539.6 830.3,543.2" fill="none" stroke="#4a87cc" stroke-width="1.5" stroke-linecap="butt" stroke-linejoin="miter"/>
<polyline points="841.6,536 837.6,539.6 841.6,543.2" fill="none" stroke="#4a87cc" stroke-width="1.5" stroke-linecap="butt" stroke-linejoin="miter"/>
<polyline points="852.9,536 848.9,539.6 852.9,543.2" fill="none" stroke="#4a87cc" stroke-width="1.5" stroke-linecap="butt" stroke-linejoin="miter"/>
<polyline points="864.2,536 860.2,539.6 864.2,543.2" fill="none" stroke="#4a87cc" stroke-width="1.5" stroke-linecap="butt" stroke-linejoin="miter"/>
<polyline points="875.5,536 871.5,539.6 875.5,543.2" fill="none" stroke="#4a87cc" stroke-width="1.5" stroke-linecap="butt" stroke-linejoin="miter"/>
<polyline points="886.8,536 882.8,539.6 886.8,543.2" fill="none" stroke="#4a87cc" stroke-width="1.5" stroke-linecap="butt" stroke-linejoin="miter"/>
<polyline points="898.1,536 894.1,539.6 898.1,543.2" fill="none" stroke="#4a87cc" stroke-width="1.5" stroke-linecap="butt" stroke-linejoin="miter"/>
<polyline points="909.4,536 905.4,539.6 909.4,543.2" fill="none" stroke="#4a87cc" stroke-width="1.5" stroke-linecap="butt" stroke-linejoin="miter"/>
<polyline points="920.7,536 916.7,539.6 920.7,543.2" fill="none" stroke="#4a87cc" stroke-width="1.5" stroke-linecap="butt" stroke-linejoin="miter"/>
<polyline points="932,536 928,539.6 932,543.2" fill="none" stroke="#4a87cc" stroke-width="1.5" stroke-linecap="butt" stroke-linejoin="miter"/>
<polyline points="943.3,536 939.3,539.6 943.3,543.2" fill="none" stroke="#4a87cc" stroke-width="1.5" stroke-linecap="butt" stroke-linejoin="miter"/>
<polyline points="954.6,536 950.6,539.6 954.6,543.2" fill="none" stroke="#4a87cc" stroke-width="1.5" stroke-linecap="butt" stroke-linejoin="miter"/>
<polyline points="965.9,536 961.9,539.6 965.9,543.2" fill="none" stroke="#4a87cc" stroke-width="1.5" stroke-linecap="butt" stroke-linejoin="miter"/>
<polyline points="977.2,536 973.2,539.6 977.2,543.2" fill="none" stroke="#4a87cc" stroke-width="1.5" stroke-linecap="butt" stroke-linejoin="miter"/>
<polyline points="988.5,536 984.5,539.6 988.5,543.2" fill="none" stroke="#4a87cc" stroke-width="1.5" stroke-linecap="butt" stroke-linejoin="miter"/>
<polyline points="999.8,536 995.8,539.6 999.8,543.2" fill="none" stroke="#4a87cc" stroke-width="1.5" stroke-linecap="butt" stroke-linejoin="miter"/>
<polyline points="1011.1,536 1007.1,539.6 1011.1,543.2" fill="none" stroke="#4a87cc" stroke-width="1.5" stroke-linecap="butt" stroke-linejoin="miter"/>
<polyline points="1022.4,536 1018.4,539.6 1022.4,543.2" fill="none" stroke="#4a87cc" stroke-width="1.5" stroke-linecap="butt" stroke-linejoin="miter"/>
<polyline points="1033.7,536 1029.7,539.6 1033.7,543.2" fill="none" stroke="#4a87cc" stroke-width="1.5" stroke-linecap="butt" stroke-linejoin="miter"/>
<text x="1056" y="543.3" font-size="9.4" fill="#4a87cc" font-weight="normal" text-anchor="start" font-family='"Liberation Sans", sans-serif' >TE_25029</text>
<text x="310" y="615.7" font-size="11.5" fill="#111" font-weight="bold" text-anchor="middle" font-family='"Liberation Sans", sans-serif' >Human−IL27</text>
<text x="310" y="821.4" font-size="11.5" fill="#111" font-weight="bold" text-anchor="middle" font-family='"Liberation Sans", sans-serif' >Mouse−il27</text>
<rect x="109" y="623.6" width="401.6" height="175.2" fill="none" stroke="#333333" stroke-width="1.6"/>
<rect x="109" y="829.4" width="401.6" height="174.6" fill="none" stroke="#333333" stroke-width="1.6"/>
<line x1="104.5" y1="791.8" x2="109" y2="791.8" stroke="#333333" stroke-width="1.6" />
<text x="101.8" y="795.8" font-size="11" fill="#4d4d4d" font-weight="normal" text-anchor="end" font-family='"Liberation Sans", sans-serif' >0</text>
<line x1="104.5" y1="736.9" x2="109" y2="736.9" stroke="#333333" stroke-width="1.6" />
<text x="101.8" y="740.9" font-size="11" fill="#4d4d4d" font-weight="normal" text-anchor="end" font-family='"Liberation Sans", sans-serif' >2</text>
<line x1="104.5" y1="682" x2="109" y2="682" stroke="#333333" stroke-width="1.6" />
<text x="101.8" y="686" font-size="11" fill="#4d4d4d" font-weight="normal" text-anchor="end" font-family='"Liberation Sans", sans-serif' >4</text>
<line x1="104.5" y1="627.1" x2="109" y2="627.1" stroke="#333333" stroke-width="1.6" />
<text x="101.8" y="631.1" font-size="11" fill="#4d4d4d" font-weight="normal" text-anchor="end" font-family='"Liberation Sans", sans-serif' >6</text>
<line x1="104.5" y1="996.7" x2="109" y2="996.7" stroke="#333333" stroke-width="1.6" />
<text x="101.8" y="1000.7" font-size="11" fill="#4d4d4d" font-weight="normal" text-anchor="end" font-family='"Liberation Sans", sans-serif' >0.0</text>
<line x1="104.5" y1="954" x2="109" y2="954" stroke="#333333" stroke-width="1.6" />
<text x="101.8" y="958" font-size="11" fill="#4d4d4d" font-weight="normal" text-anchor="end" font-family='"Liberation Sans", sans-serif' >0.2</text>
<line x1="104.5" y1="911.3" x2="109" y2="911.3" stroke="#333333" stroke-width="1.6" />
<text x="101.8" y="915.3" font-size="11" fill="#4d4d4d" font-weight="normal" text-anchor="end" font-family='"Liberation Sans", sans-serif' >0.4</text>
<line x1="104.5" y1="868.6" x2="109" y2="868.6" stroke="#333333" stroke-width="1.6" />
<text x="101.8" y="872.6" font-size="11" fill="#4d4d4d" font-weight="normal" text-anchor="end" font-family='"Liberation Sans", sans-serif' >0.6</text>
<line x1="123" y1="631.1" x2="123" y2="679.5" stroke="#333333" stroke-width="1.3" />
<line x1="123" y1="722.9" x2="123" y2="785.4" stroke="#333333" stroke-width="1.3" />
<rect x="114.7" y="679.5" width="16.6" height="43.4" fill="#da2128" stroke="#333333" stroke-width="2.4"/>
<line x1="114.7" y1="702.2" x2="131.3" y2="702.2" stroke="#333333" stroke-width="3.2" />
<line x1="146" y1="707.8" x2="146" y2="734.6" stroke="#333333" stroke-width="2" />
<line x1="146" y1="755.9" x2="146" y2="786.6" stroke="#333333" stroke-width="2" />
<rect x="137.7" y="734.6" width="16.6" height="21.3" fill="#da2128" stroke="#333333" stroke-width="2.4"/>
<line x1="137.7" y1="745.6" x2="154.3" y2="745.6" stroke="#333333" stroke-width="3.2" />
<rect x="145" y="701.3" width="2" height="2" fill="#222" />
<rect x="145" y="691" width="2" height="2" fill="#222" />
<rect x="145" y="788.8" width="2" height="2" fill="#222" />
<line x1="169.2" y1="730.7" x2="169.2" y2="754.3" stroke="#333333" stroke-width="2" />
<line x1="169.2" y1="770.5" x2="169.2" y2="786.6" stroke="#333333" stroke-width="2" />
<rect x="160.9" y="754.3" width="16.6" height="16.2" fill="#da2128" stroke="#333333" stroke-width="2.4"/>
<line x1="160.9" y1="762.2" x2="177.5" y2="762.2" stroke="#333333" stroke-width="3.2" />
<rect x="168.2" y="725" width="2" height="2" fill="#222" />
<rect x="168.2" y="723.4" width="2" height="2" fill="#222" />
<rect x="168.2" y="719.1" width="2" height="2" fill="#222" />
<rect x="168.2" y="706.8" width="2" height="2" fill="#222" />
<rect x="168.2" y="704.5" width="2" height="2" fill="#222" />
<rect x="168.2" y="688.2" width="2" height="2" fill="#222" />
<line x1="192.5" y1="737.8" x2="192.5" y2="762.2" stroke="#333333" stroke-width="2" />
<line x1="192.5" y1="778.4" x2="192.5" y2="791.4" stroke="#333333" stroke-width="2" />
<rect x="184.2" y="762.2" width="16.6" height="16.2" fill="#da2128" stroke="#333333" stroke-width="2.4"/>
<line x1="184.2" y1="770.9" x2="200.8" y2="770.9" stroke="#333333" stroke-width="3.2" />
<line x1="192.5" y1="711.3" x2="192.5" y2="737.8" stroke="#333333" stroke-width="2" stroke-dasharray="1.6 0.6"/>
<line x1="215.8" y1="765.4" x2="215.8" y2="777.5" stroke="#333333" stroke-width="2" />
<line x1="215.8" y1="747.2" x2="215.8" y2="765.4" stroke="#333333" stroke-width="2" stroke-dasharray="1.6 0.6"/>
<line x1="215.8" y1="788.5" x2="215.8" y2="791.7" stroke="#333333" stroke-width="2" />
<rect x="206.3" y="776.9" width="19" height="12.2" fill="#333333" />
<rect x="208.2" y="778.9" width="15.2" height="8.2" fill="#da2128" />
<rect x="208.2" y="782.2" width="15.2" height="2" fill="#333333" />
<rect x="214.8" y="738.3" width="2" height="2" fill="#222" />
<rect x="214.8" y="732" width="2" height="2" fill="#222" />
<rect x="214.8" y="721.8" width="2" height="2" fill="#222" />
<rect x="214.8" y="714.7" width="2" height="2" fill="#222" />
<rect x="214.8" y="698.9" width="2" height="2" fill="#222" />
<line x1="239" y1="766.9" x2="239" y2="778.7" stroke="#333333" stroke-width="2" />
<line x1="239" y1="787.4" x2="239" y2="791.7" stroke="#333333" stroke-width="2" />
<rect x="229.5" y="778.1" width="19" height="9.9" fill="#333333" />
<rect x="231.4" y="780.1" width="15.2" height="5.9" fill="#da2128" />
<rect x="231.4" y="782.1" width="15.2" height="2" fill="#333333" />
<rect x="238" y="762" width="2" height="2" fill="#222" />
<rect x="238" y="751.7" width="2" height="2" fill="#222" />
<rect x="238" y="747.8" width="2" height="2" fill="#222" />
<rect x="238" y="740.7" width="2" height="2" fill="#222" />
<rect x="238" y="739.1" width="2" height="2" fill="#222" />
<line x1="262.4" y1="767.7" x2="262.4" y2="780.3" stroke="#333333" stroke-width="2" />
<line x1="262.4" y1="788.5" x2="262.4" y2="791.7" stroke="#333333" stroke-width="2" />
<rect x="252.9" y="779.7" width="19" height="9.4" fill="#333333" />
<rect x="254.8" y="781.7" width="15.2" height="5.4" fill="#da2128" />
<rect x="254.8" y="783.4" width="15.2" height="2" fill="#333333" />
<rect x="261.4" y="760.4" width="2" height="2" fill="#222" />
<rect x="261.4" y="754.9" width="2" height="2" fill="#222" />
<rect x="261.4" y="712.3" width="2" height="2" fill="#222" />
<line x1="285.8" y1="773.2" x2="285.8" y2="782.2" stroke="#333333" stroke-width="2" />
<line x1="285.8" y1="750" x2="285.8" y2="773.2" stroke="#333333" stroke-width="2" stroke-dasharray="1.6 0.6"/>
<line x1="285.8" y1="789.8" x2="285.8" y2="791.7" stroke="#333333" stroke-width="2" />
<rect x="276.3" y="781.6" width="19" height="8.8" fill="#333333" />
<rect x="278.2" y="783.6" width="15.2" height="4.8" fill="#da2128" />
<rect x="278.2" y="785" width="15.2" height="2" fill="#333333" />
<rect x="284.8" y="743.1" width="2" height="2" fill="#222" />
<rect x="284.8" y="732.8" width="2" height="2" fill="#222" />
<rect x="284.8" y="715.5" width="2" height="2" fill="#222" />
<line x1="309.2" y1="773.2" x2="309.2" y2="782.2" stroke="#333333" stroke-width="2" />
<line x1="309.2" y1="755" x2="309.2" y2="773.2" stroke="#333333" stroke-width="2" stroke-dasharray="1.6 0.6"/>
<line x1="309.2" y1="790.6" x2="309.2" y2="791.7" stroke="#333333" stroke-width="2" />
<rect x="299.7" y="781.6" width="19" height="9.6" fill="#333333" />
<rect x="301.6" y="783.6" width="15.2" height="5.6" fill="#da2128" />
<rect x="301.6" y="785.4" width="15.2" height="2" fill="#333333" />
<rect x="308.2" y="752.5" width="2" height="2" fill="#222" />
<rect x="308.2" y="743.1" width="2" height="2" fill="#222" />
<rect x="308.2" y="733.6" width="2" height="2" fill="#222" />
<rect x="308.2" y="728.9" width="2" height="2" fill="#222" />
<rect x="308.2" y="710.8" width="2" height="2" fill="#222" />
<rect x="308.2" y="701.3" width="2" height="2" fill="#222" />
<rect x="308.2" y="677.2" width="2" height="2" fill="#222" />
<line x1="332.7" y1="766.1" x2="332.7" y2="791.7" stroke="#333333" stroke-width="1.5" stroke-dasharray="1.5 0.7"/>
<rect x="323.1" y="784.4" width="19.2" height="7.9" fill="#333333" />
<rect x="331.7" y="755.7" width="2" height="2" fill="#222" />
<rect x="331.7" y="731.3" width="2" height="2" fill="#222" />
<rect x="331.7" y="712.3" width="2" height="2" fill="#222" />
<line x1="356" y1="767.7" x2="356" y2="791.7" stroke="#333333" stroke-width="1.5" stroke-dasharray="1.5 0.7"/>
<rect x="346.4" y="784.9" width="19.2" height="7.4" fill="#333333" />
<rect x="355" y="733.6" width="2" height="2" fill="#222" />
<line x1="379.4" y1="783" x2="379.4" y2="785" stroke="#333333" stroke-width="2" />
<line x1="379.4" y1="770.9" x2="379.4" y2="780.3" stroke="#333333" stroke-width="2" stroke-dasharray="1.6 0.6"/>
<rect x="369.9" y="784.4" width="19" height="7.9" fill="#333333" />
<rect x="371.8" y="787.9" width="15.2" height="1.2" fill="#da2128" />
<rect x="378.4" y="747.8" width="2" height="2" fill="#222" />
<line x1="402.8" y1="785" x2="402.8" y2="785" stroke="#333333" stroke-width="2" />
<line x1="402.8" y1="763" x2="402.8" y2="785" stroke="#333333" stroke-width="2" stroke-dasharray="1.6 0.6"/>
<rect x="393.3" y="784.4" width="19" height="7.9" fill="#333333" />
<rect x="395.2" y="787.9" width="15.2" height="1.2" fill="#da2128" />
<rect x="401.8" y="751.7" width="2" height="2" fill="#222" />
<rect x="401.8" y="743.1" width="2" height="2" fill="#222" />
<rect x="401.8" y="740" width="2" height="2" fill="#222" />
<rect x="401.8" y="738.3" width="2" height="2" fill="#222" />
<rect x="401.8" y="732" width="2" height="2" fill="#222" />
<line x1="426.2" y1="773.2" x2="426.2" y2="791.7" stroke="#333333" stroke-width="1.5" stroke-dasharray="1.5 0.7"/>
<rect x="416.6" y="784.9" width="19.2" height="7.4" fill="#333333" />
<rect x="425.2" y="748.9" width="2" height="2" fill="#222" />
<rect x="425.2" y="732" width="2" height="2" fill="#222" />
<rect x="425.2" y="681.9" width="2" height="2" fill="#222" />
<line x1="449.5" y1="769" x2="449.5" y2="791.7" stroke="#333333" stroke-width="1.5" stroke-dasharray="1.5 0.7"/>
<rect x="439.9" y="786.3" width="19.2" height="6" fill="#333333" />
<rect x="448.5" y="754.1" width="2" height="2" fill="#222" />
<rect x="448.5" y="746.5" width="2" height="2" fill="#222" />
<line x1="472.9" y1="777" x2="472.9" y2="791.7" stroke="#333333" stroke-width="1.5" stroke-dasharray="1.5 0.7"/>
<rect x="463.3" y="786.3" width="19.2" height="6" fill="#333333" />
<rect x="471.9" y="762.3" width="2" height="2" fill="#222" />
<rect x="471.9" y="737.9" width="2" height="2" fill="#222" />
<rect x="471.9" y="721" width="2" height="2" fill="#222" />
<line x1="496.5" y1="772.4" x2="496.5" y2="791.7" stroke="#333333" stroke-width="1.5" stroke-dasharray="1.5 0.7"/>
<rect x="486.9" y="787.3" width="19.2" height="5" fill="#333333" />
<line x1="123" y1="927.7" x2="123" y2="945.4" stroke="#333333" stroke-width="1.2" />
<line x1="123" y1="981.1" x2="123" y2="997.3" stroke="#333333" stroke-width="1.2" />
<rect x="114.7" y="945.4" width="16.6" height="35.7" fill="#3a77b5" stroke="#333333" stroke-width="2.4"/>
<line x1="114.7" y1="964.7" x2="131.3" y2="964.7" stroke="#333333" stroke-width="3.2" />
<line x1="146" y1="837.3" x2="146" y2="865.1" stroke="#333333" stroke-width="2" />
<line x1="146" y1="912" x2="146" y2="930.3" stroke="#333333" stroke-width="2" />
<rect x="137.7" y="865.1" width="16.6" height="46.9" fill="#3a77b5" stroke="#333333" stroke-width="2.4"/>
<line x1="137.7" y1="893" x2="154.3" y2="893" stroke="#333333" stroke-width="3.2" />
<rect x="160.2" y="994.7" width="18" height="4" fill="#333333" />
<line x1="192.5" y1="902" x2="192.5" y2="909.4" stroke="#333333" stroke-width="2" />
<rect x="184.2" y="909.4" width="16.6" height="9.9" fill="#3a77b5" stroke="#333333" stroke-width="2.4"/>
<line x1="184.2" y1="917.3" x2="200.8" y2="917.3" stroke="#333333" stroke-width="3.2" />
<rect x="206.8" y="933" width="18" height="4" fill="#333333" />
<line x1="239" y1="948" x2="239" y2="960.3" stroke="#333333" stroke-width="1.2" />
<line x1="239" y1="985.5" x2="239" y2="997.3" stroke="#333333" stroke-width="1.2" />
<rect x="230.7" y="960.3" width="16.6" height="25.2" fill="#3a77b5" stroke="#333333" stroke-width="2.4"/>
<line x1="230.7" y1="972.5" x2="247.3" y2="972.5" stroke="#333333" stroke-width="3.2" />
<line x1="262.4" y1="892.5" x2="262.4" y2="938.1" stroke="#333333" stroke-width="2" />
<line x1="262.4" y1="991.5" x2="262.4" y2="997.3" stroke="#333333" stroke-width="2" />
<rect x="254.1" y="938.1" width="16.6" height="53.4" fill="#3a77b5" stroke="#333333" stroke-width="2.4"/>
<line x1="254.1" y1="985" x2="270.7" y2="985" stroke="#333333" stroke-width="3.2" />
<rect x="276.8" y="852.2" width="18" height="4" fill="#333333" />
<rect x="300.2" y="994.7" width="18" height="4" fill="#333333" />
<line x1="332.7" y1="984.2" x2="332.7" y2="987.1" stroke="#333333" stroke-width="2" />
<line x1="332.7" y1="994.1" x2="332.7" y2="997.3" stroke="#333333" stroke-width="2" />
<rect x="324.4" y="987.1" width="16.6" height="7" fill="#3a77b5" stroke="#333333" stroke-width="2.4"/>
<line x1="324.4" y1="990.8" x2="341" y2="990.8" stroke="#333333" stroke-width="3.2" />
<line x1="356" y1="984.2" x2="356" y2="987.1" stroke="#333333" stroke-width="2" />
<line x1="356" y1="994.1" x2="356" y2="997.3" stroke="#333333" stroke-width="2" />
<rect x="347.7" y="987.1" width="16.6" height="7" fill="#3a77b5" stroke="#333333" stroke-width="2.4"/>
<line x1="347.7" y1="990.8" x2="364.3" y2="990.8" stroke="#333333" stroke-width="3.2" />
<line x1="379.4" y1="972.8" x2="379.4" y2="984.5" stroke="#333333" stroke-width="2" />
<rect x="371.1" y="984.5" width="16.6" height="13" fill="#3a77b5" stroke="#333333" stroke-width="2.4"/>
<line x1="371.1" y1="996" x2="387.7" y2="996" stroke="#333333" stroke-width="3.2" />
<rect x="393.8" y="962.7" width="18" height="4" fill="#333333" />
<rect x="417.2" y="982.5" width="18" height="4" fill="#333333" />
<rect x="440.5" y="994.7" width="18" height="4" fill="#333333" />
<rect x="463.9" y="985.6" width="18" height="4" fill="#333333" />
<line x1="496.5" y1="979.3" x2="496.5" y2="984.5" stroke="#333333" stroke-width="2" />
<line x1="496.5" y1="994.1" x2="496.5" y2="997.3" stroke="#333333" stroke-width="2" />
<rect x="488.2" y="984.5" width="16.6" height="9.6" fill="#3a77b5" stroke="#333333" stroke-width="2.4"/>
<line x1="488.2" y1="990.2" x2="504.8" y2="990.2" stroke="#333333" stroke-width="3.2" />
<line x1="123" y1="1004" x2="123" y2="1008.5" stroke="#333333" stroke-width="1.6" />
<line x1="123" y1="623.6" x2="123" y2="623.6" stroke="#333333" stroke-width="0" />
<text x="126.4" y="1015.8" font-size="8.6" fill="#333" font-weight="normal" text-anchor="end" font-family='"Liberation Sans", sans-serif' transform="rotate(-45 126.4 1015.8)">Liver</text>
<line x1="146" y1="1004" x2="146" y2="1008.5" stroke="#333333" stroke-width="1.6" />
<line x1="146" y1="623.6" x2="146" y2="623.6" stroke="#333333" stroke-width="0" />
<text x="149.4" y="1015.8" font-size="8.6" fill="#333" font-weight="normal" text-anchor="end" font-family='"Liberation Sans", sans-serif' transform="rotate(-45 149.4 1015.8)">Spleen</text>
<line x1="169.2" y1="1004" x2="169.2" y2="1008.5" stroke="#333333" stroke-width="1.6" />
<line x1="169.2" y1="623.6" x2="169.2" y2="623.6" stroke="#333333" stroke-width="0" />
<text x="172.6" y="1015.8" font-size="8.6" fill="#333" font-weight="normal" text-anchor="end" font-family='"Liberation Sans", sans-serif' transform="rotate(-45 172.6 1015.8)">Testis</text>
<line x1="192.5" y1="1004" x2="192.5" y2="1008.5" stroke="#333333" stroke-width="1.6" />
<line x1="192.5" y1="623.6" x2="192.5" y2="623.6" stroke="#333333" stroke-width="0" />
<text x="195.9" y="1015.8" font-size="8.6" fill="#333" font-weight="normal" text-anchor="end" font-family='"Liberation Sans", sans-serif' transform="rotate(-45 195.9 1015.8)">Lung</text>
<line x1="215.8" y1="1004" x2="215.8" y2="1008.5" stroke="#333333" stroke-width="1.6" />
<line x1="215.8" y1="623.6" x2="215.8" y2="623.6" stroke="#333333" stroke-width="0" />
<text x="219.2" y="1015.8" font-size="8.6" fill="#333" font-weight="normal" text-anchor="end" font-family='"Liberation Sans", sans-serif' transform="rotate(-45 219.2 1015.8)">Adipose_Subcutaneous</text>
<line x1="239" y1="1004" x2="239" y2="1008.5" stroke="#333333" stroke-width="1.6" />
<line x1="239" y1="623.6" x2="239" y2="623.6" stroke="#333333" stroke-width="0" />
<text x="242.4" y="1015.8" font-size="8.6" fill="#333" font-weight="normal" text-anchor="end" font-family='"Liberation Sans", sans-serif' transform="rotate(-45 242.4 1015.8)">Adrenal_Gland</text>
<line x1="262.4" y1="1004" x2="262.4" y2="1008.5" stroke="#333333" stroke-width="1.6" />
<line x1="262.4" y1="623.6" x2="262.4" y2="623.6" stroke="#333333" stroke-width="0" />
<text x="265.8" y="1015.8" font-size="8.6" fill="#333" font-weight="normal" text-anchor="end" font-family='"Liberation Sans", sans-serif' transform="rotate(-45 265.8 1015.8)">Small_Intestine</text>
<line x1="285.8" y1="1004" x2="285.8" y2="1008.5" stroke="#333333" stroke-width="1.6" />
<line x1="285.8" y1="623.6" x2="285.8" y2="623.6" stroke="#333333" stroke-width="0" />
<text x="289.2" y="1015.8" font-size="8.6" fill="#333" font-weight="normal" text-anchor="end" font-family='"Liberation Sans", sans-serif' transform="rotate(-45 289.2 1015.8)">Breast</text>
<line x1="309.2" y1="1004" x2="309.2" y2="1008.5" stroke="#333333" stroke-width="1.6" />
<line x1="309.2" y1="623.6" x2="309.2" y2="623.6" stroke="#333333" stroke-width="0" />
<text x="312.6" y="1015.8" font-size="8.6" fill="#333" font-weight="normal" text-anchor="end" font-family='"Liberation Sans", sans-serif' transform="rotate(-45 312.6 1015.8)">Colon_Sigmoid</text>
<line x1="332.7" y1="1004" x2="332.7" y2="1008.5" stroke="#333333" stroke-width="1.6" />
<line x1="332.7" y1="623.6" x2="332.7" y2="623.6" stroke="#333333" stroke-width="0" />
<text x="336.1" y="1015.8" font-size="8.6" fill="#333" font-weight="normal" text-anchor="end" font-family='"Liberation Sans", sans-serif' transform="rotate(-45 336.1 1015.8)">Brain_Cerebellum</text>
<line x1="356" y1="1004" x2="356" y2="1008.5" stroke="#333333" stroke-width="1.6" />
<line x1="356" y1="623.6" x2="356" y2="623.6" stroke="#333333" stroke-width="0" />
<text x="359.4" y="1015.8" font-size="8.6" fill="#333" font-weight="normal" text-anchor="end" font-family='"Liberation Sans", sans-serif' transform="rotate(-45 359.4 1015.8)">Ovary</text>
<line x1="379.4" y1="1004" x2="379.4" y2="1008.5" stroke="#333333" stroke-width="1.6" />
<line x1="379.4" y1="623.6" x2="379.4" y2="623.6" stroke="#333333" stroke-width="0" />
<text x="382.8" y="1015.8" font-size="8.6" fill="#333" font-weight="normal" text-anchor="end" font-family='"Liberation Sans", sans-serif' transform="rotate(-45 382.8 1015.8)">Kidney</text>
<line x1="402.8" y1="1004" x2="402.8" y2="1008.5" stroke="#333333" stroke-width="1.6" />
<line x1="402.8" y1="623.6" x2="402.8" y2="623.6" stroke="#333333" stroke-width="0" />
<text x="406.2" y="1015.8" font-size="8.6" fill="#333" font-weight="normal" text-anchor="end" font-family='"Liberation Sans", sans-serif' transform="rotate(-45 406.2 1015.8)">Stomach</text>
<line x1="426.2" y1="1004" x2="426.2" y2="1008.5" stroke="#333333" stroke-width="1.6" />
<line x1="426.2" y1="623.6" x2="426.2" y2="623.6" stroke="#333333" stroke-width="0" />
<text x="429.6" y="1015.8" font-size="8.6" fill="#333" font-weight="normal" text-anchor="end" font-family='"Liberation Sans", sans-serif' transform="rotate(-45 429.6 1015.8)">Brain_Hippocampus</text>
<line x1="449.5" y1="1004" x2="449.5" y2="1008.5" stroke="#333333" stroke-width="1.6" />
<line x1="449.5" y1="623.6" x2="449.5" y2="623.6" stroke="#333333" stroke-width="0" />
<text x="452.9" y="1015.8" font-size="8.6" fill="#333" font-weight="normal" text-anchor="end" font-family='"Liberation Sans", sans-serif' transform="rotate(-45 452.9 1015.8)">Pancreas</text>
<line x1="472.9" y1="1004" x2="472.9" y2="1008.5" stroke="#333333" stroke-width="1.6" />
<line x1="472.9" y1="623.6" x2="472.9" y2="623.6" stroke="#333333" stroke-width="0" />
<text x="476.3" y="1015.8" font-size="8.6" fill="#333" font-weight="normal" text-anchor="end" font-family='"Liberation Sans", sans-serif' transform="rotate(-45 476.3 1015.8)">BA9</text>
<line x1="496.5" y1="1004" x2="496.5" y2="1008.5" stroke="#333333" stroke-width="1.6" />
<line x1="496.5" y1="623.6" x2="496.5" y2="623.6" stroke="#333333" stroke-width="0" />
<text x="499.9" y="1015.8" font-size="8.6" fill="#333" font-weight="normal" text-anchor="end" font-family='"Liberation Sans", sans-serif' transform="rotate(-45 499.9 1015.8)">Heart_LV</text>
<text transform="translate(78.5 813) rotate(-90)" font-size="14" fill="#222" text-anchor="middle" font-family='"Liberation Sans", sans-serif'>log<tspan font-size="9.5" dy="3.5">2</tspan><tspan dy="-3.5" dx="4">(</tspan><tspan dx="2">TPM+1</tspan><tspan dx="2">)</tspan></text>
<text x="532.5" y="792.8" font-size="14.2" fill="#222" font-weight="normal" text-anchor="start" font-family='"Liberation Sans", sans-serif' >Species</text>
<line x1="543.9" y1="804.3" x2="543.9" y2="823" stroke="#333333" stroke-width="1.2" />
<rect x="534.8" y="807.8" width="18.2" height="11.7" fill="#da2128" stroke="#333333" stroke-width="1.6"/>
<line x1="534.8" y1="813.65" x2="553" y2="813.65" stroke="#333333" stroke-width="1.8" />
<text x="562.7" y="817.7" font-size="11.6" fill="#222" font-weight="normal" text-anchor="start" font-family='"Liberation Sans", sans-serif' >Human</text>
<line x1="543.9" y1="827.2" x2="543.9" y2="845.7" stroke="#333333" stroke-width="1.2" />
<rect x="534.8" y="830.7" width="18.2" height="11.5" fill="#3a77b5" stroke="#333333" stroke-width="1.6"/>
<line x1="534.8" y1="836.45" x2="553" y2="836.45" stroke="#333333" stroke-width="1.8" />
<text x="562.7" y="840.4" font-size="11.6" fill="#222" font-weight="normal" text-anchor="start" font-family='"Liberation Sans", sans-serif' >Mouse</text>
<text x="943.5" y="740.3" font-size="16.3" fill="#111" font-weight="bold" text-anchor="middle" font-family='"Liberation Sans", sans-serif' >Consensus sequence of MER67A</text>
<text transform="matrix(1 0 0 0.86 0 779.9)" x="636.8" y="0" font-size="14.6" fill="#111" stroke="#111" stroke-width="0.35" font-weight="normal" font-family='"Liberation Mono", monospace' textLength="490.78" lengthAdjust="spacingAndGlyphs" xml:space="preserve">...gggaaaagagtccagcgtg...---gtnggnnagtgt----...ctaccctcc</text>
<text transform="matrix(1 0 0 0.86 0 779.9)" x="1127.58" y="0" font-size="14.6" fill="#e8822a" stroke="#e8822a" stroke-width="0.35" font-weight="normal" font-family='"Liberation Mono", monospace' textLength="17.53" lengthAdjust="spacingAndGlyphs" xml:space="preserve">ca</text>
<text transform="matrix(1 0 0 0.86 0 779.9)" x="1145.11" y="0" font-size="14.6" fill="#111" stroke="#111" stroke-width="0.35" font-weight="normal" font-family='"Liberation Mono", monospace' textLength="105.17" lengthAdjust="spacingAndGlyphs" xml:space="preserve">cagagactg...</text>
<text transform="matrix(1 0 0 0.86 0 830)" x="636.8" y="0" font-size="14.6" fill="#111" stroke="#111" stroke-width="0.35" font-weight="normal" font-family='"Liberation Mono", monospace' textLength="70.11" lengthAdjust="spacingAndGlyphs" xml:space="preserve">...GGGAA</text>
<text transform="matrix(1 0 0 0.86 0 830)" x="706.91" y="0" font-size="14.6" fill="#d62030" stroke="#d62030" stroke-width="0.35" font-weight="normal" font-family='"Liberation Mono", monospace' textLength="78.88" lengthAdjust="spacingAndGlyphs" xml:space="preserve">CAGAGTCCA</text>
<text transform="matrix(1 0 0 0.86 0 830)" x="785.79" y="0" font-size="14.6" fill="#111" stroke="#111" stroke-width="0.35" font-weight="normal" font-family='"Liberation Mono", monospace' textLength="113.93" lengthAdjust="spacingAndGlyphs" xml:space="preserve">GTGTG...GAAGA</text>
<text transform="matrix(1 0 0 0.86 0 830)" x="899.72" y="0" font-size="14.6" fill="#3f7fcb" stroke="#3f7fcb" stroke-width="0.35" font-weight="normal" font-family='"Liberation Mono", monospace' textLength="78.88" lengthAdjust="spacingAndGlyphs" xml:space="preserve">GGGGAGGGG</text>
<text transform="matrix(1 0 0 0.86 0 830)" x="978.6" y="0" font-size="14.6" fill="#111" stroke="#111" stroke-width="0.35" font-weight="normal" font-family='"Liberation Mono", monospace' textLength="148.99" lengthAdjust="spacingAndGlyphs" xml:space="preserve">TTGGC...TTACTCTCC</text>
<text transform="matrix(1 0 0 0.86 0 830)" x="1127.58" y="0" font-size="14.6" fill="#e8822a" stroke="#e8822a" stroke-width="0.35" font-weight="normal" font-family='"Liberation Mono", monospace' textLength="17.53" lengthAdjust="spacingAndGlyphs" xml:space="preserve">CA</text>
<text transform="matrix(1 0 0 0.86 0 830)" x="1145.11" y="0" font-size="14.6" fill="#111" stroke="#111" stroke-width="0.35" font-weight="normal" font-family='"Liberation Mono", monospace' textLength="105.17" lengthAdjust="spacingAndGlyphs" xml:space="preserve">CAGGAGCTG...</text>
<rect x="666.67" y="796.8" width="1.6" height="9.4" fill="#222" />
<rect x="675.44" y="796.8" width="1.6" height="9.4" fill="#222" />
<rect x="684.2" y="796.8" width="1.6" height="9.4" fill="#222" />
<rect x="692.97" y="796.8" width="1.6" height="9.4" fill="#222" />
<rect x="701.73" y="796.8" width="1.6" height="9.4" fill="#222" />
<rect x="710.39" y="804.3" width="1.8" height="1.8" fill="#222" />
<rect x="719.26" y="796.8" width="1.6" height="9.4" fill="#222" />
<rect x="728.02" y="796.8" width="1.6" height="9.4" fill="#222" />
<rect x="736.79" y="796.8" width="1.6" height="9.4" fill="#222" />
<rect x="745.55" y="796.8" width="1.6" height="9.4" fill="#222" />
<rect x="754.31" y="796.8" width="1.6" height="9.4" fill="#222" />
<rect x="763.08" y="796.8" width="1.6" height="9.4" fill="#222" />
<rect x="771.84" y="796.8" width="1.6" height="9.4" fill="#222" />
<rect x="780.61" y="796.8" width="1.6" height="9.4" fill="#222" />
<rect x="789.37" y="796.8" width="1.6" height="9.4" fill="#222" />
<rect x="798.03" y="804.3" width="1.8" height="1.8" fill="#222" />
<rect x="806.9" y="796.8" width="1.6" height="9.4" fill="#222" />
<rect x="815.66" y="796.8" width="1.6" height="9.4" fill="#222" />
<rect x="824.43" y="796.8" width="1.6" height="9.4" fill="#222" />
<rect x="859.38" y="804.3" width="1.8" height="1.8" fill="#222" />
<rect x="868.15" y="804.3" width="1.8" height="1.8" fill="#222" />
<rect x="876.91" y="804.3" width="1.8" height="1.8" fill="#222" />
<rect x="885.77" y="796.8" width="1.6" height="9.4" fill="#222" />
<rect x="894.44" y="804.3" width="1.8" height="1.8" fill="#222" />
<rect x="903.2" y="804.3" width="1.8" height="1.8" fill="#222" />
<rect x="912.07" y="796.8" width="1.6" height="9.4" fill="#222" />
<rect x="920.83" y="796.8" width="1.6" height="9.4" fill="#222" />
<rect x="929.49" y="804.3" width="1.8" height="1.8" fill="#222" />
<rect x="938.26" y="804.3" width="1.8" height="1.8" fill="#222" />
<rect x="947.02" y="804.3" width="1.8" height="1.8" fill="#222" />
<rect x="955.89" y="796.8" width="1.6" height="9.4" fill="#222" />
<rect x="964.55" y="804.3" width="1.8" height="1.8" fill="#222" />
<rect x="973.41" y="796.8" width="1.6" height="9.4" fill="#222" />
<rect x="982.18" y="796.8" width="1.6" height="9.4" fill="#222" />
<rect x="990.84" y="804.3" width="1.8" height="1.8" fill="#222" />
<rect x="999.61" y="804.3" width="1.8" height="1.8" fill="#222" />
<rect x="1008.37" y="804.3" width="1.8" height="1.8" fill="#222" />
<rect x="1017.13" y="804.3" width="1.8" height="1.8" fill="#222" />
<rect x="1052.19" y="804.3" width="1.8" height="1.8" fill="#222" />
<rect x="1061.05" y="796.8" width="1.6" height="9.4" fill="#222" />
<rect x="1069.82" y="796.8" width="1.6" height="9.4" fill="#222" />
<rect x="1078.58" y="796.8" width="1.6" height="9.4" fill="#222" />
<rect x="1087.25" y="804.3" width="1.8" height="1.8" fill="#222" />
<rect x="1096.11" y="796.8" width="1.6" height="9.4" fill="#222" />
<rect x="1104.87" y="796.8" width="1.6" height="9.4" fill="#222" />
<rect x="1113.64" y="796.8" width="1.6" height="9.4" fill="#222" />
<rect x="1122.4" y="796.8" width="1.6" height="9.4" fill="#222" />
<rect x="1131.17" y="796.8" width="1.6" height="9.4" fill="#222" />
<rect x="1139.93" y="796.8" width="1.6" height="9.4" fill="#222" />
<rect x="1148.69" y="796.8" width="1.6" height="9.4" fill="#222" />
<rect x="1157.46" y="796.8" width="1.6" height="9.4" fill="#222" />
<rect x="1166.22" y="796.8" width="1.6" height="9.4" fill="#222" />
<rect x="1174.89" y="804.3" width="1.8" height="1.8" fill="#222" />
<rect x="1183.65" y="804.3" width="1.8" height="1.8" fill="#222" />
<rect x="1192.41" y="804.3" width="1.8" height="1.8" fill="#222" />
<rect x="1201.28" y="796.8" width="1.6" height="9.4" fill="#222" />
<rect x="1210.04" y="796.8" width="1.6" height="9.4" fill="#222" />
<rect x="1218.81" y="796.8" width="1.6" height="9.4" fill="#222" />
<line x1="709.7" y1="833.2" x2="680.3" y2="876.6" stroke="#d62030" stroke-width="1" />
<line x1="786.5" y1="833.2" x2="810.2" y2="875.3" stroke="#d62030" stroke-width="1" />
<line x1="903.5" y1="833.2" x2="877.7" y2="873.8" stroke="#3f7fcb" stroke-width="1" />
<line x1="980.5" y1="833.2" x2="1005.2" y2="875.3" stroke="#3f7fcb" stroke-width="1" />
<line x1="1121" y1="830.9" x2="1095.9" y2="872.3" stroke="#e8822a" stroke-width="1" />
<line x1="1156.6" y1="830.9" x2="1180.4" y2="872.3" stroke="#e8822a" stroke-width="1" />
<polyline points="1141,838.4 1141,848.3 1155,848.3" fill="none" stroke="#222" stroke-width="1.2" />
<polygon points="1158,848.3 1153,846 1153,850.6" fill="#222" />
<text x="1142" y="866.1" font-size="14.2" fill="#e8822a" font-weight="bold" text-anchor="middle" font-family='"Liberation Sans", sans-serif' >TSS</text>
<rect x="660" y="877.5" width="3" height="1" fill="#d5d5d5" />
<rect x="660" y="895.75" width="3" height="1" fill="#d5d5d5" />
<rect x="660" y="914" width="3" height="1" fill="#d5d5d5" />
<rect x="660" y="932.25" width="3" height="1" fill="#d5d5d5" />
<rect x="660" y="950.5" width="3" height="1" fill="#d5d5d5" />
<rect x="682.7" y="956" width="0.6" height="2" fill="#bbbbbb" />
<rect x="700.05" y="956" width="0.6" height="2" fill="#bbbbbb" />
<rect x="717.4" y="956" width="0.6" height="2" fill="#bbbbbb" />
<rect x="734.75" y="956" width="0.6" height="2" fill="#bbbbbb" />
<rect x="752.1" y="956" width="0.6" height="2" fill="#bbbbbb" />
<rect x="769.45" y="956" width="0.6" height="2" fill="#bbbbbb" />
<rect x="786.8" y="956" width="0.6" height="2" fill="#bbbbbb" />
<rect x="804.15" y="956" width="0.6" height="2" fill="#bbbbbb" />
<rect x="821.5" y="956" width="0.6" height="2" fill="#bbbbbb" />
<text transform="matrix(0.25 0 0 0.61 673.5 944.99)" font-size="100" font-weight="bold" fill="#1f4e9c" font-family='"Liberation Sans", sans-serif'>C</text>
<text transform="matrix(0.22 0 0 0.75 691.84 947.1)" font-size="100" font-weight="bold" fill="#1e9a3e" font-family='"Liberation Sans", sans-serif'>A</text>
<text transform="matrix(0.24 0 0 0.58 709.01 945.6)" font-size="100" font-weight="bold" fill="#1e9a3e" font-family='"Liberation Sans", sans-serif'>A</text>
<text transform="matrix(0.23 0 0 0.74 726.31 946.4)" font-size="100" font-weight="bold" fill="#1e9a3e" font-family='"Liberation Sans", sans-serif'>A</text>
<text transform="matrix(0.24 0 0 0.75 743.13 946.35)" font-size="100" font-weight="bold" fill="#f0a830" font-family='"Liberation Sans", sans-serif'>G</text>
<text transform="matrix(0.28 0 0 0.7 761.02 945.6)" font-size="100" font-weight="bold" fill="#d0202a" font-family='"Liberation Sans", sans-serif'>T</text>
<text transform="matrix(0.25 0 0 0.43 777.49 943.67)" font-size="100" font-weight="bold" fill="#1f4e9c" font-family='"Liberation Sans", sans-serif'>C</text>
<text transform="matrix(0.24 0 0 0.68 795.54 945.72)" font-size="100" font-weight="bold" fill="#1f4e9c" font-family='"Liberation Sans", sans-serif'>C</text>
<text transform="matrix(0.25 0 0 0.39 812.28 944.1)" font-size="100" font-weight="bold" fill="#1e9a3e" font-family='"Liberation Sans", sans-serif'>A</text>
<rect x="675" y="946.2" width="16" height="1.4" fill="#e8c890" fill-opacity="0.8"/>
<rect x="676" y="947.6" width="14" height="1.2" fill="#8fc79a" fill-opacity="0.7"/>
<rect x="677" y="948.8" width="12" height="1" fill="#8ea9d6" fill-opacity="0.6"/>
<rect x="692.35" y="946.2" width="16" height="1.4" fill="#e8c890" fill-opacity="0.8"/>
<rect x="693.35" y="947.6" width="14" height="1.2" fill="#8fc79a" fill-opacity="0.7"/>
<rect x="694.35" y="948.8" width="12" height="1" fill="#8ea9d6" fill-opacity="0.6"/>
<rect x="709.7" y="946.2" width="16" height="1.4" fill="#e8c890" fill-opacity="0.8"/>
<rect x="710.7" y="947.6" width="14" height="1.2" fill="#8fc79a" fill-opacity="0.7"/>
<rect x="711.7" y="948.8" width="12" height="1" fill="#8ea9d6" fill-opacity="0.6"/>
<rect x="727.05" y="946.2" width="16" height="1.4" fill="#e8c890" fill-opacity="0.8"/>
<rect x="728.05" y="947.6" width="14" height="1.2" fill="#8fc79a" fill-opacity="0.7"/>
<rect x="729.05" y="948.8" width="12" height="1" fill="#8ea9d6" fill-opacity="0.6"/>
<rect x="744.4" y="946.2" width="16" height="1.4" fill="#e8c890" fill-opacity="0.8"/>
<rect x="745.4" y="947.6" width="14" height="1.2" fill="#8fc79a" fill-opacity="0.7"/>
<rect x="746.4" y="948.8" width="12" height="1" fill="#8ea9d6" fill-opacity="0.6"/>
<rect x="761.75" y="946.2" width="16" height="1.4" fill="#e8c890" fill-opacity="0.8"/>
<rect x="762.75" y="947.6" width="14" height="1.2" fill="#8fc79a" fill-opacity="0.7"/>
<rect x="763.75" y="948.8" width="12" height="1" fill="#8ea9d6" fill-opacity="0.6"/>
<rect x="779.1" y="946.2" width="16" height="1.4" fill="#e8c890" fill-opacity="0.8"/>
<rect x="780.1" y="947.6" width="14" height="1.2" fill="#8fc79a" fill-opacity="0.7"/>
<rect x="781.1" y="948.8" width="12" height="1" fill="#8ea9d6" fill-opacity="0.6"/>
<rect x="796.45" y="946.2" width="16" height="1.4" fill="#e8c890" fill-opacity="0.8"/>
<rect x="797.45" y="947.6" width="14" height="1.2" fill="#8fc79a" fill-opacity="0.7"/>
<rect x="798.45" y="948.8" width="12" height="1" fill="#8ea9d6" fill-opacity="0.6"/>
<rect x="813.8" y="946.2" width="16" height="1.4" fill="#e8c890" fill-opacity="0.8"/>
<rect x="814.8" y="947.6" width="14" height="1.2" fill="#8fc79a" fill-opacity="0.7"/>
<rect x="815.8" y="948.8" width="12" height="1" fill="#8ea9d6" fill-opacity="0.6"/>
<rect x="681.7" y="944.5" width="2" height="3" fill="#d0202a" />
<rect x="798.9" y="944.5" width="2" height="3" fill="#d0202a" />
<rect x="820" y="944.5" width="2" height="3" fill="#d0202a" />
<text x="753.5" y="977.8" font-size="16.4" fill="#d62030" font-weight="bold" text-anchor="middle" font-family='"Liberation Sans", sans-serif' >HNF4A</text>
<rect x="865" y="879.5" width="3" height="1" fill="#d5d5d5" />
<rect x="865" y="897" width="3" height="1" fill="#d5d5d5" />
<rect x="865" y="914.5" width="3" height="1" fill="#d5d5d5" />
<rect x="865" y="932" width="3" height="1" fill="#d5d5d5" />
<rect x="865" y="949.5" width="3" height="1" fill="#d5d5d5" />
<rect x="886.6" y="955" width="0.6" height="2" fill="#bbbbbb" />
<rect x="903.1" y="955" width="0.6" height="2" fill="#bbbbbb" />
<rect x="919.6" y="955" width="0.6" height="2" fill="#bbbbbb" />
<rect x="936.1" y="955" width="0.6" height="2" fill="#bbbbbb" />
<rect x="952.6" y="955" width="0.6" height="2" fill="#bbbbbb" />
<rect x="969.1" y="955" width="0.6" height="2" fill="#bbbbbb" />
<rect x="985.6" y="955" width="0.6" height="2" fill="#bbbbbb" />
<rect x="1002.1" y="955" width="0.6" height="2" fill="#bbbbbb" />
<rect x="1018.6" y="955" width="0.6" height="2" fill="#bbbbbb" />
<text transform="matrix(0.23 0 0 0.79 878.17 945.81)" font-size="100" font-weight="bold" fill="#f0a830" font-family='"Liberation Sans", sans-serif'>G</text>
<text transform="matrix(0.21 0 0 0.96 896.06 948.44)" font-size="100" font-weight="bold" fill="#f0a830" font-family='"Liberation Sans", sans-serif'>G</text>
<text transform="matrix(0.23 0 0 0.96 911.59 948.44)" font-size="100" font-weight="bold" fill="#f0a830" font-family='"Liberation Sans", sans-serif'>G</text>
<text transform="matrix(0.23 0 0 0.96 928.3 948.44)" font-size="100" font-weight="bold" fill="#f0a830" font-family='"Liberation Sans", sans-serif'>G</text>
<text transform="matrix(0.24 0 0 0.39 944.13 937.71)" font-size="100" font-weight="bold" fill="#1f4e9c" font-family='"Liberation Sans", sans-serif'>C</text>
<text transform="matrix(0.24 0 0 0.14 944.51 949.4)" font-size="100" font-weight="bold" fill="#1e9a3e" font-family='"Liberation Sans", sans-serif'>A</text>
<text transform="matrix(0.23 0 0 0.95 961.18 947.75)" font-size="100" font-weight="bold" fill="#f0a830" font-family='"Liberation Sans", sans-serif'>G</text>
<text transform="matrix(0.23 0 0 0.68 977.48 943.12)" font-size="100" font-weight="bold" fill="#f0a830" font-family='"Liberation Sans", sans-serif'>G</text>
<text transform="matrix(0.24 0 0 0.05 977.45 948.65)" font-size="100" font-weight="bold" fill="#1f4e9c" font-family='"Liberation Sans", sans-serif'>C</text>
<text transform="matrix(0.22 0 0 0.19 993.92 940.01)" font-size="100" font-weight="bold" fill="#f0a830" font-family='"Liberation Sans", sans-serif'>G</text>
<text transform="matrix(0.22 0 0 0.11 994.25 948.5)" font-size="100" font-weight="bold" fill="#1e9a3e" font-family='"Liberation Sans", sans-serif'>A</text>
<text transform="matrix(0.23 0 0 0.56 1010.18 941.74)" font-size="100" font-weight="bold" fill="#f0a830" font-family='"Liberation Sans", sans-serif'>G</text>
<text transform="matrix(0.23 0 0 0.1 1010.52 949.4)" font-size="100" font-weight="bold" fill="#1e9a3e" font-family='"Liberation Sans", sans-serif'>A</text>
<rect x="885" y="946" width="3.5" height="3.5" fill="#d0202a" />
<text x="944.5" y="977.8" font-size="15.5" fill="#3f7fcb" font-weight="bold" text-anchor="middle" font-family='"Liberation Sans", sans-serif' >SP1</text>
<line x1="1081.5" y1="883" x2="1081.5" y2="933" stroke="#333" stroke-width="1" />
<line x1="1081.5" y1="933" x2="1214" y2="933" stroke="#333" stroke-width="1.4" />
<line x1="1078.8" y1="884" x2="1081.5" y2="884" stroke="#333" stroke-width="0.8" />
<text x="1077.8" y="887.3" font-size="9.2" fill="#333" font-weight="normal" text-anchor="end" font-family='"Liberation Sans", sans-serif' >2.0</text>
<line x1="1078.8" y1="908.2" x2="1081.5" y2="908.2" stroke="#333" stroke-width="0.8" />
<text x="1077.8" y="911.5" font-size="9.2" fill="#333" font-weight="normal" text-anchor="end" font-family='"Liberation Sans", sans-serif' >1.0</text>
<line x1="1078.8" y1="932.3" x2="1081.5" y2="932.3" stroke="#333" stroke-width="0.8" />
<text x="1077.8" y="935.6" font-size="9.2" fill="#333" font-weight="normal" text-anchor="end" font-family='"Liberation Sans", sans-serif' >0</text>
<text x="1085.5" y="943.5" font-size="8.6" fill="#333" font-weight="normal" text-anchor="middle" font-family='"Liberation Sans", sans-serif' >−5</text>
<text x="1097.75" y="943.5" font-size="8.6" fill="#333" font-weight="normal" text-anchor="middle" font-family='"Liberation Sans", sans-serif' >−4</text>
<text x="1110" y="943.5" font-size="8.6" fill="#333" font-weight="normal" text-anchor="middle" font-family='"Liberation Sans", sans-serif' >−3</text>
<text x="1122.25" y="943.5" font-size="8.6" fill="#333" font-weight="normal" text-anchor="middle" font-family='"Liberation Sans", sans-serif' >−2</text>
<text x="1134.5" y="943.5" font-size="8.6" fill="#333" font-weight="normal" text-anchor="middle" font-family='"Liberation Sans", sans-serif' >−1</text>
<text x="1146.75" y="943.5" font-size="8.6" fill="#333" font-weight="normal" text-anchor="middle" font-family='"Liberation Sans", sans-serif' >+1</text>
<text x="1159" y="943.5" font-size="8.6" fill="#333" font-weight="normal" text-anchor="middle" font-family='"Liberation Sans", sans-serif' >+2</text>
<text x="1171.25" y="943.5" font-size="8.6" fill="#333" font-weight="normal" text-anchor="middle" font-family='"Liberation Sans", sans-serif' >+3</text>
<text x="1183.5" y="943.5" font-size="8.6" fill="#333" font-weight="normal" text-anchor="middle" font-family='"Liberation Sans", sans-serif' >+4</text>
<text x="1195.75" y="943.5" font-size="8.6" fill="#333" font-weight="normal" text-anchor="middle" font-family='"Liberation Sans", sans-serif' >+5</text>
<text x="1208" y="943.5" font-size="8.6" fill="#333" font-weight="normal" text-anchor="middle" font-family='"Liberation Sans", sans-serif' >+6</text>
<text x="1147" y="958.4" font-size="8.4" fill="#333" font-weight="normal" text-anchor="middle" font-family='"Liberation Sans", sans-serif' >Position Relative to TSS at +1</text>
<text transform="translate(1059.4 916.2) rotate(-90)" font-size="8.5" fill="#333" text-anchor="middle" font-family='"Liberation Sans", sans-serif'>Information Content</text>
<text transform="matrix(0.19 0 0 0.05 1104.31 933)" font-size="100" font-weight="bold" fill="#d0202a" font-family='"Liberation Sans", sans-serif'>T</text>
<text transform="matrix(0.17 0 0 0.06 1103.83 929.54)" font-size="100" font-weight="bold" fill="#1f4e9c" font-family='"Liberation Sans", sans-serif'>C</text>
<text transform="matrix(0.16 0 0 0.05 1103.85 925.35)" font-size="100" font-weight="bold" fill="#f0a830" font-family='"Liberation Sans", sans-serif'>G</text>
<text transform="matrix(0.16 0 0 0.06 1116.1 932.94)" font-size="100" font-weight="bold" fill="#f0a830" font-family='"Liberation Sans", sans-serif'>G</text>
<text transform="matrix(0.19 0 0 0.05 1116.56 929)" font-size="100" font-weight="bold" fill="#d0202a" font-family='"Liberation Sans", sans-serif'>T</text>
<text transform="matrix(0.17 0 0 0.05 1116.08 925.35)" font-size="100" font-weight="bold" fill="#1f4e9c" font-family='"Liberation Sans", sans-serif'>C</text>
<text transform="matrix(0.17 0 0 0.7 1128.33 932.3)" font-size="100" font-weight="bold" fill="#1f4e9c" font-family='"Liberation Sans", sans-serif'>C</text>
<text transform="matrix(0.16 0 0 0.72 1140.84 933)" font-size="100" font-weight="bold" fill="#1e9a3e" font-family='"Liberation Sans", sans-serif'>A</text>
<text transform="matrix(0.17 0 0 0.05 1152.83 932.95)" font-size="100" font-weight="bold" fill="#1f4e9c" font-family='"Liberation Sans", sans-serif'>C</text>
<text transform="matrix(0.19 0 0 0.04 1153.31 929.4)" font-size="100" font-weight="bold" fill="#d0202a" font-family='"Liberation Sans", sans-serif'>T</text>
<text transform="matrix(0.16 0 0 0.06 1152.85 925.74)" font-size="100" font-weight="bold" fill="#f0a830" font-family='"Liberation Sans", sans-serif'>G</text>
<text transform="matrix(0.16 0 0 0.14 1165.34 933)" font-size="100" font-weight="bold" fill="#1e9a3e" font-family='"Liberation Sans", sans-serif'>A</text>
<text transform="matrix(0.19 0 0 0.22 1165.56 922.6)" font-size="100" font-weight="bold" fill="#d0202a" font-family='"Liberation Sans", sans-serif'>T</text>
<rect x="1080.5" y="932" width="10" height="1" fill="#d0d0d0" />
<rect x="1092.75" y="932" width="10" height="1" fill="#d0d0d0" />
<rect x="1178.5" y="932" width="10" height="1" fill="#d0d0d0" />
<rect x="1190.75" y="932" width="10" height="1" fill="#d0d0d0" />
<rect x="1203" y="932" width="10" height="1" fill="#d0d0d0" />
<text x="1141.4" y="979.2" font-size="15.6" fill="#e8822a" font-weight="bold" text-anchor="middle" font-family='"Liberation Sans", sans-serif' >Inr</text>
<text x="943" y="1012" font-size="16.1" fill="#111" font-weight="bold" text-anchor="middle" font-family='"Liberation Sans", sans-serif' >MER67A-IL27</text>
</svg></body></html>
